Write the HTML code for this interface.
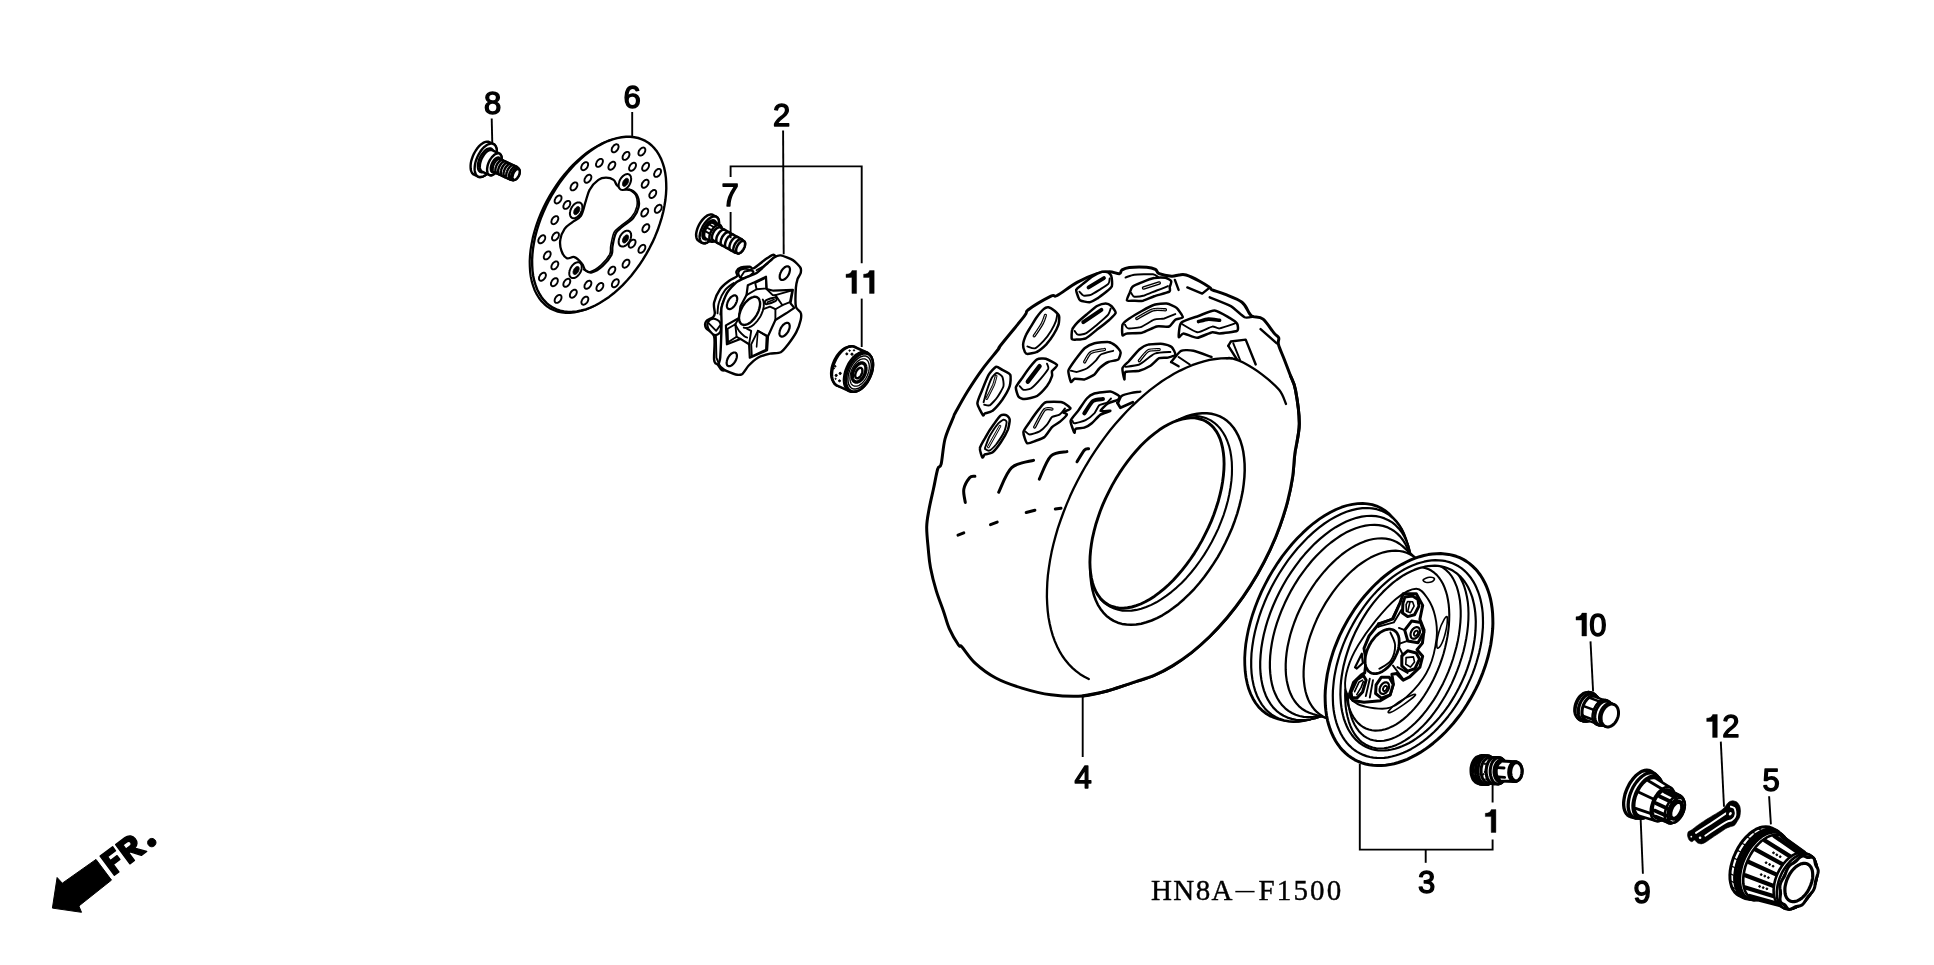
<!DOCTYPE html>
<html>
<head>
<meta charset="utf-8">
<title>HN8A-F1500</title>
<style>
html,body{margin:0;padding:0;background:#fff;}
body{width:1934px;height:965px;overflow:hidden;font-family:"Liberation Sans",sans-serif;}
svg{display:block;position:absolute;left:0;top:0;}
.lbl{font-family:"Liberation Sans",sans-serif;font-size:31px;fill:#000;stroke:#000;stroke-width:1.4px;stroke-linejoin:round;text-anchor:middle;}
.code{font-family:"Liberation Serif",serif;font-size:29px;fill:#000;stroke:#000;stroke-width:0.4px;}
.fr{font-family:"Liberation Sans",sans-serif;font-weight:bold;font-size:30px;fill:#000;stroke:#000;stroke-width:1.6px;stroke-linejoin:round;}
.ld{stroke:#000;stroke-width:1.9;fill:none;stroke-linecap:butt;}
.o{stroke:#000;stroke-width:2.3;fill:none;stroke-linecap:round;stroke-linejoin:round;}
.h{stroke:#000;stroke-width:2.6;fill:none;stroke-linecap:round;stroke-linejoin:round;}
.m{stroke:#000;stroke-width:1.9;fill:none;stroke-linecap:round;stroke-linejoin:round;}
.t{stroke:#000;stroke-width:1.6;fill:none;stroke-linecap:round;stroke-linejoin:round;}
.w{stroke:#000;stroke-width:2.3;fill:#fff;stroke-linecap:round;stroke-linejoin:round;}
.wm{stroke:#000;stroke-width:1.9;fill:#fff;stroke-linecap:round;stroke-linejoin:round;}
.k{fill:#000;stroke:#000;stroke-width:1;stroke-linejoin:round;}
.wf{fill:#fff;stroke:none;}
</style>
</head>
<body>
<svg width="1934" height="965" viewBox="0 0 1934 965">
<rect x="0" y="0" width="1934" height="965" fill="#fff"/>
<g id="tire">
<path class="w" d="M1108 690.7 C1099.2 693.1 1092.3 695.3 1082.8 696 C1073.3 696.7 1061.1 696.1 1050.9 694.8 C1040.8 693.5 1031.1 690.9 1021.9 688.1 C1012.7 685.3 1003.5 682.1 995.8 678 C988 673.9 981 668.6 975.4 663.4 C969.8 658.2 964.8 650.1 962 647 C959.2 643.9 960.6 648.1 958.5 645 C956.4 641.9 951.8 634.2 949.3 628.6 C946.8 623 945.7 617.5 943.5 611.2 C941.3 604.9 938.5 598.1 936.3 590.9 C934.1 583.6 931.8 574.5 930.5 567.7 C929.2 560.9 929 557.1 928.4 550.3 C927.8 543.5 926.6 533.9 926.7 527.1 C926.8 520.3 927.9 515.9 929 509.6 C930.1 503.3 931.9 496.1 933.4 489.3 C934.9 482.5 936.4 473.2 937.7 469 C939 464.8 940 468.8 941.2 463.8 C942.4 458.8 943 446.8 945 439 C947 431.2 951.8 421.4 953.5 417 C955.2 412.6 953.2 416.7 955.5 412.5 C957.8 408.3 962.8 398.9 967.3 391.7 C971.8 384.5 977.1 376.4 982.3 369.3 C987.5 362.2 995.5 353 998.5 349 C1001.5 345 996.2 351 1000.5 345.5 C1004.8 340 1019.9 321.9 1024.5 315.9 C1029.1 309.9 1023.9 313 1028.3 309.7 C1032.7 306.4 1046.2 298.5 1051 296.1 C1055.8 293.7 1052.9 297.8 1057.2 295.5 C1061.5 293.2 1070.5 286 1077.1 282.4 C1083.7 278.8 1091.6 275.5 1097 273.7 C1102.4 271.9 1105.8 271.8 1109.5 271.8 C1113.2 271.8 1117.3 274 1119.4 273.7 C1121.5 273.4 1120.2 271 1121.9 270 C1123.6 269 1125.2 268 1129.3 267.5 C1133.4 267 1142.3 266.9 1146.7 267.2 C1151.1 267.5 1153.3 268.3 1155.4 269.4 C1157.5 270.5 1156.5 272.6 1159.2 273.7 C1161.9 274.8 1168.3 276 1171.6 276.2 C1174.9 276.4 1176.6 275.2 1179 275 C1181.4 274.8 1182.6 274 1186.1 275 C1189.5 276 1195.8 279.1 1199.7 281.2 C1203.6 283.3 1207.6 285.9 1209.7 287.4 C1211.8 288.8 1209.7 288.8 1212.2 289.9 C1214.7 291 1219.6 292.1 1224.6 294.2 C1229.6 296.3 1237.8 299.1 1242 302.3 C1246.2 305.5 1247.6 311.1 1249.5 313.5 C1251.4 315.9 1250.9 315.7 1253.2 316.6 C1255.5 317.5 1259.6 316.3 1263.1 319.1 C1266.6 321.9 1271.7 330.3 1274.3 333.4 C1276.9 336.5 1278 335.9 1278.7 337.8 C1279.4 339.7 1277.6 341 1278.5 344.6 C1279.4 348.2 1282.3 354.3 1284.3 359.5 C1286.3 364.7 1288.6 370.6 1290.5 375.7 C1292.4 380.8 1294 381.9 1295.5 390 C1297 398.1 1299.4 413.3 1299.3 424 C1299.2 434.7 1295.9 445.1 1294.8 454 C1293.7 462.9 1293.8 469.3 1292.6 477.1 C1291.4 485 1289.7 493.2 1287.6 501.3 C1285.5 509.4 1282.9 517.7 1279.9 525.9 C1277 534.1 1273.5 542.4 1269.8 550.4 C1266 558.5 1261.8 566.5 1257.4 574.3 C1252.9 582 1248.1 589.6 1243 596.9 C1237.9 604.2 1232.5 611.2 1227 617.8 C1221.4 624.4 1215.6 630.7 1209.7 636.5 C1203.7 642.3 1197.6 647.7 1191.5 652.6 C1185.3 657.4 1179 661.8 1172.8 665.6 C1166.6 669.4 1160.3 672.7 1154.1 675.4 C1147.9 678 1143.5 679.1 1135.8 681.6 C1128.1 684.2 1116.8 688.3 1108 690.7 Z" style="stroke-width:3"/>
<path class="m" d="M1228.3 345.8 L1230.8 341.5 L1245.7 339.6 L1255.7 364.5" style="stroke-width:2.4"/>
<path class="m" d="M1228.3 345.8 L1237 359.5" style="stroke-width:2.4"/>
<path class="m" d="M1233.3 343.3 L1240.1 360.1" style="stroke-width:1.9"/>
<path class="m" d="M1171.1 362 C1172.1 360.9 1178.8 351.9 1181.1 350.8 C1183.3 349.7 1190.5 350.2 1193.5 350.8 C1196.6 351.4 1209.7 356.4 1211.5 357" style="stroke-width:2.4"/>
<path class="m" d="M1178.6 357 L1189.8 364.5" style="stroke-width:2.1"/>
<path class="m" d="M1171.1 362 L1178.6 366.3" style="stroke-width:2.4"/>
<path class="m" d="M1117.9 403.5 C1118.3 402.7 1120.2 397.1 1121.6 396 C1123 394.9 1129.7 393.3 1131.6 392.9 C1133.4 392.5 1139.4 391.8 1140.3 391.6" style="stroke-width:2.4"/>
<path class="m" d="M1117.3 402.8 L1120.4 407.8 L1132.8 402.2" style="stroke-width:2.8"/>
<path class="m" d="M1187.3 287.4 L1202.2 293.6 L1208.4 288.6" style="stroke-width:2.4"/>
<path class="m" d="M1209.7 297.3 C1211.8 298.2 1227.3 304.1 1230.8 306.1 C1234.3 308 1242.2 316.2 1244.5 317.2 C1246.7 318.3 1252.3 316.7 1253.2 316.6" style="stroke-width:2.4"/>
<path class="m" d="M1260.6 329.1 L1276.8 343.3" style="stroke-width:2.4"/>
<path class="m" d="M1174.9 279.9 L1178.6 289.9" style="stroke-width:2.4"/>
<path class="m" d="M1125.6 277.4 C1126.5 277.2 1131.6 275 1134.3 274.7 C1137.1 274.4 1150.6 274.1 1153 274.3 C1155.3 274.5 1157.4 276.6 1157.9 276.8" style="stroke-width:2.1"/>
<path class="w" d="M1076.3 289.6 C1075.7 290.9 1077.7 295.6 1078.1 296.7 C1078.5 297.8 1079.1 299.9 1080.2 300.4 C1081.4 301 1087.8 302.5 1089.6 302.3 C1091.3 302.1 1096 299.3 1097.6 298.3 C1099.3 297.3 1104.5 293.3 1106 292.1 C1107.4 290.9 1111.4 287.7 1111.9 286.1 C1112.5 284.6 1111.8 277.8 1111.4 276.4 C1111.1 275.1 1109.2 272.9 1108.2 272.5 C1107.3 272 1103.6 271.4 1102 271.8 C1100.4 272.3 1093.9 275.6 1092 276.8 C1090.2 278 1084.9 282.4 1083.3 283.6 C1081.8 284.9 1076.8 288.3 1076.3 289.6 Z" style="stroke-width:2.5"/>
<path class="m" d="M1079.4 291.7 C1079.8 292.1 1082.5 295.3 1083.6 295.6 C1084.7 295.9 1089.2 295.4 1090.8 294.8 C1092.4 294.2 1098 290.7 1099.8 289.6 C1101.5 288.5 1107.5 284.8 1108.5 283.6 C1109.5 282.5 1109.6 278.9 1109.7 278.4" style="stroke-width:1.9"/>
<path d="M1088.6 287.4 L1103.9 278.1" fill="none" stroke="#000" stroke-width="4" stroke-linecap="round" stroke-linejoin="round"/>
<path class="w" d="M1126.9 300.4 C1126.5 299.6 1129 294.3 1129.6 293 C1130.2 291.6 1131.2 287.8 1132.5 286.8 C1133.7 285.7 1139.6 283.3 1141.8 282.4 C1144 281.5 1151.8 278.5 1154.2 278.1 C1156.6 277.6 1163.7 277.5 1165.4 277.8 C1167.1 278.1 1170.8 280.2 1171.2 281.2 C1171.7 282.1 1169.9 286.3 1169.7 287.4 C1169.6 288.4 1170.9 290.8 1169.4 291.7 C1167.8 292.6 1156.8 295.4 1154.2 296.3 C1151.6 297.2 1145.1 300.2 1143 300.7 C1140.9 301.1 1134.7 300.8 1133.1 300.8 C1131.5 300.8 1127.2 301.2 1126.9 300.4 Z" style="stroke-width:2.5"/>
<path class="m" d="M1131.2 293 C1131.5 293.3 1133 296.5 1134.3 296.7 C1135.6 296.9 1142 296.1 1144.3 295.5 C1146.5 294.8 1154.3 291.4 1156.7 290.5 C1159.1 289.6 1166.8 286.6 1167.9 286.1" style="stroke-width:1.9"/>
<path d="M1143.6 288 L1159.2 283" fill="none" stroke="#000" stroke-width="3.6" stroke-linecap="round" stroke-linejoin="round"/>
<path d="M1143.6 288 L1159.2 283" fill="none" stroke="#fff" stroke-width="0.9" stroke-linecap="round" stroke-linejoin="round"/>
<path class="w" d="M1023.1 344.6 C1023.2 342.8 1025.4 336.4 1026.2 334.6 C1026.9 332.9 1029.5 328.9 1030.5 327.2 C1031.6 325.4 1035.4 319 1036.7 317.2 C1038 315.4 1042.4 310.1 1043.6 309.1 C1044.7 308.1 1047.4 307.1 1048.5 307.3 C1049.7 307.5 1053.7 310.1 1054.8 311 C1055.8 311.9 1058.7 314.6 1059.1 316 C1059.5 317.3 1059 322.8 1058.5 324.7 C1057.9 326.5 1054.8 332.6 1053.5 334.6 C1052.3 336.6 1047.7 342.8 1046.1 344.6 C1044.4 346.3 1038.6 351.1 1036.7 352 C1034.9 353 1028.6 353.9 1027.4 353.9 C1026.2 353.9 1025.4 353 1024.9 352 C1024.5 351.1 1022.9 346.3 1023.1 344.6 Z" style="stroke-width:2.5"/>
<path class="m" d="M1027.4 346.4 C1028.2 346.6 1033.2 348.9 1034.9 348.3 C1036.5 347.7 1041.9 342.6 1043.6 340.8 C1045.2 339.1 1049.8 332.9 1051 330.9 C1052.3 328.9 1055.4 322.6 1056 320.9 C1056.6 319.3 1057.1 315.3 1057.2 314.7" style="stroke-width:1.9"/>
<path d="M1034.2 335.9 C1035.3 334.3 1040.9 326 1042.3 323.4 C1043.7 320.9 1045 316.4 1045.4 315.3" fill="none" stroke="#000" stroke-width="3.2" stroke-linecap="round" stroke-linejoin="round"/>
<path d="M1034.2 335.9 C1035.3 334.3 1040.9 326 1042.3 323.4 C1043.7 320.9 1045 316.4 1045.4 315.3" fill="none" stroke="#fff" stroke-width="0.9" stroke-linecap="round" stroke-linejoin="round"/>
<path class="w" d="M1071.8 339 C1071.4 338 1071.6 331.3 1072.2 329.6 C1072.7 328 1075.6 324.4 1077.1 322.8 C1078.6 321.3 1085.1 315.8 1087.1 314.1 C1089.1 312.4 1095.2 307.1 1097 306 C1098.9 305 1104.3 303.5 1105.7 303.5 C1107.2 303.5 1110.3 305.1 1111.3 306 C1112.3 307 1115.9 311.5 1115.7 312.9 C1115.5 314.2 1111.3 318 1109.5 319.7 C1107.6 321.4 1099.4 327.8 1097 329.6 C1094.7 331.5 1087.9 337.4 1085.8 338.3 C1083.7 339.3 1077.3 339.5 1075.9 339.6 C1074.5 339.7 1072.2 340 1071.8 339 Z" style="stroke-width:2.5"/>
<path class="m" d="M1074.6 330.9 C1075 331.3 1076.6 334.4 1077.8 334.6 C1078.9 334.9 1083.9 334.4 1085.8 333.4 C1087.8 332.4 1094.8 326.5 1097 324.7 C1099.3 322.8 1106.8 316.3 1108.2 314.7 C1109.6 313.1 1110.4 309.1 1110.7 308.5" style="stroke-width:1.9"/>
<path d="M1083.3 322.2 L1101.4 309.8" fill="none" stroke="#000" stroke-width="4" stroke-linecap="round" stroke-linejoin="round"/>
<path class="w" d="M1122.5 335.2 C1122.1 334.4 1121.8 326.4 1122.5 324.7 C1123.2 323 1127.4 319.8 1129.3 318.5 C1131.3 317.1 1139.3 312.4 1141.8 311 C1144.3 309.6 1151.7 305.5 1154.2 304.8 C1156.7 304 1164.4 303.2 1166.6 303.5 C1168.9 303.8 1175 306.5 1176.6 307.9 C1178.2 309.3 1182.9 316 1182.8 317.2 C1182.7 318.4 1176.7 318.8 1175.3 319.7 C1174 320.6 1171 325.9 1169.1 326.5 C1167.3 327.2 1159.4 325.9 1156.7 326.5 C1154 327.2 1144.8 332.1 1141.8 332.8 C1138.8 333.4 1128.8 333.1 1126.9 333.4 C1124.9 333.6 1122.9 336.1 1122.5 335.2 Z" style="stroke-width:2.5"/>
<path class="m" d="M1125 324.7 C1125.3 325 1126.5 328.2 1128.1 328.4 C1129.7 328.6 1137.9 328 1140.5 327.2 C1143.1 326.3 1151.8 320.6 1154.2 319.7 C1156.6 318.8 1162 319 1164.2 318.5 C1166.3 317.9 1174.2 314.5 1175.3 314.1" style="stroke-width:1.9"/>
<path d="M1136.8 318.5 C1138.8 317.4 1149.4 310.8 1153 309.8 C1156.5 308.7 1163.8 309.8 1165.4 309.8" fill="none" stroke="#000" stroke-width="3.4" stroke-linecap="round" stroke-linejoin="round"/>
<path d="M1136.8 318.5 C1138.8 317.4 1149.4 310.8 1153 309.8 C1156.5 308.7 1163.8 309.8 1165.4 309.8" fill="none" stroke="#fff" stroke-width="0.8" stroke-linecap="round" stroke-linejoin="round"/>
<path class="w" d="M1178.8 337.1 C1178.6 336.1 1179.1 324.9 1181.1 322.8 C1183 320.7 1195.1 317.2 1198.5 316 C1201.8 314.8 1211.5 310.2 1214.6 310.4 C1217.8 310.6 1227.3 316.6 1229.6 317.9 C1231.8 319.2 1236.3 322.2 1237 323.5 C1237.8 324.8 1238.8 329.9 1237 330.9 C1235.3 331.9 1222.1 333.3 1219.6 333.4 C1217.1 333.5 1214.4 331.7 1212.2 332.2 C1209.9 332.6 1200.1 337.6 1197.2 337.8 C1194.4 337.9 1185.4 333.5 1183.6 333.4 C1181.7 333.3 1179.1 338.2 1178.8 337.1 Z" style="stroke-width:2.5"/>
<path class="m" d="M1181.1 323.5 C1182.7 324.3 1194.1 331.8 1197.2 332.2 C1200.3 332.5 1209.9 326.9 1212.2 326.6 C1214.4 326.2 1217.3 328.8 1219.6 328.4 C1222 328.1 1234.2 323.7 1235.8 323.2" style="stroke-width:1.9"/>
<path d="M1198.5 321.6 C1199.7 321.3 1205.8 319.3 1208.4 319.1 C1211.1 318.9 1218.2 320.2 1219.6 320.3" fill="none" stroke="#000" stroke-width="3.6" stroke-linecap="round" stroke-linejoin="round"/>
<path class="w" d="M983 415.3 C982.3 414.3 977.5 405.9 977.4 403.5 C977.3 401 980.6 393.9 981.8 391 C982.9 388.2 987.2 377.3 988.6 374.9 C990 372.4 994.7 367.3 996.1 366.8 C997.4 366.3 1000.8 369.1 1002.3 369.9 C1003.7 370.7 1009.6 373.2 1010.3 374.9 C1011.1 376.5 1010.5 383.6 1009.7 386.1 C1008.9 388.5 1004 397.2 1002.3 399.7 C1000.5 402.2 994.1 409.5 992.3 410.9 C990.6 412.3 985.8 413 984.9 413.4 C983.9 413.8 983.7 416.3 983 415.3 Z" style="stroke-width:2.5"/>
<path class="m" d="M983.6 402.2 C983.9 401.1 985.9 393.4 986.7 391 C987.5 388.6 990.7 379.8 991.7 378 C992.7 376.2 995.6 373.1 996.7 373 C997.7 372.9 1001.6 375.4 1002.3 376.7 C1003 378 1004 384 1003.5 386.1 C1003 388.1 998.7 395.3 997.3 397.2 C995.9 399.2 991.1 404.6 989.8 405.3 C988.5 406.1 984.8 404.8 984.2 404.7" style="stroke-width:1.9"/>
<path d="M986.7 398.5 C987.6 396.8 992.4 387.6 993.6 384.8 C994.7 382 995.7 377.2 996.1 376.1" fill="none" stroke="#000" stroke-width="2.8" stroke-linecap="round" stroke-linejoin="round"/>
<path d="M986.7 398.5 C987.6 396.8 992.4 387.6 993.6 384.8 C994.7 382 995.7 377.2 996.1 376.1" fill="none" stroke="#fff" stroke-width="0.8" stroke-linecap="round" stroke-linejoin="round"/>
<path class="w" d="M1018.4 396.6 C1017.6 395.4 1015.6 389.2 1015.9 387.3 C1016.3 385.4 1020.8 380 1022.2 378 C1023.5 376 1028.1 369.3 1029.6 367.4 C1031.1 365.5 1035.5 360.2 1037.1 359.3 C1038.7 358.5 1043.8 358.1 1045.8 358.7 C1047.8 359.3 1056.3 363.7 1057 364.9 C1057.6 366.2 1052.5 370 1052 371.1 C1051.5 372.3 1052.5 374.6 1052 376.1 C1051.5 377.6 1048.5 384.1 1047 386.1 C1045.5 388 1039.3 394.7 1037.1 396 C1034.8 397.3 1026.5 399 1024.6 399.1 C1022.8 399.2 1019.3 397.8 1018.4 396.6 Z" style="stroke-width:2.5"/>
<path class="m" d="M1019.7 386.1 C1020 386.4 1022.3 389.5 1023.4 389.8 C1024.5 390 1029.1 389.7 1030.9 388.5 C1032.6 387.4 1039.1 380.6 1040.8 378.6 C1042.5 376.6 1047.6 370.1 1048.3 368.6 C1048.9 367.2 1047.1 364.2 1047 363.7" style="stroke-width:1.9"/>
<path d="M1027.8 381.7 L1039.6 366.2" fill="none" stroke="#000" stroke-width="4.4" stroke-linecap="round" stroke-linejoin="round"/>
<path class="w" d="M1070.9 381.9 C1070.3 381 1068.1 372.8 1068.4 370.7 C1068.8 368.6 1073 363 1074.6 360.7 C1076.3 358.5 1082.6 350 1084.6 348.3 C1086.6 346.6 1092.2 343.9 1094.5 343.3 C1096.9 342.7 1106.1 341.8 1108.2 342.1 C1110.3 342.3 1114.4 344.8 1115.7 345.8 C1116.9 346.8 1120.4 350.7 1120.6 352 C1120.9 353.4 1119.4 358.5 1118.2 359.5 C1116.9 360.5 1110.1 361.1 1108.2 362 C1106.3 362.8 1100.9 366.9 1099.5 368.2 C1098.1 369.4 1096 373.3 1094.5 374.4 C1093 375.5 1086.6 378.9 1084.6 379.4 C1082.6 379.8 1076 378.5 1074.6 378.7 C1073.3 379 1071.5 382.7 1070.9 381.9 Z" style="stroke-width:2.5"/>
<path class="m" d="M1070.9 370.7 C1071.5 370.8 1075.5 372.2 1077.1 371.9 C1078.7 371.7 1085.2 369.3 1087.1 368.2 C1088.9 367.1 1094.4 362.1 1095.8 360.7 C1097.1 359.4 1099 355.5 1100.8 354.5 C1102.5 353.5 1111.9 351.2 1113.2 350.8" style="stroke-width:1.9"/>
<path d="M1084.6 362 C1085.4 360.8 1088.3 354.2 1090.8 352.6 C1093.3 351.1 1102.8 349.9 1104.5 349.5" fill="none" stroke="#000" stroke-width="3.2" stroke-linecap="round" stroke-linejoin="round"/>
<path d="M1084.6 362 C1085.4 360.8 1088.3 354.2 1090.8 352.6 C1093.3 351.1 1102.8 349.9 1104.5 349.5" fill="none" stroke="#fff" stroke-width="0.9" stroke-linecap="round" stroke-linejoin="round"/>
<path class="w" d="M1124.4 379.4 C1124.1 379 1122 370 1122.5 368.2 C1123 366.3 1127.7 362.6 1129.3 360.7 C1131 358.9 1137.4 351.2 1139.3 349.5 C1141.2 347.9 1145.6 345.1 1148 344.6 C1150.4 344 1160.5 343.7 1162.9 343.9 C1165.3 344.2 1170.4 346 1171.6 347 C1172.9 348.1 1175.7 353.5 1175.3 354.5 C1175 355.6 1169.5 357.2 1167.9 357.6 C1166.3 358 1160.9 357.4 1159.2 358.2 C1157.4 359 1152.5 364.5 1150.5 365.7 C1148.5 366.9 1141.8 370 1139.3 370.7 C1136.8 371.3 1127.1 371 1125.6 371.9 C1124.1 372.8 1124.7 379.7 1124.4 379.4 Z" style="stroke-width:2.5"/>
<path class="m" d="M1125.6 366.9 C1127 366.7 1137.1 365.3 1139.3 364.5 C1141.5 363.6 1146.4 359.4 1148 358.2 C1149.6 357.1 1153.2 353.9 1155.5 353.3 C1157.7 352.6 1168.9 352.1 1170.4 352" style="stroke-width:1.9"/>
<path d="M1139.3 360.7 C1140.4 359.5 1145.5 352.2 1148 350.8 C1150.5 349.4 1157.8 349.7 1159.2 349.5" fill="none" stroke="#000" stroke-width="3.2" stroke-linecap="round" stroke-linejoin="round"/>
<path d="M1139.3 360.7 C1140.4 359.5 1145.5 352.2 1148 350.8 C1150.5 349.4 1157.8 349.7 1159.2 349.5" fill="none" stroke="#fff" stroke-width="0.9" stroke-linecap="round" stroke-linejoin="round"/>
<path class="w" d="M982.4 457.5 C981.9 456.9 979.6 450.1 979.9 448.2 C980.1 446.3 983.5 440.6 984.9 438.3 C986.2 435.9 991.9 426.9 993.6 424.6 C995.2 422.3 999.7 416.2 1001 415.3 C1002.3 414.3 1005.7 414.8 1006.6 415.3 C1007.5 415.7 1009.6 418.2 1009.7 419.6 C1009.9 421 1008.7 427.3 1007.9 429.6 C1007 431.8 1002.6 439.7 1001 442 C999.5 444.3 993.9 451.3 992.3 452.6 C990.7 453.8 985.9 453.9 984.9 454.4 C983.9 454.9 982.9 458.2 982.4 457.5 Z" style="stroke-width:2.5"/>
<path class="m" d="M984.9 448.2 C985.3 447.1 988 439.4 989.2 437 C990.5 434.7 995.9 426.3 997.3 424.6 C998.7 422.8 1002.6 419.9 1003.5 419.6 C1004.4 419.4 1006.6 420.9 1006.6 422.1 C1006.7 423.3 1005.2 429.8 1004.1 432 C1003.1 434.3 997.5 442.6 996.1 444.5 C994.6 446.3 990.3 450.3 989.2 450.7 C988.1 451.1 985.3 449 984.9 448.8" style="stroke-width:1.9"/>
<path d="M988.3 447 L1000 426.1" fill="none" stroke="#000" stroke-width="2.6" stroke-linecap="round" stroke-linejoin="round"/>
<path d="M988.3 447 L1000 426.1" fill="none" stroke="#fff" stroke-width="0.9" stroke-linecap="round" stroke-linejoin="round"/>
<path class="w" d="M1027.1 443.2 C1025.9 442.4 1023.2 434.2 1023.4 432 C1023.6 429.9 1028 424.5 1029.6 422.1 C1031.2 419.7 1037.9 410.4 1039.6 408.4 C1041.2 406.4 1043.5 402.8 1045.8 402.2 C1048 401.6 1059.5 401.6 1061.9 402.2 C1064.4 402.8 1070.5 407.4 1070.6 408.4 C1070.8 409.4 1063.6 411.5 1063.2 412.2 C1062.8 412.8 1067.3 413.6 1066.9 414.6 C1066.5 415.6 1060.9 420.9 1059.5 422.1 C1058 423.3 1053.5 425.6 1052 427.1 C1050.5 428.6 1046.2 435.7 1044.5 437 C1042.9 438.4 1037.6 440.1 1035.8 440.8 C1034.1 441.4 1028.4 444.1 1027.1 443.2 Z" style="stroke-width:2.5"/>
<path class="m" d="M1025.3 431.4 C1025.7 431.7 1028.2 434.5 1029.6 434.5 C1031 434.5 1037.8 432.4 1039.6 431.4 C1041.3 430.4 1045.8 426 1047 424.6 C1048.3 423.2 1050.8 418.1 1052 417.1 C1053.2 416.1 1058.1 415.5 1059.5 414.6 C1060.8 413.8 1064.5 409.1 1065 408.4" style="stroke-width:1.9"/>
<path d="M1034.6 427.1 C1035.8 424.9 1042.4 411.9 1044.5 409.7 C1046.7 407.4 1051.1 409.1 1052 409.1" fill="none" stroke="#000" stroke-width="3.2" stroke-linecap="round" stroke-linejoin="round"/>
<path d="M1034.6 427.1 C1035.8 424.9 1042.4 411.9 1044.5 409.7 C1046.7 407.4 1051.1 409.1 1052 409.1" fill="none" stroke="#fff" stroke-width="0.8" stroke-linecap="round" stroke-linejoin="round"/>
<path class="w" d="M1074.4 432.7 C1073.9 431.9 1070.3 423 1070.6 420.9 C1071 418.7 1076.5 413.2 1078.1 410.9 C1079.7 408.7 1085.2 400.2 1086.8 398.5 C1088.4 396.7 1091.9 394.2 1094.3 393.5 C1096.6 392.8 1107.9 391.4 1110.4 391.6 C1112.9 391.9 1118.4 395.2 1119.1 396 C1119.9 396.8 1119 399 1117.9 399.7 C1116.8 400.5 1109.7 402.3 1107.9 403.5 C1106.2 404.6 1100.2 410.2 1100.5 410.9 C1100.7 411.7 1110.4 410.5 1110.4 410.9 C1110.4 411.3 1102.3 413.4 1100.5 414.6 C1098.6 415.9 1093.4 422 1091.8 423.3 C1090.2 424.7 1085.9 427.1 1084.3 427.7 C1082.7 428.3 1076.6 428.4 1075.6 428.9 C1074.6 429.4 1074.9 433.5 1074.4 432.7 Z" style="stroke-width:2.5"/>
<path class="m" d="M1072.5 420.9 C1072.7 421.1 1073.1 423.4 1074.4 423.3 C1075.7 423.3 1083.6 421.2 1085.6 420.2 C1087.5 419.2 1092.9 414.9 1094.3 413.4 C1095.6 411.9 1098 406.4 1099.2 405.3 C1100.5 404.3 1105.5 403.5 1106.7 402.8 C1107.9 402.2 1110.6 398.9 1111 398.5" style="stroke-width:1.9"/>
<path d="M1084.3 413.4 C1085.4 411.8 1090.7 402.8 1093 401 C1095.3 399.2 1101.7 399.3 1103 399.1" fill="none" stroke="#000" stroke-width="4" stroke-linecap="round" stroke-linejoin="round"/>
<path class="wf" d="M1296.3 452.2 L1294.6 430 L1288.5 408 L1279.3 390 L1261.9 374.4 L1243.2 362.6 L1231.9 358.3 L1226.2 358.1 L1220.4 358.4 L1214.4 359.1 L1208.3 360.2 L1202.2 361.8 L1195.9 363.8 L1189.6 366.2 L1183.2 369.1 L1176.8 372.3 L1170.4 376 L1163.9 380 L1157.5 384.4 L1151.2 389.2 L1144.8 394.3 L1138.6 399.8 L1132.4 405.6 L1126.4 411.7 L1120.5 418.1 L1114.6 424.8 L1109 431.8 L1103.5 439 L1098.2 446.4 L1093.1 454 L1088.2 461.8 L1083.5 469.7 L1079.1 477.8 L1074.9 486 L1071 494.3 L1067.3 502.7 L1063.9 511.1 L1060.8 519.5 L1058 528 L1055.5 536.4 L1053.3 544.8 L1051.4 553.1 L1049.9 561.4 L1048.6 569.5 L1047.7 577.5 L1047.1 585.4 L1046.9 593 L1047 600.5 L1047.4 607.8 L1048.2 614.8 L1049.3 621.6 L1050.7 628.2 L1052.4 634.4 L1054.5 640.3 L1056.8 645.9 L1059.5 651.2 L1062.5 656.1 L1065.8 660.7 L1069.3 664.9 L1073.1 668.7 L1077.2 672.1 L1081.5 675.1 L1086.1 677.7 L1090.9 679.8 L1095.9 681.6 L1101.2 682.9 L1106.6 683.8 L1112.1 684.2 L1117.9 684.2 L1123.8 683.8 L1129.8 682.9 L1135.9 681.6 L1142.1 679.9 L1148.4 677.7 L1154.7 675.1 L1161.1 672.1 L1167.5 668.7 L1174 664.9 L1180.4 660.7 L1186.8 656.1 L1193.1 651.2 L1199.4 646 L1205.6 640.3 L1211.8 634.4 L1217.8 628.2 L1223.7 621.7 L1229.4 614.9 L1235 607.8 L1240.4 600.6 L1245.6 593.1 L1250.7 585.4 L1255.5 577.5 L1260 569.5 L1264.4 561.4 L1268.5 553.2 L1272.3 544.8 L1275.9 536.4 L1279.2 528 L1282.1 519.5 L1284.8 511.1 L1287.2 502.7 L1289.3 494.3 L1291 486 L1292.5 477.8 L1293.6 469.7 L1294.3 461.8 L1294.8 454 Z"/>
<path class="t" d="M1286 404 C1284.9 401.7 1283.3 394.9 1279.3 390 C1275.3 385.1 1267.9 379 1261.9 374.4 C1255.9 369.8 1248.2 365.3 1243.2 362.6 C1238.2 359.9 1234.7 359.1 1231.9 358.3 C1229.1 357.6 1227.4 358.2 1226.5 358.1" style="stroke-width:2.3"/>
<path class="t" d="M1231.9 358.3 L1226.5 358.1 L1221 358.3 L1215.4 359 L1209.7 359.9 L1203.9 361.3 L1198.1 363.1 L1192.1 365.2 L1186.1 367.7 L1180.1 370.6 L1174 373.8 L1168 377.4 L1161.9 381.3 L1155.9 385.6 L1149.9 390.2 L1144 395.1 L1138.1 400.3 L1132.3 405.8 L1126.6 411.5 L1121 417.6 L1115.5 423.8 L1110.1 430.3 L1104.9 437.1 L1099.9 444 L1095 451.1 L1090.3 458.4 L1085.8 465.8 L1081.5 473.4 L1077.4 481 L1073.5 488.8 L1069.9 496.6 L1066.5 504.6 L1063.4 512.5 L1060.5 520.5 L1057.8 528.4 L1055.5 536.4 L1053.4 544.3 L1051.6 552.1 L1050.1 559.9 L1048.9 567.6 L1047.9 575.2 L1047.3 582.7 L1047 590 L1046.9 597.1 L1047.2 604.1 L1047.7 610.8 L1048.5 617.4 L1049.7 623.7 L1051.1 629.8 L1052.8 635.6 L1054.8 641.1 L1057.1 646.4 L1059.6 651.3 L1062.4 656 L1065.5 660.3 L1068.8 664.3 L1072.3 667.9 L1076.1 671.2 L1080.1 674.2 L1084.4 676.8 L1088.8 679" style="stroke-width:2.3"/>
<path class="o" d="M1290.5 375.7 C1291.3 378.1 1294 381.9 1295.5 390 C1297 398.1 1299.4 413.3 1299.3 424 C1299.2 434.7 1295.9 445.1 1294.8 454 C1293.7 462.9 1293.8 469.3 1292.6 477.1 C1291.4 485 1289.7 493.2 1287.6 501.3 C1285.5 509.4 1282.9 517.7 1279.9 525.9 C1277 534.1 1273.5 542.4 1269.8 550.4 C1266 558.5 1261.8 566.5 1257.4 574.3 C1252.9 582 1248.1 589.6 1243 596.9 C1237.9 604.2 1232.5 611.2 1227 617.8 C1221.4 624.4 1215.6 630.7 1209.7 636.5 C1203.7 642.3 1197.6 647.7 1191.5 652.6 C1185.3 657.4 1179 661.8 1172.8 665.6 C1166.6 669.4 1160.3 672.7 1154.1 675.4 C1147.9 678 1143.5 679.1 1135.8 681.6 C1128.1 684.2 1116.8 688.3 1108 690.7 C1099.2 693.1 1087 695.1 1082.8 696" style="stroke-width:3"/>
<path class="m" d="M1176.2 420.8 L1181.6 418.3 L1186.9 416.2 L1192.1 414.7 L1197.2 413.7 L1202.1 413.2 L1206.9 413.2 L1211.4 413.8 L1215.8 414.9 L1219.9 416.4 L1223.8 418.5 L1227.3 421.1 L1230.6 424.2 L1233.6 427.8 L1236.2 431.8 L1238.5 436.2 L1240.5 441 L1242.1 446.3 L1243.3 451.8 L1244.1 457.8 L1244.6 464 L1244.7 470.5 L1244.4 477.2 L1243.7 484.1 L1242.7 491.3 L1241.2 498.5 L1239.4 505.9 L1237.3 513.3 L1234.8 520.7 L1232 528.2 L1228.8 535.5 L1225.4 542.8 L1221.7 550 L1217.7 557.1 L1213.4 563.9 L1208.9 570.5 L1204.2 576.9 L1199.4 583 L1194.4 588.8 L1189.2 594.2 L1183.9 599.2 L1178.6 603.9 L1173.2 608.1 L1167.8 611.9 L1162.4 615.3 L1157 618.1 L1151.6 620.5 L1146.3 622.3 L1141.2 623.7 L1136.1 624.5 L1131.2 624.8 L1126.5 624.6 L1122 623.9 L1117.8 622.7 L1113.7 620.9 L1110 618.6 L1106.5 615.9 L1103.3 612.6 L1100.5 608.9 L1097.9 604.8 L1095.8 600.2 L1093.9 595.2 L1092.5 589.9 L1091.4 584.2 L1090.7 578.1 L1090.3 571.8" style="stroke-width:2.5"/>
<path class="m" d="M1189.9 415.8 L1194.5 415.8 L1198.9 416.2 L1203.1 417.2 L1207 418.6 L1210.8 420.4 L1214.3 422.8 L1217.5 425.6 L1220.4 428.8 L1223 432.5 L1225.4 436.6 L1227.3 441 L1229 445.8 L1230.3 451 L1231.2 456.5 L1231.8 462.2 L1232 468.2 L1231.9 474.5 L1231.4 480.9 L1230.5 487.5 L1229.3 494.2 L1227.8 501 L1225.9 507.9 L1223.7 514.8 L1221.1 521.7 L1218.3 528.6 L1215.1 535.3 L1211.7 542 L1208 548.5 L1204.1 554.9 L1199.9 561 L1195.6 566.9 L1191.1 572.5 L1186.4 577.9 L1181.6 582.9 L1176.6 587.6 L1171.6 591.8 L1166.6 595.7 L1161.5 599.2 L1156.4 602.3 L1151.3 604.9 L1146.2 607 L1141.2 608.7 L1136.4 609.9 L1131.6 610.6 L1127 610.8 L1122.5 610.6 L1118.2 609.8 L1114.2 608.6 L1110.3 606.9 L1106.8 604.7 L1103.4 602.1 L1100.4 599" style="stroke-width:2.1"/>
<path class="w" d="M1205.3 421 L1208.4 422.9 L1211.3 425.3 L1213.9 428.1 L1216.3 431.3 L1218.3 434.9 L1220.1 438.9 L1221.5 443.3 L1222.6 447.9 L1223.4 452.9 L1223.9 458.2 L1224.1 463.8 L1223.9 469.6 L1223.4 475.6 L1222.6 481.8 L1221.5 488.2 L1220 494.6 L1218.3 501.2 L1216.2 507.8 L1213.9 514.5 L1211.3 521.1 L1208.4 527.7 L1205.2 534.2 L1201.9 540.6 L1198.3 546.9 L1194.5 553.1 L1190.5 559 L1186.4 564.7 L1182.1 570.1 L1177.7 575.3 L1173.2 580.2 L1168.6 584.7 L1164 588.9 L1159.3 592.7 L1154.6 596.2 L1149.9 599.2 L1145.3 601.8 L1140.7 604 L1136.2 605.7 L1131.8 607 L1127.5 607.8 L1123.4 608.2 L1119.4 608.1 L1115.7 607.5 L1112.1 606.5 L1108.7 605 L1105.6 603.1 L1102.7 600.7 L1100.1 597.9 L1097.7 594.7 L1095.7 591.1 L1093.9 587.1 L1092.5 582.7 L1091.4 578.1 L1090.6 573.1 L1090.1 567.8 L1089.9 562.2 L1090.1 556.4 L1090.6 550.4 L1091.4 544.2 L1092.5 537.8 L1094 531.4 L1095.7 524.8 L1097.8 518.2 L1100.1 511.5 L1102.7 504.9 L1105.6 498.3 L1108.8 491.8 L1112.1 485.4 L1115.7 479.1 L1119.5 472.9 L1123.5 467 L1127.6 461.3 L1131.9 455.9 L1136.3 450.7 L1140.8 445.8 L1145.4 441.3 L1150 437.1 L1154.7 433.3 L1159.4 429.8 L1164.1 426.8 L1168.7 424.2 L1173.3 422 L1177.8 420.3 L1182.2 419 L1186.5 418.2 L1190.6 417.8 L1194.6 417.9 L1198.3 418.5 L1201.9 419.5 Z" style="stroke-width:2.9"/>
<path class="o" d="M965.3 502.4 C965 500.2 963.1 493.4 963.8 489.3 C964.5 485.2 967.8 479.9 969.6 477.7 C971.5 475.5 974 476.5 974.9 476.3" style="stroke-width:3"/>
<path class="o" d="M998.7 492.2 C1000.9 488.1 1005.9 472.9 1011.7 467.6 C1017.5 462.3 1029.9 461.5 1033.5 460.3" style="stroke-width:3"/>
<path class="o" d="M1039.3 479.2 C1041.2 475.3 1046.3 460.6 1050.9 456 C1055.5 451.4 1064.2 452.3 1066.9 451.6" style="stroke-width:3"/>
<path class="o" d="M1077 461.8 C1078.2 459.9 1082.4 452.4 1084.3 450.2 C1086.2 448 1087.9 448.9 1088.6 448.7" style="stroke-width:3"/>
<path class="o" d="M958 535.2 L963.8 532.9" style="stroke-width:3"/>
<path class="o" d="M990.5 524.7 L997.2 522.1" style="stroke-width:3"/>
<path class="o" d="M1026.2 512.5 L1034.9 510.2" style="stroke-width:3"/>
<path class="o" d="M1055.3 509.1 L1061 508.2" style="stroke-width:3"/>
</g>
<g id="rim">
<path class="w" d="M1244.7 658.1 L1245.1 651.1 L1245.8 644 L1247 636.7 L1248.5 629.3 L1250.4 621.8 L1252.7 614.2 L1255.3 606.7 L1258.3 599.1 L1261.5 591.6 L1265.1 584.3 L1269 577 L1273.2 569.9 L1277.6 563.1 L1282.2 556.4 L1287.1 550.1 L1292.1 544 L1297.3 538.3 L1302.7 532.9 L1308.1 527.9 L1313.6 523.3 L1319.2 519.1 L1324.8 515.5 L1330.5 512.2 L1336 509.5 L1341.6 507.2 L1347 505.5 L1352.4 504.3 L1357.6 503.6 L1362.7 503.4 L1367.5 503.8 L1372.2 504.6 L1376.7 506.1 L1380.8 508 L1384.8 510.4 L1388.4 513.3 L1391.7 516.7 L1395.9 521.1 L1398.9 525 L1401.5 529.2 L1403.8 533.9 L1405.7 538.9 L1407.2 544.3 L1408.4 550.1 L1409.2 556.2 L1409.6 562.5 L1409.6 569.2 L1409.2 576 L1408.5 583 L1407.4 590.2 L1405.9 597.5 L1404 604.9 L1401.8 612.4 L1399.2 619.8 L1396.3 627.2 L1393 634.6 L1389.5 641.9 L1385.7 649 L1381.6 656 L1377.2 662.7 L1372.7 669.3 L1367.9 675.5 L1362.9 681.5 L1357.8 687.2 L1352.6 692.5 L1347.2 697.4 L1341.8 701.9 L1336.2 706 L1330.7 709.6 L1325.2 712.8 L1319.7 715.5 L1314.2 717.7 L1308.9 719.4 L1303.6 720.6 L1298.5 721.3 L1293.5 721.5 L1288.7 721.1 L1284.1 720.3 L1278.1 718.9 L1273.7 717.5 L1269.5 715.6 L1265.6 713.2 L1262 710.3 L1258.6 706.9 L1255.6 703 L1253 698.7 L1250.7 694 L1248.7 688.8 L1247.2 683.3 L1246 677.5 L1245.2 671.3 L1244.8 664.8 Z" style="stroke-width:2.8"/>
<path class="w" d="M1251.2 660.4 L1251.5 653.5 L1252.3 646.5 L1253.4 639.3 L1254.9 632 L1256.8 624.6 L1259 617.2 L1261.6 609.7 L1264.5 602.3 L1267.7 594.9 L1271.3 587.6 L1275.1 580.5 L1279.2 573.5 L1283.5 566.8 L1288.1 560.2 L1292.9 554 L1297.8 548 L1303 542.4 L1308.2 537.1 L1313.6 532.1 L1319 527.6 L1324.5 523.5 L1330 519.9 L1335.6 516.7 L1341.1 514 L1346.5 511.8 L1351.9 510.1 L1357.2 508.9 L1362.3 508.2 L1367.3 508 L1372.1 508.4 L1376.7 509.2 L1381.1 510.6 L1385.2 512.5 L1389.1 514.9 L1392.6 517.8 L1395.9 521.1 L1398.9 525 L1401.5 529.2 L1403.8 533.9 L1405.7 538.9 L1408.1 545.4 L1409.5 550.6 L1410.7 556.1 L1411.4 561.9 L1411.8 568 L1411.8 574.4 L1411.5 580.9 L1410.8 587.6 L1409.7 594.5 L1408.3 601.5 L1406.5 608.6 L1404.3 615.7 L1401.9 622.8 L1399.1 629.9 L1396 637 L1392.6 643.9 L1389 650.8 L1385 657.4 L1380.9 663.9 L1376.5 670.1 L1371.9 676.1 L1367.2 681.9 L1362.3 687.3 L1357.2 692.3 L1352.1 697 L1346.9 701.4 L1341.7 705.3 L1336.4 708.8 L1331.1 711.8 L1325.8 714.4 L1320.6 716.5 L1315.4 718.1 L1310.4 719.3 L1303.6 720.6 L1298.5 721.3 L1293.5 721.5 L1288.7 721.1 L1284.1 720.3 L1279.7 718.9 L1275.6 717 L1271.7 714.6 L1268.1 711.7 L1264.9 708.4 L1261.9 704.6 L1259.3 700.3 L1257 695.7 L1255.1 690.6 L1253.6 685.2 L1252.4 679.4 L1251.6 673.3 L1251.2 667 Z" style="stroke-width:2.2"/>
<path class="w" d="M1260.2 661.6 L1260.6 655.1 L1261.3 648.3 L1262.4 641.5 L1263.8 634.5 L1265.6 627.4 L1267.7 620.3 L1270.2 613.1 L1273 606 L1276.1 599 L1279.5 592 L1283.1 585.2 L1287 578.5 L1291.2 572.1 L1295.6 565.8 L1300.1 559.8 L1304.9 554.1 L1309.8 548.7 L1314.8 543.6 L1320 538.9 L1325.2 534.6 L1330.4 530.7 L1335.7 527.2 L1341 524.2 L1346.3 521.6 L1351.5 519.5 L1356.6 517.8 L1361.7 516.7 L1366.6 516 L1371.4 515.9 L1376 516.2 L1380.3 517 L1384.5 518.4 L1388.5 520.2 L1392.2 522.4 L1395.6 525.2 L1398.7 528.4 L1401.6 532 L1404.1 536.1 L1406.2 540.6 L1408.1 545.4 L1409.5 550.6 L1410.7 556.1 L1411.4 561.9 L1412.2 568.2 L1412.6 573.9 L1412.6 579.9 L1412.3 586 L1411.6 592.4 L1410.6 598.9 L1409.2 605.4 L1407.6 612.1 L1405.6 618.8 L1403.2 625.5 L1400.6 632.2 L1397.7 638.8 L1394.5 645.4 L1391.1 651.8 L1387.4 658.1 L1383.5 664.2 L1379.3 670.1 L1375 675.7 L1370.6 681.1 L1366 686.2 L1361.2 691 L1356.4 695.4 L1351.5 699.5 L1346.5 703.1 L1341.5 706.4 L1336.6 709.3 L1331.6 711.7 L1325.8 714.4 L1320.6 716.5 L1315.4 718.1 L1310.4 719.3 L1305.5 720 L1300.7 720.1 L1296.1 719.8 L1291.7 718.9 L1287.5 717.6 L1283.6 715.8 L1279.9 713.5 L1276.5 710.8 L1273.3 707.6 L1270.5 703.9 L1268 699.9 L1265.8 695.4 L1264 690.6 L1262.5 685.4 L1261.4 679.9 L1260.6 674 L1260.2 668 Z" style="stroke-width:2.2"/>
<path class="w" d="M1269.9 662 L1270.2 655.9 L1270.9 649.5 L1271.9 643 L1273.2 636.5 L1274.9 629.8 L1276.9 623.1 L1279.3 616.4 L1281.9 609.7 L1284.8 603.1 L1288 596.5 L1291.4 590.1 L1295.1 583.8 L1299 577.7 L1303.2 571.8 L1307.5 566.2 L1311.9 560.8 L1316.5 555.7 L1321.3 551 L1326.1 546.5 L1331 542.5 L1336 538.8 L1340.9 535.5 L1345.9 532.6 L1350.9 530.2 L1355.8 528.2 L1360.6 526.7 L1365.4 525.6 L1370 525 L1374.5 524.8 L1378.8 525.1 L1383 525.9 L1386.9 527.1 L1390.6 528.9 L1394.1 531 L1397.3 533.6 L1400.3 536.6 L1402.9 540 L1405.3 543.9 L1407.3 548.1 L1412 559.7 L1413.5 563.9 L1414.8 568.4 L1415.8 573.1 L1416.4 578.2 L1416.8 583.4 L1416.8 588.9 L1416.5 594.6 L1415.9 600.4 L1415 606.4 L1413.7 612.4 L1412.2 618.5 L1410.3 624.7 L1408.2 630.8 L1405.8 637 L1403.1 643.1 L1400.2 649.1 L1397 655 L1393.6 660.8 L1390 666.4 L1386.2 671.8 L1382.3 677 L1378.2 681.9 L1373.9 686.6 L1369.6 691 L1365.2 695 L1360.6 698.8 L1356.1 702.1 L1351.5 705.2 L1346.9 707.8 L1342.4 710 L1337.9 711.9 L1333.4 713.3 L1329.1 714.3 L1317.1 716.3 L1312.5 717 L1308 717.1 L1303.7 716.8 L1299.5 716 L1295.6 714.8 L1291.9 713 L1288.4 710.9 L1285.2 708.3 L1282.2 705.3 L1279.6 701.9 L1277.2 698 L1275.2 693.8 L1273.4 689.3 L1272 684.4 L1271 679.2 L1270.3 673.7 L1269.9 668 Z" style="stroke-width:2.2"/>
<path class="w" d="M1285.7 664.4 L1286 658.7 L1286.6 652.9 L1287.5 647 L1288.8 640.9 L1290.3 634.8 L1292.2 628.6 L1294.3 622.5 L1296.7 616.3 L1299.4 610.2 L1302.3 604.2 L1305.5 598.3 L1308.9 592.5 L1312.5 586.9 L1316.2 581.5 L1320.2 576.4 L1324.3 571.4 L1328.5 566.7 L1332.9 562.4 L1337.3 558.3 L1341.8 554.5 L1346.4 551.2 L1351 548.1 L1355.5 545.5 L1360.1 543.3 L1364.6 541.4 L1369 540 L1373.4 539 L1377.7 538.5 L1381.8 538.3 L1385.8 538.6 L1389.6 539.3 L1393.2 540.5 L1396.6 542 L1399.8 544 L1402.8 546.4 L1415.8 558.4 L1418.4 561.1 L1420.7 564.1 L1422.8 567.5 L1424.6 571.1 L1426.1 575.2 L1427.4 579.5 L1428.3 584 L1428.9 588.9 L1429.2 593.9 L1429.3 599.2 L1429 604.6 L1428.4 610.2 L1427.5 615.9 L1426.3 621.7 L1424.8 627.5 L1423 633.4 L1421 639.3 L1418.7 645.2 L1416.1 651.1 L1413.3 656.8 L1410.3 662.5 L1407 668 L1403.6 673.4 L1400 678.6 L1396.2 683.5 L1392.2 688.3 L1388.2 692.8 L1384 697 L1379.8 700.9 L1375.5 704.4 L1371.1 707.7 L1366.7 710.6 L1362.3 713.1 L1358 715.2 L1353.6 717 L1349.4 718.3 L1345.2 719.3 L1341.1 719.8 L1337.2 720 L1333.3 719.7 L1329.7 719 L1312.9 714 L1309.3 712.8 L1305.9 711.3 L1302.7 709.3 L1299.7 706.9 L1297 704.1 L1294.6 701 L1292.4 697.5 L1290.5 693.6 L1288.9 689.4 L1287.7 684.9 L1286.7 680.2 L1286 675.1 L1285.7 669.9 Z" style="stroke-width:2.2"/>
<path class="w" d="M1303.6 671.5 L1303.9 666.1 L1304.5 660.5 L1305.4 654.8 L1306.6 649 L1308 643.1 L1309.8 637.2 L1311.9 631.3 L1314.2 625.4 L1316.7 619.6 L1319.5 613.8 L1322.6 608.2 L1325.8 602.6 L1329.3 597.3 L1332.9 592.1 L1336.7 587.1 L1340.6 582.4 L1344.7 577.9 L1348.8 573.7 L1353.1 569.8 L1357.4 566.2 L1361.8 563 L1366.2 560.1 L1370.5 557.6 L1374.9 555.4 L1379.2 553.7 L1383.5 552.3 L1387.7 551.4 L1391.8 550.8 L1395.7 550.7 L1399.5 551 L1403.2 551.6 L1406.6 552.7 L1409.9 554.2 L1413 556.1 L1415.8 558.4 L1440.7 580.6 L1443.1 583.1 L1445.3 585.9 L1447.2 589 L1448.9 592.4 L1450.3 596.1 L1451.4 600.1 L1452.3 604.3 L1452.8 608.8 L1453.1 613.4 L1453.2 618.3 L1452.9 623.3 L1452.3 628.4 L1451.5 633.7 L1450.4 639 L1449 644.5 L1447.4 649.9 L1445.5 655.4 L1443.4 660.8 L1441 666.2 L1438.4 671.5 L1435.6 676.8 L1432.6 681.9 L1429.4 686.8 L1426.1 691.6 L1422.6 696.2 L1419 700.6 L1415.2 704.7 L1411.3 708.6 L1407.4 712.2 L1403.4 715.5 L1399.4 718.5 L1395.3 721.2 L1391.3 723.5 L1387.3 725.5 L1383.3 727.1 L1379.3 728.4 L1375.5 729.3 L1371.7 729.8 L1368 729.9 L1364.5 729.6 L1361.2 729 L1358 728 L1329.7 719 L1326.2 717.9 L1323 716.4 L1319.9 714.5 L1317.1 712.2 L1314.5 709.6 L1312.1 706.5 L1310 703.2 L1308.2 699.5 L1306.7 695.5 L1305.5 691.2 L1304.6 686.6 L1304 681.8 L1303.6 676.7 Z" style="stroke-width:2.2"/>
<path class="w" d="M1325.1 695.7 L1325.3 690.5 L1325.8 685.1 L1326.5 679.7 L1327.3 674.2 L1328.5 668.7 L1329.8 663.2 L1331.4 657.6 L1333.1 652.1 L1335.1 646.6 L1337.3 641.1 L1339.7 635.6 L1342.2 630.3 L1345 625 L1347.9 619.8 L1351 614.7 L1354.2 609.7 L1357.6 604.9 L1361.2 600.2 L1364.8 595.7 L1368.6 591.4 L1372.5 587.2 L1376.5 583.3 L1380.6 579.5 L1384.8 576 L1389 572.7 L1393.3 569.6 L1397.7 566.8 L1402 564.3 L1406.4 562 L1410.8 560 L1415.2 558.2 L1419.6 556.7 L1423.9 555.5 L1428.2 554.6 L1432.4 554 L1436.6 553.6 L1440.7 553.6 L1444.8 553.9 L1448.7 554.4 L1452.5 555.2 L1456.2 556.3 L1459.8 557.7 L1463.2 559.4 L1466.5 561.4 L1469.6 563.6 L1472.5 566.1 L1475.3 568.8 L1477.9 571.8 L1480.3 575 L1482.5 578.5 L1484.5 582.1 L1486.3 586 L1487.9 590.1 L1489.3 594.4 L1490.5 598.9 L1491.4 603.5 L1492.1 608.3 L1492.6 613.2 L1492.8 618.3 L1492.9 623.5 L1492.7 628.7 L1492.2 634.1 L1491.5 639.5 L1490.7 645 L1489.5 650.5 L1488.2 656 L1486.6 661.6 L1484.9 667.1 L1482.9 672.6 L1480.7 678.1 L1478.3 683.6 L1475.8 688.9 L1473 694.2 L1470.1 699.4 L1467 704.5 L1463.8 709.5 L1460.4 714.3 L1456.8 719 L1453.2 723.5 L1449.4 727.8 L1445.5 732 L1441.5 735.9 L1437.4 739.7 L1433.2 743.2 L1429 746.5 L1424.7 749.6 L1420.3 752.4 L1416 754.9 L1411.6 757.2 L1407.2 759.2 L1402.8 761 L1398.4 762.5 L1394.1 763.7 L1389.8 764.6 L1385.6 765.2 L1381.4 765.5 L1377.3 765.6 L1373.2 765.3 L1369.3 764.8 L1365.5 764 L1361.8 762.9 L1358.2 761.5 L1354.8 759.8 L1351.5 757.8 L1348.4 755.6 L1345.5 753.1 L1342.7 750.4 L1340.1 747.4 L1337.7 744.2 L1335.5 740.7 L1333.5 737 L1331.7 733.1 L1330.1 729.1 L1328.7 724.8 L1327.5 720.3 L1326.6 715.7 L1325.9 710.9 L1325.4 706 L1325.2 700.9 Z" style="stroke-width:0"/>
<path class="w" d="M1463.2 559.4 L1466.5 561.4 L1469.6 563.6 L1472.5 566.1 L1475.3 568.8 L1477.9 571.8 L1480.3 575 L1482.5 578.5 L1484.5 582.2 L1486.3 586 L1487.9 590.1 L1489.3 594.4 L1490.5 598.9 L1491.4 603.5 L1492.1 608.3 L1492.6 613.2 L1492.8 618.3 L1492.9 623.5 L1492.7 628.7 L1492.2 634.1 L1491.5 639.5 L1490.7 645 L1489.5 650.5 L1488.2 656 L1486.6 661.6 L1484.9 667.1 L1482.9 672.6 L1480.7 678.1 L1478.4 683.6 L1475.8 688.9 L1473 694.2 L1470.1 699.4 L1467 704.5 L1463.8 709.5 L1460.4 714.3 L1456.8 719 L1453.2 723.5 L1449.4 727.8 L1445.5 732 L1441.5 735.9 L1437.4 739.7 L1433.2 743.2 L1429 746.5 L1424.7 749.6 L1420.3 752.4 L1416 754.9 L1411.6 757.2 L1407.2 759.3 L1402.8 761 L1398.4 762.5 L1394.1 763.7 L1389.8 764.6 L1385.6 765.2 L1381.4 765.5 L1377.3 765.6 L1373.2 765.3 L1369.3 764.8 L1365.5 764 L1361.8 762.9 L1358.3 761.5 L1354.8 759.8 L1351.5 757.8 L1348.4 755.6 L1345.5 753.1 L1342.7 750.4 L1340.1 747.4 L1337.7 744.2 L1335.5 740.7 L1333.5 737 L1331.7 733.2 L1330.1 729.1 L1328.7 724.8 L1327.5 720.3 L1326.6 715.7 L1325.9 710.9 L1325.4 706 L1325.2 700.9 L1325.1 695.7 L1325.3 690.5 L1325.8 685.1 L1326.5 679.7 L1327.3 674.2 L1328.5 668.7 L1329.8 663.2 L1331.4 657.6 L1333.1 652.1 L1335.1 646.6 L1337.3 641.1 L1339.6 635.6 L1342.2 630.3 L1345 625 L1347.9 619.8 L1351 614.7 L1354.2 609.7 L1357.6 604.9 L1361.2 600.2 L1364.8 595.7 L1368.6 591.4 L1372.5 587.2 L1376.5 583.3 L1380.6 579.5 L1384.8 576 L1389 572.7 L1393.3 569.6 L1397.7 566.8 L1402 564.3 L1406.4 562 L1410.8 559.9 L1415.2 558.2 L1419.6 556.7 L1423.9 555.5 L1428.2 554.6 L1432.4 554 L1436.6 553.7 L1440.7 553.6 L1444.8 553.9 L1448.7 554.4 L1452.5 555.2 L1456.2 556.3 L1459.7 557.7 Z" style="stroke-width:3"/>
<path class="w" d="M1455.6 564.7 L1458.6 566.3 L1461.4 568.2 L1464.1 570.4 L1466.6 572.8 L1469 575.5 L1471.2 578.3 L1473.2 581.4 L1475.1 584.7 L1476.7 588.3 L1478.2 592 L1479.5 595.9 L1480.6 599.9 L1481.5 604.2 L1482.2 608.5 L1482.7 613 L1482.9 617.7 L1483 622.4 L1482.9 627.3 L1482.5 632.2 L1482 637.3 L1481.3 642.3 L1480.3 647.5 L1479.2 652.6 L1477.8 657.8 L1476.3 663 L1474.6 668.1 L1472.7 673.3 L1470.6 678.4 L1468.3 683.4 L1465.9 688.4 L1463.3 693.3 L1460.6 698.1 L1457.7 702.8 L1454.7 707.4 L1451.6 711.9 L1448.3 716.2 L1445 720.3 L1441.5 724.3 L1437.9 728.1 L1434.3 731.7 L1430.6 735.1 L1426.8 738.3 L1423 741.3 L1419.1 744.1 L1415.2 746.6 L1411.3 748.9 L1407.3 750.9 L1403.4 752.7 L1399.5 754.3 L1395.6 755.5 L1391.7 756.5 L1387.9 757.3 L1384.2 757.8 L1380.5 758 L1376.8 757.9 L1373.3 757.6 L1369.9 757 L1366.5 756.1 L1363.3 754.9 L1360.2 753.5 L1357.2 751.9 L1354.4 750 L1351.7 747.8 L1349.2 745.4 L1346.8 742.7 L1344.6 739.9 L1342.6 736.8 L1340.7 733.5 L1339.1 729.9 L1337.6 726.2 L1336.3 722.3 L1335.2 718.3 L1334.3 714 L1333.6 709.7 L1333.1 705.2 L1332.9 700.5 L1332.8 695.8 L1332.9 690.9 L1333.3 686 L1333.8 680.9 L1334.5 675.9 L1335.5 670.7 L1336.6 665.6 L1338 660.4 L1339.5 655.2 L1341.2 650.1 L1343.1 644.9 L1345.2 639.8 L1347.5 634.8 L1349.9 629.8 L1352.5 624.9 L1355.2 620.1 L1358.1 615.4 L1361.1 610.8 L1364.2 606.3 L1367.5 602 L1370.8 597.9 L1374.3 593.9 L1377.9 590.1 L1381.5 586.5 L1385.2 583.1 L1389 579.9 L1392.8 576.9 L1396.7 574.1 L1400.6 571.6 L1404.5 569.3 L1408.5 567.3 L1412.4 565.5 L1416.3 563.9 L1420.2 562.7 L1424.1 561.7 L1427.9 560.9 L1431.6 560.4 L1435.3 560.2 L1439 560.3 L1442.5 560.6 L1445.9 561.2 L1449.3 562.1 L1452.5 563.3 Z" style="stroke-width:2.2"/>
<path class="w" d="M1450 569.2 L1452.7 570.6 L1455.3 572.3 L1457.8 574.2 L1460.1 576.3 L1462.3 578.7 L1464.3 581.2 L1466.2 584 L1468 587 L1469.5 590.2 L1470.9 593.6 L1472.2 597.1 L1473.2 600.9 L1474.1 604.7 L1474.8 608.8 L1475.3 612.9 L1475.6 617.2 L1475.8 621.6 L1475.7 626.1 L1475.5 630.7 L1475.1 635.3 L1474.5 640 L1473.7 644.8 L1472.8 649.6 L1471.6 654.4 L1470.3 659.3 L1468.8 664.1 L1467.2 668.9 L1465.4 673.7 L1463.4 678.4 L1461.3 683.1 L1459 687.8 L1456.6 692.3 L1454.1 696.7 L1451.4 701.1 L1448.7 705.3 L1445.8 709.4 L1442.8 713.3 L1439.7 717.1 L1436.5 720.8 L1433.2 724.3 L1429.9 727.5 L1426.5 730.6 L1423.1 733.5 L1419.6 736.2 L1416.1 738.7 L1412.6 741 L1409.1 743 L1405.5 744.8 L1402 746.3 L1398.5 747.6 L1395 748.7 L1391.5 749.5 L1388.1 750.1 L1384.7 750.4 L1381.4 750.5 L1378.2 750.3 L1375.1 749.9 L1372 749.2 L1369.1 748.2 L1366.2 747 L1363.5 745.6 L1360.9 743.9 L1358.4 742 L1356.1 739.9 L1353.9 737.5 L1351.9 735 L1350 732.2 L1348.2 729.2 L1346.7 726 L1345.3 722.6 L1344 719.1 L1343 715.3 L1342.1 711.5 L1341.4 707.4 L1340.9 703.3 L1340.6 699 L1340.4 694.6 L1340.5 690.1 L1340.7 685.5 L1341.1 680.9 L1341.7 676.2 L1342.5 671.4 L1343.4 666.6 L1344.6 661.8 L1345.9 656.9 L1347.4 652.1 L1349 647.3 L1350.8 642.5 L1352.8 637.8 L1354.9 633.1 L1357.2 628.4 L1359.6 623.9 L1362.1 619.5 L1364.8 615.1 L1367.5 610.9 L1370.4 606.8 L1373.4 602.9 L1376.5 599.1 L1379.7 595.4 L1383 591.9 L1386.3 588.7 L1389.7 585.6 L1393.1 582.7 L1396.6 580 L1400.1 577.5 L1403.6 575.2 L1407.1 573.2 L1410.7 571.4 L1414.2 569.9 L1417.7 568.6 L1421.2 567.5 L1424.7 566.7 L1428.1 566.1 L1431.5 565.8 L1434.8 565.7 L1438 565.9 L1441.1 566.3 L1444.2 567 L1447.1 568 Z" style="stroke-width:2.2"/>
<clipPath id="rimclip"><path d="M1450 569.2 L1452.7 570.6 L1455.3 572.3 L1457.8 574.2 L1460.1 576.3 L1462.3 578.7 L1464.3 581.2 L1466.2 584 L1468 587 L1469.5 590.2 L1470.9 593.6 L1472.2 597.1 L1473.2 600.9 L1474.1 604.7 L1474.8 608.8 L1475.3 612.9 L1475.6 617.2 L1475.8 621.6 L1475.7 626.1 L1475.5 630.7 L1475.1 635.3 L1474.5 640 L1473.7 644.8 L1472.8 649.6 L1471.6 654.4 L1470.3 659.3 L1468.8 664.1 L1467.2 668.9 L1465.4 673.7 L1463.4 678.4 L1461.3 683.1 L1459 687.8 L1456.6 692.3 L1454.1 696.7 L1451.4 701.1 L1448.7 705.3 L1445.8 709.4 L1442.8 713.3 L1439.7 717.1 L1436.5 720.8 L1433.2 724.3 L1429.9 727.5 L1426.5 730.6 L1423.1 733.5 L1419.6 736.2 L1416.1 738.7 L1412.6 741 L1409.1 743 L1405.5 744.8 L1402 746.3 L1398.5 747.6 L1395 748.7 L1391.5 749.5 L1388.1 750.1 L1384.7 750.4 L1381.4 750.5 L1378.2 750.3 L1375.1 749.9 L1372 749.2 L1369.1 748.2 L1366.2 747 L1363.5 745.6 L1360.9 743.9 L1358.4 742 L1356.1 739.9 L1353.9 737.5 L1351.9 735 L1350 732.2 L1348.2 729.2 L1346.7 726 L1345.3 722.6 L1344 719.1 L1343 715.3 L1342.1 711.5 L1341.4 707.4 L1340.9 703.3 L1340.6 699 L1340.4 694.6 L1340.5 690.1 L1340.7 685.5 L1341.1 680.9 L1341.7 676.2 L1342.5 671.4 L1343.4 666.6 L1344.6 661.8 L1345.9 656.9 L1347.4 652.1 L1349 647.3 L1350.8 642.5 L1352.8 637.8 L1354.9 633.1 L1357.2 628.4 L1359.6 623.9 L1362.1 619.5 L1364.8 615.1 L1367.5 610.9 L1370.4 606.8 L1373.4 602.9 L1376.5 599.1 L1379.7 595.4 L1383 591.9 L1386.3 588.7 L1389.7 585.6 L1393.1 582.7 L1396.6 580 L1400.1 577.5 L1403.6 575.2 L1407.1 573.2 L1410.7 571.4 L1414.2 569.9 L1417.7 568.6 L1421.2 567.5 L1424.7 566.7 L1428.1 566.1 L1431.5 565.8 L1434.8 565.7 L1438 565.9 L1441.1 566.3 L1444.2 567 L1447.1 568 Z"/></clipPath>
<g clip-path="url(#rimclip)">
<path class="m" d="M1420.6 563.4 L1424.7 562.2 L1428.8 561.4 L1432.8 561.1 L1436.7 561.3 L1440.4 561.9 L1443.9 563 L1447.3 564.6 L1450.4 566.5 L1453.4 569 L1456.1 571.8 L1458.6 575 L1460.8 578.7 L1462.8 582.7 L1464.4 587 L1465.8 591.7 L1466.9 596.7 L1467.8 602 L1468.3 607.6 L1468.5 613.3 L1468.4 619.3 L1468 625.5 L1467.3 631.8 L1466.3 638.2 L1465 644.7 L1463.5 651.2 L1461.6 657.8 L1459.5 664.3 L1457.1 670.8 L1454.5 677.3 L1451.7 683.6 L1448.6 689.8 L1445.3 695.8 L1441.8 701.5 L1438.2 707.1 L1434.4 712.4 L1430.5 717.5 L1426.4 722.2 L1422.3 726.6 L1418.1 730.6 L1413.8 734.3 L1409.5 737.5 L1405.1 740.4 L1400.8 742.9 L1396.5 744.9 L1392.3 746.5 L1388.2 747.6 L1384.1 748.3 L1380.1 748.5 L1376.3 748.2 L1372.6 747.5 L1369.1 746.3 L1365.8 744.7 L1362.6 742.7 L1359.7 740.2 L1357.1 737.3 L1354.6 734 L1352.4 730.3 L1350.5 726.2 L1348.9 721.8 L1347.6 717 L1346.5 712 L1345.7 706.6 L1345.3 701.1 L1345.1 695.2 L1345.3 689.2" style="stroke-width:2.1"/>
<path class="m" d="M1419.3 565 L1423.1 564.1 L1426.8 563.7 L1430.4 563.6 L1433.9 564 L1437.2 564.8 L1440.3 566.1 L1443.3 567.8 L1446 569.9 L1448.6 572.4 L1451 575.3 L1453.1 578.6 L1454.9 582.3 L1456.6 586.3 L1457.9 590.6 L1459 595.3 L1459.9 600.2 L1460.4 605.4 L1460.7 610.8 L1460.7 616.4 L1460.4 622.2 L1459.8 628.1 L1459 634.2 L1457.9 640.4 L1456.5 646.6 L1454.8 652.8 L1453 659 L1450.8 665.3 L1448.5 671.4 L1445.9 677.4 L1443.1 683.4 L1440.1 689.1 L1437 694.7 L1433.7 700.1 L1430.2 705.2 L1426.6 710.1 L1422.9 714.7 L1419.1 719 L1415.2 722.9 L1411.3 726.5 L1407.4 729.8 L1403.4 732.6 L1399.4 735.1 L1395.5 737.1 L1391.6 738.7 L1387.7 739.9 L1384 740.7 L1380.3 741 L1376.8 740.9 L1373.4 740.3 L1370.1 739.4 L1367 737.9 L1364.1 736.1 L1361.4 733.8 L1358.9 731.2 L1356.7 728.1 L1354.6 724.7 L1352.8 720.9 L1351.3 716.8 L1350 712.3 L1349 707.6 L1348.3 702.6 L1347.9 697.3 L1347.7 691.8" style="stroke-width:2.1"/>
<path class="m" d="M1412.7 567.7 L1416.1 567.3 L1419.4 567.2 L1422.7 567.5 L1425.8 568.2 L1428.7 569.3 L1431.6 570.8 L1434.2 572.7 L1436.7 574.9 L1439 577.6 L1441 580.5 L1442.9 583.8 L1444.5 587.4 L1445.9 591.3 L1447.1 595.5 L1448 600 L1448.7 604.6 L1449.1 609.5 L1449.3 614.6 L1449.2 619.9 L1448.9 625.3 L1448.3 630.8 L1447.5 636.4 L1446.4 642.1 L1445.1 647.8 L1443.6 653.5 L1441.8 659.2 L1439.8 664.8 L1437.6 670.4 L1435.2 675.8 L1432.7 681.1 L1429.9 686.3 L1427 691.3 L1424 696 L1420.8 700.6 L1417.5 704.9 L1414.1 708.9 L1410.6 712.6 L1407.1 716 L1403.5 719.1 L1399.9 721.9 L1396.2 724.3 L1392.6 726.3 L1389 727.9 L1385.4 729.2 L1381.9 730.1 L1378.5 730.5 L1375.2 730.6 L1371.9 730.3 L1368.8 729.6 L1365.9 728.5 L1363 727 L1360.4 725.1 L1357.9 722.9 L1355.6 720.2 L1353.6 717.3 L1351.7 714 L1350.1 710.4 L1348.7 706.5 L1347.5 702.3 L1346.6 697.8 L1345.9 693.2" style="stroke-width:2.1"/>
<path class="t" d="M1436.9 646.9 C1436.6 644.7 1437.6 636.7 1438.9 632 C1440.1 627.4 1442.9 621.5 1444.3 619.1 C1445.8 616.7 1447.1 615.4 1447.3 617.6 C1447.5 619.7 1446.7 627.3 1445.6 632 C1444.5 636.7 1442.1 643.2 1440.6 645.7 C1439.2 648.2 1437.2 649.2 1436.9 646.9 Z"/>
<path class="t" d="M1423.2 579.8 C1423.8 579 1427.6 577.5 1429.4 577.3 C1431.3 577.1 1434 577.8 1434.4 578.5 C1434.8 579.3 1433.4 581.2 1431.9 581.8 C1430.5 582.4 1427.1 582.6 1425.7 582.3 C1424.2 581.9 1422.6 580.6 1423.2 579.8 Z"/>
<path class="wm" d="M1416.3 588.7 C1421.6 588.7 1424.7 594.3 1427.9 598.9 C1431 603.5 1433.7 609.7 1435.1 616.3 C1436.6 622.8 1437.5 629.6 1436.6 638 C1435.6 646.5 1433.2 658.4 1429.3 667.1 C1425.5 675.8 1419.9 683.5 1413.4 690.3 C1406.8 697.1 1398.4 705 1390.1 707.7 C1381.9 710.4 1370.6 707.7 1364 706.3 C1357.5 704.8 1354.1 702.1 1351 699 C1347.8 695.9 1345.6 692.7 1345.2 687.4 C1344.7 682.1 1345.9 674.1 1348.1 667.1 C1350.2 660.1 1353.6 653 1358.2 645.3 C1362.8 637.6 1369.3 628.4 1375.6 620.6 C1381.9 612.9 1389.2 604.2 1395.9 598.9 C1402.7 593.5 1410.9 588.7 1416.3 588.7 Z" style="stroke-width:1.9"/>
<path class="w" d="M1378.5 624.3 L1393 618.9 L1399.6 603.9 L1403.2 593.8 L1416.3 593.8 L1422.7 605.4 L1419.9 619.2 L1424.1 630.1 L1422.4 643.1 L1417 649.7 L1422.7 656.2 L1419.9 667.1 L1409.7 676.9 L1403.2 680.1 L1396.7 673.6 L1391.9 674.3 L1393.3 683.8 L1390.1 694.9 L1380.3 700.7 L1364 702.2 L1352.7 700.4 L1349.5 693.9 L1353.6 682.3 L1361.1 675.1 L1364.7 672.9 L1366.2 661.3 L1364 648.2 L1369.1 635.9 Z" style="stroke-width:3"/>
<path class="w" d="M1404.9 597.1 L1412.6 596 L1418 599.6 L1418.9 606.1 L1414.5 614.8 L1407.6 616.6 L1402.5 613.1 L1402.9 603.2 Z" style="stroke-width:3"/>
<path class="t" d="M1407.6 601.5 L1412.6 601.8 L1414.1 606.1 L1410.5 612.7 L1406.4 611.2 L1406.1 604.7 Z"/>
<path class="t" d="M1410 601.8 L1407.8 611.2"/>
<path class="m" d="M1378.2 623.5 L1391.9 618.9 L1398.9 604.4"/>
<path class="m" d="M1378.5 626.7 L1393.8 622.4 L1401.5 609.7"/>
<path class="m" d="M1378.2 623.5 L1378.5 626.7"/>
<path class="w" d="M1404.7 630.1 L1411.6 621.1 L1420.6 622.4 L1423.8 632.2 L1418 642.7 L1407.8 640.9 Z" style="stroke-width:3"/>
<path class="w" d="M1418.3 627.5 L1418.5 627.7 L1418.7 627.9 L1419 628.1 L1419.2 628.3 L1419.3 628.6 L1419.5 628.8 L1419.6 629.1 L1419.7 629.4 L1419.8 629.8 L1419.9 630.1 L1420 630.5 L1420 630.9 L1420 631.2 L1420 631.6 L1419.9 632 L1419.9 632.4 L1419.8 632.8 L1419.7 633.2 L1419.5 633.6 L1419.4 634 L1419.2 634.4 L1419 634.8 L1418.8 635.2 L1418.6 635.6 L1418.3 635.9 L1418.1 636.3 L1417.8 636.6 L1417.5 636.9 L1417.2 637.2 L1416.9 637.4 L1416.6 637.7 L1416.3 637.9 L1416 638.1 L1415.6 638.3 L1415.3 638.4 L1415 638.6 L1414.6 638.6 L1414.3 638.7 L1414 638.7 L1413.7 638.8 L1413.4 638.7 L1413.1 638.7 L1412.8 638.6 L1412.5 638.5 L1412.2 638.4 L1412 638.2 L1411.8 638.1 L1411.5 637.8 L1411.3 637.6 L1411.2 637.4 L1411 637.1 L1410.9 636.8 L1410.8 636.5 L1410.7 636.2 L1410.6 635.8 L1410.5 635.5 L1410.5 635.1 L1410.5 634.7 L1410.5 634.3 L1410.6 633.9 L1410.6 633.5 L1410.7 633.1 L1410.8 632.7 L1411 632.3 L1411.1 631.9 L1411.3 631.5 L1411.5 631.1 L1411.7 630.7 L1411.9 630.4 L1412.2 630 L1412.4 629.7 L1412.7 629.4 L1413 629 L1413.3 628.8 L1413.6 628.5 L1413.9 628.2 L1414.2 628 L1414.5 627.8 L1414.9 627.7 L1415.2 627.5 L1415.5 627.4 L1415.9 627.3 L1416.2 627.2 L1416.5 627.2 L1416.8 627.2 L1417.1 627.2 L1417.4 627.2 L1417.7 627.3 L1418 627.4 Z" style="stroke-width:2.2"/>
<path class="m" d="M1417.3 630.8 L1417.4 630.9 L1417.5 631 L1417.6 631.1 L1417.7 631.2 L1417.8 631.3 L1417.8 631.4 L1417.9 631.5 L1417.9 631.7 L1418 631.8 L1418 632 L1418 632.1 L1418 632.3 L1418 632.4 L1418 632.6 L1418 632.8 L1418 633 L1417.9 633.2 L1417.9 633.3 L1417.8 633.5 L1417.7 633.7 L1417.7 633.9 L1417.6 634.1 L1417.5 634.2 L1417.4 634.4 L1417.3 634.6 L1417.1 634.7 L1417 634.9 L1416.9 635 L1416.8 635.1 L1416.6 635.2 L1416.5 635.4 L1416.4 635.5 L1416.2 635.6 L1416.1 635.6 L1415.9 635.7 L1415.8 635.8 L1415.6 635.8 L1415.5 635.8 L1415.3 635.9 L1415.2 635.9 L1415.1 635.9 L1414.9 635.8 L1414.8 635.8 L1414.7 635.8 L1414.6 635.7 L1414.5 635.6 L1414.4 635.6 L1414.3 635.5 L1414.2 635.4 L1414.1 635.3 L1414.1 635.1 L1414 635 L1414 634.9 L1413.9 634.7 L1413.9 634.6 L1413.9 634.4 L1413.9 634.3 L1413.9 634.1 L1413.9 633.9 L1413.9 633.7 L1413.9 633.6 L1414 633.4 L1414 633.2 L1414.1 633 L1414.2 632.8 L1414.2 632.7 L1414.3 632.5 L1414.4 632.3 L1414.5 632.1 L1414.6 632 L1414.8 631.8 L1414.9 631.7 L1415 631.5 L1415.1 631.4 L1415.3 631.3 L1415.4 631.2 L1415.5 631.1 L1415.7 631 L1415.8 630.9 L1416 630.8 L1416.1 630.8 L1416.3 630.7 L1416.4 630.7 L1416.5 630.7 L1416.7 630.7 L1416.8 630.7 L1417 630.7 L1417.1 630.7 L1417.2 630.8 Z"/>
<path class="w" d="M1401.8 655.8 L1407.6 650.8 L1416.3 653 L1419.5 659.1 L1414.8 668.8 L1407.6 671.1 L1401.8 665.9 Z" style="stroke-width:3"/>
<path class="t" d="M1406.1 657.6 L1413.4 656.9 L1414.5 662 L1410.5 667.1 L1405.8 664.2 Z"/>
<path class="w" d="M1376.1 684.8 L1381.4 677.2 L1389.3 677.2 L1393.3 684.5 L1390.1 694.9 L1381.4 698.1 L1375.6 693.5 Z" style="stroke-width:3"/>
<path class="w" d="M1387.3 682.7 L1387.6 682.8 L1387.8 683 L1388 683.2 L1388.2 683.5 L1388.4 683.7 L1388.6 684 L1388.7 684.3 L1388.8 684.6 L1388.9 684.9 L1389 685.3 L1389.1 685.6 L1389.1 686 L1389.1 686.4 L1389.1 686.8 L1389 687.2 L1389 687.6 L1388.9 688 L1388.8 688.4 L1388.6 688.8 L1388.5 689.2 L1388.3 689.6 L1388.1 690 L1387.9 690.3 L1387.7 690.7 L1387.4 691.1 L1387.2 691.4 L1386.9 691.7 L1386.6 692 L1386.3 692.3 L1386 692.6 L1385.7 692.8 L1385.4 693.1 L1385.1 693.3 L1384.7 693.4 L1384.4 693.6 L1384.1 693.7 L1383.7 693.8 L1383.4 693.9 L1383.1 693.9 L1382.8 693.9 L1382.5 693.9 L1382.2 693.8 L1381.9 693.8 L1381.6 693.7 L1381.3 693.5 L1381.1 693.4 L1380.9 693.2 L1380.6 693 L1380.4 692.8 L1380.3 692.5 L1380.1 692.2 L1380 691.9 L1379.8 691.6 L1379.7 691.3 L1379.7 691 L1379.6 690.6 L1379.6 690.2 L1379.6 689.8 L1379.6 689.5 L1379.7 689.1 L1379.7 688.7 L1379.8 688.3 L1379.9 687.9 L1380 687.4 L1380.2 687 L1380.4 686.7 L1380.6 686.3 L1380.8 685.9 L1381 685.5 L1381.2 685.2 L1381.5 684.8 L1381.8 684.5 L1382.1 684.2 L1382.4 683.9 L1382.7 683.6 L1383 683.4 L1383.3 683.2 L1383.6 683 L1384 682.8 L1384.3 682.6 L1384.6 682.5 L1384.9 682.4 L1385.3 682.4 L1385.6 682.3 L1385.9 682.3 L1386.2 682.3 L1386.5 682.4 L1386.8 682.5 L1387.1 682.6 Z" style="stroke-width:2.2"/>
<path class="m" d="M1386.4 686 L1386.5 686 L1386.6 686.1 L1386.7 686.2 L1386.8 686.3 L1386.9 686.4 L1386.9 686.5 L1387 686.7 L1387 686.8 L1387.1 686.9 L1387.1 687.1 L1387.1 687.3 L1387.1 687.4 L1387.1 687.6 L1387.1 687.8 L1387.1 687.9 L1387 688.1 L1387 688.3 L1387 688.5 L1386.9 688.7 L1386.8 688.8 L1386.7 689 L1386.7 689.2 L1386.6 689.4 L1386.5 689.5 L1386.4 689.7 L1386.2 689.9 L1386.1 690 L1386 690.1 L1385.9 690.3 L1385.7 690.4 L1385.6 690.5 L1385.4 690.6 L1385.3 690.7 L1385.2 690.8 L1385 690.8 L1384.9 690.9 L1384.7 691 L1384.6 691 L1384.4 691 L1384.3 691 L1384.2 691 L1384 691 L1383.9 691 L1383.8 690.9 L1383.7 690.9 L1383.6 690.8 L1383.5 690.7 L1383.4 690.6 L1383.3 690.5 L1383.2 690.4 L1383.2 690.3 L1383.1 690.2 L1383.1 690 L1383 689.9 L1383 689.7 L1383 689.6 L1383 689.4 L1383 689.2 L1383 689.1 L1383 688.9 L1383 688.7 L1383.1 688.5 L1383.1 688.3 L1383.2 688.2 L1383.3 688 L1383.3 687.8 L1383.4 687.6 L1383.5 687.5 L1383.6 687.3 L1383.7 687.1 L1383.8 687 L1384 686.8 L1384.1 686.7 L1384.2 686.6 L1384.4 686.4 L1384.5 686.3 L1384.6 686.2 L1384.8 686.1 L1384.9 686 L1385.1 686 L1385.2 685.9 L1385.4 685.9 L1385.5 685.8 L1385.6 685.8 L1385.8 685.8 L1385.9 685.8 L1386 685.8 L1386.2 685.9 L1386.3 685.9 Z"/>
<path class="w" d="M1351 692 L1356.8 679.8 L1363.4 675.5 L1366.1 680.1 L1362.6 692 L1356.8 698.1 L1351.8 697.5 Z" style="stroke-width:3"/>
<path class="t" d="M1354.6 691.7 L1358.9 682.3 L1362.6 680.1"/>
<path class="t" d="M1356.8 694.6 L1361.1 687.4 L1363.3 681.6"/>
<path class="m" d="M1355 667.4 L1361.8 653.7 L1362.9 663 L1356.8 668.5 Z" style="stroke-width:2.2"/>
<path class="m" d="M1393 665.6 L1403.2 679"/>
<path class="m" d="M1397.4 667.1 L1407.6 672.9"/>
<path class="m" d="M1369.8 678.7 L1365.8 696.1"/>
<path class="m" d="M1373 680.1 L1369.8 697.5"/>
<path class="m" d="M1398.9 627.9 L1404.7 630.1"/>
<path class="m" d="M1398.9 643.9 L1407.6 640.9"/>
<path class="m" d="M1399.6 648.2 L1403.2 655.5"/>
<path class="w" d="M1393.9 630.2 L1394.7 630.8 L1395.5 631.4 L1396.2 632.1 L1396.9 632.9 L1397.4 633.9 L1397.9 634.9 L1398.4 635.9 L1398.7 637.1 L1399 638.3 L1399.1 639.6 L1399.2 641 L1399.2 642.4 L1399.2 643.8 L1399 645.3 L1398.8 646.8 L1398.5 648.3 L1398.1 649.9 L1397.6 651.4 L1397.1 653 L1396.4 654.5 L1395.7 656 L1395 657.5 L1394.2 659 L1393.3 660.5 L1392.4 661.9 L1391.4 663.2 L1390.3 664.5 L1389.3 665.7 L1388.2 666.9 L1387.1 667.9 L1385.9 668.9 L1384.7 669.9 L1383.5 670.7 L1382.4 671.4 L1381.2 672 L1380 672.6 L1378.8 673 L1377.6 673.3 L1376.5 673.5 L1375.4 673.6 L1374.3 673.6 L1373.3 673.5 L1372.3 673.3 L1371.3 673 L1370.4 672.6 L1369.6 672 L1368.8 671.4 L1368.1 670.7 L1367.5 669.8 L1366.9 668.9 L1366.4 667.9 L1366 666.9 L1365.6 665.7 L1365.4 664.5 L1365.2 663.2 L1365.1 661.8 L1365.1 660.4 L1365.2 659 L1365.3 657.5 L1365.5 656 L1365.9 654.5 L1366.3 652.9 L1366.7 651.4 L1367.3 649.8 L1367.9 648.3 L1368.6 646.8 L1369.3 645.3 L1370.2 643.8 L1371 642.3 L1372 640.9 L1373 639.6 L1374 638.3 L1375 637.1 L1376.1 635.9 L1377.3 634.9 L1378.4 633.9 L1379.6 632.9 L1380.8 632.1 L1382 631.4 L1383.2 630.8 L1384.4 630.2 L1385.5 629.8 L1386.7 629.5 L1387.8 629.3 L1388.9 629.2 L1390 629.2 L1391.1 629.3 L1392.1 629.5 L1393 629.8 Z" style="stroke-width:2.8"/>
<path class="m" d="M1390.4 632.5 C1391.2 634.7 1395 640.6 1395.1 645.3 C1395.2 650 1393.5 656.6 1390.9 660.5 C1388.2 664.5 1381.2 667.4 1379.3 668.8"/>
<path class="t" d="M1388.7 710.9 C1390 709.2 1394.7 704.6 1398.9 701.9 C1403 699.2 1410.8 695.6 1413.4 694.6 C1416 693.7 1416.2 694.4 1414.5 696.1 C1412.8 697.8 1407.1 702.1 1403.2 704.8 C1399.3 707.5 1393.3 711.3 1390.9 712.3 C1388.5 713.4 1387.4 712.6 1388.7 710.9 Z"/>
</g>
</g>
<g id="disc">
<path class="w" d="M643 141.9 L646.3 144 L649.3 146.5 L652.1 149.4 L654.6 152.6 L656.8 156.2 L658.8 160.1 L660.4 164.4 L661.8 168.9 L662.8 173.7 L663.5 178.8 L663.8 184.1 L663.9 189.6 L663.6 195.2 L663 201 L662 207 L660.8 213 L659.2 219.1 L657.3 225.2 L655.2 231.3 L652.7 237.4 L650 243.4 L647 249.3 L643.8 255.1 L640.3 260.8 L636.7 266.3 L632.8 271.6 L628.8 276.7 L624.6 281.5 L620.3 286.1 L615.8 290.3 L611.3 294.3 L606.7 297.9 L602 301.1 L597.3 304 L592.7 306.5 L588 308.6 L583.4 310.3 L578.8 311.5 L574.4 312.4 L570 312.8 L565.8 312.9 L561.7 312.4 L557.8 311.6 L554.1 310.3 L550.6 308.7 L547.3 306.6 L544.3 304.1 L541.5 301.2 L539 298 L536.8 294.4 L534.8 290.5 L533.2 286.2 L531.8 281.7 L530.8 276.9 L530.1 271.8 L529.8 266.5 L529.7 261 L530 255.4 L530.6 249.6 L531.6 243.6 L532.8 237.6 L534.4 231.5 L536.3 225.4 L538.4 219.3 L540.9 213.2 L543.6 207.2 L546.6 201.3 L549.8 195.5 L553.3 189.8 L556.9 184.3 L560.8 179 L564.8 173.9 L569 169.1 L573.3 164.5 L577.8 160.3 L582.3 156.3 L586.9 152.7 L591.6 149.5 L596.3 146.6 L600.9 144.1 L605.6 142 L610.2 140.3 L614.8 139.1 L619.2 138.2 L623.6 137.8 L627.8 137.7 L631.9 138.2 L635.8 139 L639.5 140.3 Z" style="stroke-width:2.2"/>
<path class="w" d="M645.4 140.9 L648.7 143 L651.7 145.5 L654.5 148.4 L657 151.6 L659.2 155.2 L661.2 159.1 L662.8 163.4 L664.2 167.9 L665.2 172.7 L665.9 177.8 L666.2 183.1 L666.3 188.6 L666 194.2 L665.4 200 L664.4 206 L663.2 212 L661.6 218.1 L659.7 224.2 L657.6 230.3 L655.1 236.4 L652.4 242.4 L649.4 248.3 L646.2 254.1 L642.7 259.8 L639.1 265.3 L635.2 270.6 L631.2 275.7 L627 280.5 L622.7 285.1 L618.2 289.3 L613.7 293.3 L609.1 296.9 L604.4 300.1 L599.7 303 L595.1 305.5 L590.4 307.6 L585.8 309.3 L581.2 310.5 L576.8 311.4 L572.4 311.8 L568.2 311.9 L564.1 311.4 L560.2 310.6 L556.5 309.3 L553 307.7 L549.7 305.6 L546.7 303.1 L543.9 300.2 L541.4 297 L539.2 293.4 L537.2 289.5 L535.6 285.2 L534.2 280.7 L533.2 275.9 L532.5 270.8 L532.2 265.5 L532.1 260 L532.4 254.4 L533 248.6 L534 242.6 L535.2 236.6 L536.8 230.5 L538.7 224.4 L540.8 218.3 L543.3 212.2 L546 206.2 L549 200.3 L552.2 194.5 L555.7 188.8 L559.3 183.3 L563.2 178 L567.2 172.9 L571.4 168.1 L575.7 163.5 L580.2 159.3 L584.7 155.3 L589.3 151.7 L594 148.5 L598.7 145.6 L603.3 143.1 L608 141 L612.6 139.3 L617.2 138.1 L621.6 137.2 L626 136.8 L630.2 136.7 L634.3 137.2 L638.2 138 L641.9 139.3 Z" style="stroke-width:2.4"/>
<path class="m" d="M617.7 144.6 L617.9 144.7 L618 144.9 L618.1 145 L618.2 145.2 L618.3 145.4 L618.4 145.6 L618.5 145.8 L618.5 146 L618.6 146.3 L618.6 146.5 L618.6 146.8 L618.6 147 L618.5 147.3 L618.5 147.6 L618.4 147.8 L618.3 148.1 L618.2 148.4 L618.1 148.7 L618 149 L617.8 149.2 L617.7 149.5 L617.5 149.8 L617.3 150 L617.1 150.3 L616.9 150.5 L616.7 150.7 L616.5 151 L616.3 151.2 L616.1 151.4 L615.8 151.5 L615.6 151.7 L615.3 151.8 L615.1 152 L614.9 152.1 L614.6 152.2 L614.4 152.2 L614.2 152.3 L613.9 152.3 L613.7 152.3 L613.5 152.3 L613.3 152.3 L613.1 152.2 L612.9 152.2 L612.7 152.1 L612.5 152 L612.4 151.9 L612.2 151.7 L612.1 151.6 L612 151.4 L611.9 151.2 L611.8 151 L611.8 150.8 L611.7 150.6 L611.7 150.3 L611.7 150.1 L611.7 149.8 L611.7 149.6 L611.7 149.3 L611.8 149 L611.8 148.8 L611.9 148.5 L612 148.2 L612.1 147.9 L612.3 147.6 L612.4 147.4 L612.6 147.1 L612.7 146.8 L612.9 146.6 L613.1 146.3 L613.3 146.1 L613.5 145.8 L613.7 145.6 L614 145.4 L614.2 145.2 L614.4 145.1 L614.7 144.9 L614.9 144.8 L615.1 144.6 L615.4 144.5 L615.6 144.4 L615.9 144.4 L616.1 144.3 L616.3 144.3 L616.5 144.3 L616.8 144.3 L617 144.3 L617.2 144.4 L617.4 144.4 L617.5 144.5 Z" style="stroke-width:1.9"/>
<path class="m" d="M644.5 147.9 L644.6 148 L644.8 148.1 L644.9 148.3 L645 148.5 L645.1 148.6 L645.2 148.8 L645.3 149.1 L645.3 149.3 L645.3 149.5 L645.3 149.8 L645.3 150 L645.3 150.3 L645.3 150.6 L645.2 150.8 L645.2 151.1 L645.1 151.4 L645 151.7 L644.9 152 L644.7 152.2 L644.6 152.5 L644.4 152.8 L644.3 153 L644.1 153.3 L643.9 153.5 L643.7 153.8 L643.5 154 L643.3 154.2 L643.1 154.4 L642.8 154.6 L642.6 154.8 L642.4 155 L642.1 155.1 L641.9 155.2 L641.6 155.3 L641.4 155.4 L641.2 155.5 L640.9 155.5 L640.7 155.6 L640.5 155.6 L640.3 155.6 L640 155.5 L639.9 155.5 L639.7 155.4 L639.5 155.4 L639.3 155.2 L639.2 155.1 L639 155 L638.9 154.8 L638.8 154.7 L638.7 154.5 L638.6 154.3 L638.5 154.1 L638.5 153.8 L638.5 153.6 L638.4 153.4 L638.4 153.1 L638.5 152.8 L638.5 152.6 L638.6 152.3 L638.6 152 L638.7 151.7 L638.8 151.5 L638.9 151.2 L639 150.9 L639.2 150.6 L639.3 150.4 L639.5 150.1 L639.7 149.8 L639.9 149.6 L640.1 149.3 L640.3 149.1 L640.5 148.9 L640.7 148.7 L641 148.5 L641.2 148.3 L641.4 148.2 L641.7 148 L641.9 147.9 L642.2 147.8 L642.4 147.7 L642.6 147.6 L642.9 147.6 L643.1 147.6 L643.3 147.5 L643.5 147.5 L643.7 147.6 L643.9 147.6 L644.1 147.7 L644.3 147.8 Z" style="stroke-width:1.9"/>
<path class="m" d="M628.6 152.2 L628.7 152.4 L628.9 152.5 L629 152.6 L629.1 152.8 L629.2 153 L629.3 153.2 L629.4 153.4 L629.4 153.6 L629.4 153.9 L629.5 154.1 L629.5 154.4 L629.4 154.6 L629.4 154.9 L629.4 155.2 L629.3 155.5 L629.2 155.7 L629.1 156 L629 156.3 L628.9 156.6 L628.7 156.9 L628.6 157.1 L628.4 157.4 L628.2 157.7 L628 157.9 L627.8 158.1 L627.6 158.4 L627.4 158.6 L627.2 158.8 L626.9 159 L626.7 159.2 L626.5 159.3 L626.2 159.5 L626 159.6 L625.7 159.7 L625.5 159.8 L625.3 159.8 L625 159.9 L624.8 159.9 L624.6 159.9 L624.4 159.9 L624.2 159.9 L624 159.9 L623.8 159.8 L623.6 159.7 L623.4 159.6 L623.3 159.5 L623.1 159.3 L623 159.2 L622.9 159 L622.8 158.8 L622.7 158.6 L622.7 158.4 L622.6 158.2 L622.6 158 L622.6 157.7 L622.6 157.5 L622.6 157.2 L622.6 156.9 L622.7 156.6 L622.7 156.4 L622.8 156.1 L622.9 155.8 L623 155.5 L623.2 155.2 L623.3 155 L623.5 154.7 L623.6 154.4 L623.8 154.2 L624 153.9 L624.2 153.7 L624.4 153.5 L624.6 153.2 L624.8 153 L625.1 152.9 L625.3 152.7 L625.5 152.5 L625.8 152.4 L626 152.3 L626.3 152.1 L626.5 152.1 L626.7 152 L627 151.9 L627.2 151.9 L627.4 151.9 L627.6 151.9 L627.9 151.9 L628.1 152 L628.2 152 L628.4 152.1 Z" style="stroke-width:1.9"/>
<path class="m" d="M602 159.2 L602.2 159.3 L602.3 159.5 L602.5 159.6 L602.6 159.8 L602.7 160 L602.7 160.2 L602.8 160.4 L602.9 160.6 L602.9 160.8 L602.9 161.1 L602.9 161.3 L602.9 161.6 L602.8 161.9 L602.8 162.2 L602.7 162.4 L602.6 162.7 L602.5 163 L602.4 163.3 L602.3 163.5 L602.2 163.8 L602 164.1 L601.8 164.4 L601.7 164.6 L601.5 164.9 L601.3 165.1 L601.1 165.3 L600.8 165.5 L600.6 165.8 L600.4 165.9 L600.1 166.1 L599.9 166.3 L599.7 166.4 L599.4 166.5 L599.2 166.6 L598.9 166.7 L598.7 166.8 L598.5 166.9 L598.2 166.9 L598 166.9 L597.8 166.9 L597.6 166.9 L597.4 166.8 L597.2 166.8 L597 166.7 L596.9 166.6 L596.7 166.4 L596.6 166.3 L596.4 166.2 L596.3 166 L596.2 165.8 L596.2 165.6 L596.1 165.4 L596 165.2 L596 164.9 L596 164.7 L596 164.4 L596 164.2 L596.1 163.9 L596.1 163.6 L596.2 163.3 L596.3 163.1 L596.4 162.8 L596.5 162.5 L596.6 162.2 L596.7 161.9 L596.9 161.7 L597.1 161.4 L597.2 161.1 L597.4 160.9 L597.6 160.7 L597.9 160.4 L598.1 160.2 L598.3 160 L598.5 159.8 L598.8 159.6 L599 159.5 L599.2 159.3 L599.5 159.2 L599.7 159.1 L600 159 L600.2 159 L600.4 158.9 L600.7 158.9 L600.9 158.9 L601.1 158.9 L601.3 158.9 L601.5 158.9 L601.7 159 L601.9 159.1 Z" style="stroke-width:1.9"/>
<path class="m" d="M614.4 162 L614.6 162.1 L614.7 162.3 L614.9 162.4 L615 162.6 L615.1 162.8 L615.1 163 L615.2 163.2 L615.3 163.4 L615.3 163.7 L615.3 163.9 L615.3 164.2 L615.3 164.4 L615.3 164.7 L615.2 165 L615.1 165.3 L615.1 165.5 L615 165.8 L614.8 166.1 L614.7 166.4 L614.6 166.7 L614.4 166.9 L614.2 167.2 L614.1 167.4 L613.9 167.7 L613.7 167.9 L613.5 168.2 L613.2 168.4 L613 168.6 L612.8 168.8 L612.6 168.9 L612.3 169.1 L612.1 169.2 L611.8 169.4 L611.6 169.5 L611.4 169.6 L611.1 169.6 L610.9 169.7 L610.7 169.7 L610.4 169.7 L610.2 169.7 L610 169.7 L609.8 169.7 L609.6 169.6 L609.4 169.5 L609.3 169.4 L609.1 169.3 L609 169.1 L608.9 169 L608.7 168.8 L608.6 168.6 L608.6 168.4 L608.5 168.2 L608.5 168 L608.4 167.7 L608.4 167.5 L608.4 167.2 L608.4 167 L608.5 166.7 L608.5 166.4 L608.6 166.2 L608.7 165.9 L608.8 165.6 L608.9 165.3 L609 165 L609.2 164.8 L609.3 164.5 L609.5 164.2 L609.7 164 L609.8 163.7 L610 163.5 L610.3 163.3 L610.5 163 L610.7 162.8 L610.9 162.7 L611.2 162.5 L611.4 162.3 L611.6 162.2 L611.9 162.1 L612.1 161.9 L612.4 161.9 L612.6 161.8 L612.8 161.7 L613.1 161.7 L613.3 161.7 L613.5 161.7 L613.7 161.7 L613.9 161.8 L614.1 161.8 L614.3 161.9 Z" style="stroke-width:1.9"/>
<path class="m" d="M635.1 163.1 L635.3 163.2 L635.4 163.4 L635.5 163.5 L635.7 163.7 L635.7 163.9 L635.8 164.1 L635.9 164.3 L635.9 164.5 L636 164.8 L636 165 L636 165.3 L636 165.5 L635.9 165.8 L635.9 166.1 L635.8 166.3 L635.7 166.6 L635.6 166.9 L635.5 167.2 L635.4 167.5 L635.2 167.7 L635.1 168 L634.9 168.3 L634.7 168.5 L634.5 168.8 L634.3 169 L634.1 169.3 L633.9 169.5 L633.7 169.7 L633.5 169.9 L633.2 170 L633 170.2 L632.8 170.3 L632.5 170.5 L632.3 170.6 L632 170.7 L631.8 170.7 L631.6 170.8 L631.3 170.8 L631.1 170.8 L630.9 170.8 L630.7 170.8 L630.5 170.7 L630.3 170.7 L630.1 170.6 L630 170.5 L629.8 170.4 L629.7 170.2 L629.5 170.1 L629.4 169.9 L629.3 169.7 L629.2 169.5 L629.2 169.3 L629.1 169.1 L629.1 168.8 L629.1 168.6 L629.1 168.3 L629.1 168.1 L629.1 167.8 L629.2 167.5 L629.3 167.3 L629.3 167 L629.4 166.7 L629.6 166.4 L629.7 166.1 L629.8 165.9 L630 165.6 L630.2 165.3 L630.3 165.1 L630.5 164.8 L630.7 164.6 L630.9 164.4 L631.2 164.1 L631.4 163.9 L631.6 163.7 L631.8 163.6 L632.1 163.4 L632.3 163.3 L632.6 163.1 L632.8 163 L633 162.9 L633.3 162.9 L633.5 162.8 L633.7 162.8 L634 162.8 L634.2 162.8 L634.4 162.8 L634.6 162.9 L634.8 162.9 L635 163 Z" style="stroke-width:1.9"/>
<path class="m" d="M648.2 163.1 L648.3 163.2 L648.5 163.4 L648.6 163.5 L648.7 163.7 L648.8 163.9 L648.9 164.1 L649 164.3 L649 164.5 L649 164.8 L649.1 165 L649 165.3 L649 165.5 L649 165.8 L648.9 166.1 L648.9 166.3 L648.8 166.6 L648.7 166.9 L648.6 167.2 L648.4 167.5 L648.3 167.7 L648.1 168 L648 168.3 L647.8 168.5 L647.6 168.8 L647.4 169 L647.2 169.3 L647 169.5 L646.8 169.7 L646.5 169.9 L646.3 170 L646.1 170.2 L645.8 170.3 L645.6 170.5 L645.3 170.6 L645.1 170.7 L644.9 170.7 L644.6 170.8 L644.4 170.8 L644.2 170.8 L644 170.8 L643.7 170.8 L643.6 170.7 L643.4 170.7 L643.2 170.6 L643 170.5 L642.9 170.4 L642.7 170.2 L642.6 170.1 L642.5 169.9 L642.4 169.7 L642.3 169.5 L642.2 169.3 L642.2 169.1 L642.2 168.8 L642.1 168.6 L642.1 168.3 L642.2 168.1 L642.2 167.8 L642.3 167.5 L642.3 167.3 L642.4 167 L642.5 166.7 L642.6 166.4 L642.7 166.1 L642.9 165.9 L643 165.6 L643.2 165.3 L643.4 165.1 L643.6 164.8 L643.8 164.6 L644 164.4 L644.2 164.1 L644.4 163.9 L644.7 163.7 L644.9 163.6 L645.1 163.4 L645.4 163.3 L645.6 163.1 L645.9 163 L646.1 162.9 L646.3 162.9 L646.6 162.8 L646.8 162.8 L647 162.8 L647.2 162.8 L647.4 162.8 L647.6 162.9 L647.8 162.9 L648 163 Z" style="stroke-width:1.9"/>
<path class="m" d="M660.2 169.2 L660.3 169.3 L660.4 169.5 L660.6 169.6 L660.7 169.8 L660.8 170 L660.9 170.2 L660.9 170.4 L661 170.6 L661 170.9 L661 171.1 L661 171.4 L661 171.6 L661 171.9 L660.9 172.2 L660.8 172.4 L660.8 172.7 L660.7 173 L660.5 173.3 L660.4 173.6 L660.3 173.8 L660.1 174.1 L660 174.4 L659.8 174.6 L659.6 174.9 L659.4 175.1 L659.2 175.3 L659 175.6 L658.7 175.8 L658.5 176 L658.3 176.1 L658 176.3 L657.8 176.4 L657.5 176.6 L657.3 176.7 L657.1 176.8 L656.8 176.8 L656.6 176.9 L656.4 176.9 L656.1 176.9 L655.9 176.9 L655.7 176.9 L655.5 176.8 L655.3 176.8 L655.2 176.7 L655 176.6 L654.8 176.5 L654.7 176.3 L654.6 176.2 L654.5 176 L654.4 175.8 L654.3 175.6 L654.2 175.4 L654.2 175.2 L654.1 174.9 L654.1 174.7 L654.1 174.4 L654.1 174.2 L654.2 173.9 L654.2 173.6 L654.3 173.3 L654.4 173.1 L654.5 172.8 L654.6 172.5 L654.7 172.2 L654.9 172 L655 171.7 L655.2 171.4 L655.4 171.2 L655.6 170.9 L655.8 170.7 L656 170.4 L656.2 170.2 L656.4 170 L656.6 169.8 L656.9 169.7 L657.1 169.5 L657.4 169.4 L657.6 169.2 L657.8 169.1 L658.1 169 L658.3 169 L658.5 168.9 L658.8 168.9 L659 168.9 L659.2 168.9 L659.4 168.9 L659.6 169 L659.8 169 L660 169.1 Z" style="stroke-width:1.9"/>
<path class="m" d="M587.2 162.5 L587.4 162.6 L587.5 162.7 L587.7 162.9 L587.8 163 L587.9 163.2 L587.9 163.4 L588 163.6 L588.1 163.9 L588.1 164.1 L588.1 164.4 L588.1 164.6 L588.1 164.9 L588 165.1 L588 165.4 L587.9 165.7 L587.8 166 L587.7 166.3 L587.6 166.5 L587.5 166.8 L587.4 167.1 L587.2 167.4 L587 167.6 L586.9 167.9 L586.7 168.1 L586.5 168.4 L586.3 168.6 L586 168.8 L585.8 169 L585.6 169.2 L585.3 169.4 L585.1 169.5 L584.9 169.7 L584.6 169.8 L584.4 169.9 L584.1 170 L583.9 170.1 L583.7 170.1 L583.4 170.2 L583.2 170.2 L583 170.2 L582.8 170.1 L582.6 170.1 L582.4 170 L582.2 169.9 L582.1 169.8 L581.9 169.7 L581.8 169.6 L581.6 169.4 L581.5 169.2 L581.4 169.1 L581.4 168.9 L581.3 168.6 L581.2 168.4 L581.2 168.2 L581.2 167.9 L581.2 167.7 L581.2 167.4 L581.3 167.2 L581.3 166.9 L581.4 166.6 L581.5 166.3 L581.6 166 L581.7 165.8 L581.8 165.5 L581.9 165.2 L582.1 164.9 L582.3 164.7 L582.4 164.4 L582.6 164.2 L582.8 163.9 L583 163.7 L583.3 163.5 L583.5 163.3 L583.7 163.1 L584 162.9 L584.2 162.8 L584.4 162.6 L584.7 162.5 L584.9 162.4 L585.2 162.3 L585.4 162.2 L585.6 162.2 L585.9 162.1 L586.1 162.1 L586.3 162.1 L586.5 162.2 L586.7 162.2 L586.9 162.3 L587.1 162.4 Z" style="stroke-width:1.9"/>
<path class="m" d="M590.5 175.1 L590.6 175.2 L590.8 175.3 L590.9 175.5 L591 175.7 L591.1 175.9 L591.2 176.1 L591.3 176.3 L591.3 176.5 L591.4 176.7 L591.4 177 L591.4 177.2 L591.3 177.5 L591.3 177.8 L591.3 178 L591.2 178.3 L591.1 178.6 L591 178.9 L590.9 179.2 L590.8 179.4 L590.6 179.7 L590.5 180 L590.3 180.2 L590.1 180.5 L589.9 180.8 L589.7 181 L589.5 181.2 L589.3 181.4 L589.1 181.6 L588.8 181.8 L588.6 182 L588.4 182.2 L588.1 182.3 L587.9 182.4 L587.7 182.5 L587.4 182.6 L587.2 182.7 L586.9 182.7 L586.7 182.8 L586.5 182.8 L586.3 182.8 L586.1 182.8 L585.9 182.7 L585.7 182.6 L585.5 182.6 L585.3 182.5 L585.2 182.3 L585 182.2 L584.9 182 L584.8 181.9 L584.7 181.7 L584.6 181.5 L584.6 181.3 L584.5 181 L584.5 180.8 L584.5 180.6 L584.5 180.3 L584.5 180 L584.5 179.8 L584.6 179.5 L584.6 179.2 L584.7 178.9 L584.8 178.7 L584.9 178.4 L585.1 178.1 L585.2 177.8 L585.4 177.6 L585.5 177.3 L585.7 177 L585.9 176.8 L586.1 176.6 L586.3 176.3 L586.5 176.1 L586.8 175.9 L587 175.7 L587.2 175.5 L587.5 175.4 L587.7 175.2 L587.9 175.1 L588.2 175 L588.4 174.9 L588.7 174.8 L588.9 174.8 L589.1 174.8 L589.3 174.8 L589.6 174.8 L589.8 174.8 L590 174.8 L590.2 174.9 L590.3 175 Z" style="stroke-width:1.9"/>
<path class="m" d="M576.6 182.7 L576.7 182.8 L576.9 183 L577 183.1 L577.1 183.3 L577.2 183.5 L577.3 183.7 L577.3 183.9 L577.4 184.1 L577.4 184.4 L577.4 184.6 L577.4 184.9 L577.4 185.1 L577.4 185.4 L577.3 185.7 L577.3 185.9 L577.2 186.2 L577.1 186.5 L577 186.8 L576.8 187.1 L576.7 187.3 L576.5 187.6 L576.4 187.9 L576.2 188.1 L576 188.4 L575.8 188.6 L575.6 188.8 L575.4 189.1 L575.1 189.3 L574.9 189.5 L574.7 189.6 L574.4 189.8 L574.2 189.9 L574 190.1 L573.7 190.2 L573.5 190.2 L573.2 190.3 L573 190.4 L572.8 190.4 L572.6 190.4 L572.3 190.4 L572.1 190.4 L571.9 190.3 L571.7 190.3 L571.6 190.2 L571.4 190.1 L571.2 190 L571.1 189.8 L571 189.7 L570.9 189.5 L570.8 189.3 L570.7 189.1 L570.6 188.9 L570.6 188.7 L570.5 188.4 L570.5 188.2 L570.5 187.9 L570.6 187.7 L570.6 187.4 L570.6 187.1 L570.7 186.8 L570.8 186.6 L570.9 186.3 L571 186 L571.1 185.7 L571.3 185.4 L571.4 185.2 L571.6 184.9 L571.8 184.7 L572 184.4 L572.2 184.2 L572.4 183.9 L572.6 183.7 L572.8 183.5 L573.1 183.3 L573.3 183.2 L573.5 183 L573.8 182.9 L574 182.7 L574.2 182.6 L574.5 182.5 L574.7 182.5 L575 182.4 L575.2 182.4 L575.4 182.4 L575.6 182.4 L575.8 182.4 L576 182.5 L576.2 182.5 L576.4 182.6 Z" style="stroke-width:1.9"/>
<path class="m" d="M647.7 180.1 L647.9 180.2 L648 180.4 L648.2 180.5 L648.3 180.7 L648.4 180.9 L648.5 181.1 L648.5 181.3 L648.6 181.5 L648.6 181.7 L648.6 182 L648.6 182.2 L648.6 182.5 L648.6 182.8 L648.5 183 L648.4 183.3 L648.4 183.6 L648.3 183.9 L648.1 184.2 L648 184.4 L647.9 184.7 L647.7 185 L647.5 185.3 L647.4 185.5 L647.2 185.8 L647 186 L646.8 186.2 L646.5 186.4 L646.3 186.6 L646.1 186.8 L645.9 187 L645.6 187.2 L645.4 187.3 L645.1 187.4 L644.9 187.5 L644.7 187.6 L644.4 187.7 L644.2 187.8 L644 187.8 L643.7 187.8 L643.5 187.8 L643.3 187.8 L643.1 187.7 L642.9 187.7 L642.7 187.6 L642.6 187.5 L642.4 187.3 L642.3 187.2 L642.2 187.1 L642 186.9 L642 186.7 L641.9 186.5 L641.8 186.3 L641.8 186.1 L641.7 185.8 L641.7 185.6 L641.7 185.3 L641.7 185.1 L641.8 184.8 L641.8 184.5 L641.9 184.2 L642 184 L642.1 183.7 L642.2 183.4 L642.3 183.1 L642.5 182.8 L642.6 182.6 L642.8 182.3 L643 182 L643.2 181.8 L643.4 181.6 L643.6 181.3 L643.8 181.1 L644 180.9 L644.2 180.7 L644.5 180.5 L644.7 180.4 L644.9 180.2 L645.2 180.1 L645.4 180 L645.7 179.9 L645.9 179.9 L646.1 179.8 L646.4 179.8 L646.6 179.8 L646.8 179.8 L647 179.8 L647.2 179.8 L647.4 179.9 L647.6 180 Z" style="stroke-width:1.9"/>
<path class="m" d="M655.4 190.3 L655.5 190.4 L655.7 190.6 L655.8 190.7 L655.9 190.9 L656 191.1 L656.1 191.3 L656.1 191.5 L656.2 191.7 L656.2 192 L656.2 192.2 L656.2 192.5 L656.2 192.7 L656.2 193 L656.1 193.3 L656.1 193.6 L656 193.8 L655.9 194.1 L655.8 194.4 L655.6 194.7 L655.5 195 L655.3 195.2 L655.2 195.5 L655 195.7 L654.8 196 L654.6 196.2 L654.4 196.5 L654.2 196.7 L653.9 196.9 L653.7 197.1 L653.5 197.2 L653.2 197.4 L653 197.5 L652.8 197.7 L652.5 197.8 L652.3 197.9 L652 197.9 L651.8 198 L651.6 198 L651.4 198 L651.1 198 L650.9 198 L650.7 197.9 L650.5 197.9 L650.4 197.8 L650.2 197.7 L650 197.6 L649.9 197.4 L649.8 197.3 L649.7 197.1 L649.6 196.9 L649.5 196.7 L649.4 196.5 L649.4 196.3 L649.3 196 L649.3 195.8 L649.3 195.5 L649.4 195.3 L649.4 195 L649.4 194.7 L649.5 194.5 L649.6 194.2 L649.7 193.9 L649.8 193.6 L649.9 193.3 L650.1 193.1 L650.2 192.8 L650.4 192.5 L650.6 192.3 L650.8 192 L651 191.8 L651.2 191.6 L651.4 191.3 L651.6 191.1 L651.9 191 L652.1 190.8 L652.3 190.6 L652.6 190.5 L652.8 190.3 L653 190.2 L653.3 190.2 L653.5 190.1 L653.8 190 L654 190 L654.2 190 L654.4 190 L654.6 190 L654.8 190.1 L655 190.1 L655.2 190.2 Z" style="stroke-width:1.9"/>
<path class="m" d="M560.7 195.8 L560.8 195.9 L561 196 L561.1 196.2 L561.2 196.4 L561.3 196.5 L561.4 196.7 L561.4 197 L561.5 197.2 L561.5 197.4 L561.5 197.7 L561.5 197.9 L561.5 198.2 L561.5 198.4 L561.4 198.7 L561.4 199 L561.3 199.3 L561.2 199.6 L561.1 199.8 L560.9 200.1 L560.8 200.4 L560.6 200.7 L560.5 200.9 L560.3 201.2 L560.1 201.4 L559.9 201.7 L559.7 201.9 L559.5 202.1 L559.3 202.3 L559 202.5 L558.8 202.7 L558.6 202.8 L558.3 203 L558.1 203.1 L557.8 203.2 L557.6 203.3 L557.4 203.4 L557.1 203.4 L556.9 203.5 L556.7 203.5 L556.5 203.5 L556.2 203.4 L556 203.4 L555.9 203.3 L555.7 203.2 L555.5 203.1 L555.4 203 L555.2 202.9 L555.1 202.7 L555 202.6 L554.9 202.4 L554.8 202.2 L554.7 202 L554.7 201.7 L554.7 201.5 L554.6 201.2 L554.6 201 L554.7 200.7 L554.7 200.5 L554.7 200.2 L554.8 199.9 L554.9 199.6 L555 199.3 L555.1 199.1 L555.2 198.8 L555.4 198.5 L555.5 198.2 L555.7 198 L555.9 197.7 L556.1 197.5 L556.3 197.2 L556.5 197 L556.7 196.8 L556.9 196.6 L557.2 196.4 L557.4 196.2 L557.6 196.1 L557.9 195.9 L558.1 195.8 L558.4 195.7 L558.6 195.6 L558.8 195.5 L559.1 195.5 L559.3 195.4 L559.5 195.4 L559.7 195.4 L559.9 195.5 L560.1 195.5 L560.3 195.6 L560.5 195.7 Z" style="stroke-width:1.9"/>
<path class="m" d="M569.4 201.2 L569.5 201.3 L569.7 201.5 L569.8 201.6 L569.9 201.8 L570 202 L570.1 202.2 L570.2 202.4 L570.2 202.6 L570.2 202.9 L570.3 203.1 L570.3 203.4 L570.2 203.6 L570.2 203.9 L570.1 204.2 L570.1 204.4 L570 204.7 L569.9 205 L569.8 205.3 L569.7 205.6 L569.5 205.8 L569.4 206.1 L569.2 206.4 L569 206.6 L568.8 206.9 L568.6 207.1 L568.4 207.3 L568.2 207.6 L568 207.8 L567.7 208 L567.5 208.1 L567.3 208.3 L567 208.4 L566.8 208.6 L566.5 208.7 L566.3 208.7 L566.1 208.8 L565.8 208.9 L565.6 208.9 L565.4 208.9 L565.2 208.9 L565 208.9 L564.8 208.8 L564.6 208.8 L564.4 208.7 L564.2 208.6 L564.1 208.5 L563.9 208.3 L563.8 208.2 L563.7 208 L563.6 207.8 L563.5 207.6 L563.4 207.4 L563.4 207.2 L563.4 206.9 L563.3 206.7 L563.4 206.4 L563.4 206.2 L563.4 205.9 L563.5 205.6 L563.5 205.3 L563.6 205.1 L563.7 204.8 L563.8 204.5 L564 204.2 L564.1 204 L564.2 203.7 L564.4 203.4 L564.6 203.2 L564.8 202.9 L565 202.7 L565.2 202.4 L565.4 202.2 L565.6 202 L565.9 201.8 L566.1 201.7 L566.3 201.5 L566.6 201.4 L566.8 201.2 L567.1 201.1 L567.3 201 L567.5 201 L567.8 200.9 L568 200.9 L568.2 200.9 L568.4 200.9 L568.6 200.9 L568.8 201 L569 201 L569.2 201.1 Z" style="stroke-width:1.9"/>
<path class="m" d="M660.8 205.1 L661 205.2 L661.1 205.4 L661.2 205.5 L661.3 205.7 L661.4 205.9 L661.5 206.1 L661.6 206.3 L661.6 206.5 L661.7 206.8 L661.7 207 L661.7 207.3 L661.7 207.5 L661.6 207.8 L661.6 208.1 L661.5 208.4 L661.4 208.6 L661.3 208.9 L661.2 209.2 L661.1 209.5 L660.9 209.8 L660.8 210 L660.6 210.3 L660.4 210.5 L660.2 210.8 L660 211 L659.8 211.3 L659.6 211.5 L659.4 211.7 L659.2 211.9 L658.9 212 L658.7 212.2 L658.4 212.3 L658.2 212.5 L658 212.6 L657.7 212.7 L657.5 212.7 L657.3 212.8 L657 212.8 L656.8 212.8 L656.6 212.8 L656.4 212.8 L656.2 212.8 L656 212.7 L655.8 212.6 L655.6 212.5 L655.5 212.4 L655.3 212.2 L655.2 212.1 L655.1 211.9 L655 211.7 L654.9 211.5 L654.9 211.3 L654.8 211.1 L654.8 210.8 L654.8 210.6 L654.8 210.3 L654.8 210.1 L654.8 209.8 L654.9 209.5 L654.9 209.3 L655 209 L655.1 208.7 L655.2 208.4 L655.4 208.1 L655.5 207.9 L655.7 207.6 L655.8 207.3 L656 207.1 L656.2 206.8 L656.4 206.6 L656.6 206.4 L656.8 206.1 L657.1 205.9 L657.3 205.8 L657.5 205.6 L657.8 205.4 L658 205.3 L658.2 205.2 L658.5 205 L658.7 205 L659 204.9 L659.2 204.8 L659.4 204.8 L659.6 204.8 L659.9 204.8 L660.1 204.8 L660.3 204.9 L660.5 204.9 L660.6 205 Z" style="stroke-width:1.9"/>
<path class="m" d="M647.3 208.8 L647.5 208.9 L647.6 209.1 L647.7 209.2 L647.8 209.4 L647.9 209.6 L648 209.8 L648.1 210 L648.1 210.2 L648.2 210.5 L648.2 210.7 L648.2 211 L648.2 211.2 L648.1 211.5 L648.1 211.8 L648 212.1 L647.9 212.3 L647.8 212.6 L647.7 212.9 L647.6 213.2 L647.4 213.5 L647.3 213.7 L647.1 214 L646.9 214.2 L646.7 214.5 L646.5 214.7 L646.3 215 L646.1 215.2 L645.9 215.4 L645.7 215.6 L645.4 215.7 L645.2 215.9 L644.9 216 L644.7 216.2 L644.5 216.3 L644.2 216.4 L644 216.4 L643.8 216.5 L643.5 216.5 L643.3 216.5 L643.1 216.5 L642.9 216.5 L642.7 216.5 L642.5 216.4 L642.3 216.3 L642.1 216.2 L642 216.1 L641.9 215.9 L641.7 215.8 L641.6 215.6 L641.5 215.4 L641.4 215.2 L641.4 215 L641.3 214.8 L641.3 214.6 L641.3 214.3 L641.3 214 L641.3 213.8 L641.3 213.5 L641.4 213.2 L641.5 213 L641.5 212.7 L641.6 212.4 L641.7 212.1 L641.9 211.8 L642 211.6 L642.2 211.3 L642.3 211 L642.5 210.8 L642.7 210.5 L642.9 210.3 L643.1 210.1 L643.3 209.8 L643.6 209.6 L643.8 209.5 L644 209.3 L644.3 209.1 L644.5 209 L644.8 208.9 L645 208.7 L645.2 208.7 L645.5 208.6 L645.7 208.5 L645.9 208.5 L646.2 208.5 L646.4 208.5 L646.6 208.5 L646.8 208.6 L647 208.6 L647.1 208.7 Z" style="stroke-width:1.9"/>
<path class="m" d="M557.4 216.4 L557.6 216.6 L557.7 216.7 L557.8 216.9 L557.9 217 L558 217.2 L558.1 217.4 L558.2 217.6 L558.2 217.9 L558.3 218.1 L558.3 218.3 L558.3 218.6 L558.3 218.9 L558.2 219.1 L558.2 219.4 L558.1 219.7 L558 220 L557.9 220.2 L557.8 220.5 L557.7 220.8 L557.5 221.1 L557.4 221.3 L557.2 221.6 L557 221.9 L556.8 222.1 L556.6 222.4 L556.4 222.6 L556.2 222.8 L556 223 L555.8 223.2 L555.5 223.4 L555.3 223.5 L555 223.7 L554.8 223.8 L554.6 223.9 L554.3 224 L554.1 224.1 L553.9 224.1 L553.6 224.1 L553.4 224.2 L553.2 224.1 L553 224.1 L552.8 224.1 L552.6 224 L552.4 223.9 L552.2 223.8 L552.1 223.7 L552 223.6 L551.8 223.4 L551.7 223.2 L551.6 223 L551.5 222.8 L551.5 222.6 L551.4 222.4 L551.4 222.2 L551.4 221.9 L551.4 221.7 L551.4 221.4 L551.4 221.1 L551.5 220.9 L551.6 220.6 L551.6 220.3 L551.7 220 L551.8 219.7 L552 219.5 L552.1 219.2 L552.3 218.9 L552.4 218.7 L552.6 218.4 L552.8 218.1 L553 217.9 L553.2 217.7 L553.4 217.5 L553.7 217.3 L553.9 217.1 L554.1 216.9 L554.4 216.7 L554.6 216.6 L554.9 216.5 L555.1 216.4 L555.3 216.3 L555.6 216.2 L555.8 216.2 L556 216.1 L556.3 216.1 L556.5 216.1 L556.7 216.1 L556.9 216.2 L557.1 216.3 L557.2 216.3 Z" style="stroke-width:1.9"/>
<path class="m" d="M648.4 224.5 L648.6 224.6 L648.7 224.8 L648.8 224.9 L648.9 225.1 L649 225.3 L649.1 225.5 L649.2 225.7 L649.2 225.9 L649.3 226.1 L649.3 226.4 L649.3 226.6 L649.2 226.9 L649.2 227.2 L649.2 227.5 L649.1 227.7 L649 228 L648.9 228.3 L648.8 228.6 L648.7 228.9 L648.5 229.1 L648.4 229.4 L648.2 229.7 L648 229.9 L647.8 230.2 L647.6 230.4 L647.4 230.6 L647.2 230.9 L647 231.1 L646.7 231.2 L646.5 231.4 L646.3 231.6 L646 231.7 L645.8 231.8 L645.6 232 L645.3 232 L645.1 232.1 L644.8 232.2 L644.6 232.2 L644.4 232.2 L644.2 232.2 L644 232.2 L643.8 232.1 L643.6 232.1 L643.4 232 L643.2 231.9 L643.1 231.7 L642.9 231.6 L642.8 231.5 L642.7 231.3 L642.6 231.1 L642.5 230.9 L642.5 230.7 L642.4 230.5 L642.4 230.2 L642.4 230 L642.4 229.7 L642.4 229.5 L642.4 229.2 L642.5 228.9 L642.5 228.6 L642.6 228.4 L642.7 228.1 L642.8 227.8 L643 227.5 L643.1 227.2 L643.3 227 L643.4 226.7 L643.6 226.5 L643.8 226.2 L644 226 L644.2 225.7 L644.4 225.5 L644.7 225.3 L644.9 225.1 L645.1 225 L645.4 224.8 L645.6 224.6 L645.8 224.5 L646.1 224.4 L646.3 224.3 L646.6 224.3 L646.8 224.2 L647 224.2 L647.2 224.2 L647.5 224.2 L647.7 224.2 L647.9 224.2 L648.1 224.3 L648.2 224.4 Z" style="stroke-width:1.9"/>
<path class="m" d="M544.3 235.6 L544.5 235.7 L544.6 235.9 L544.8 236 L544.9 236.2 L545 236.4 L545.1 236.6 L545.1 236.8 L545.2 237 L545.2 237.2 L545.2 237.5 L545.2 237.8 L545.2 238 L545.2 238.3 L545.1 238.6 L545 238.8 L545 239.1 L544.9 239.4 L544.7 239.7 L544.6 240 L544.5 240.2 L544.3 240.5 L544.1 240.8 L544 241 L543.8 241.3 L543.6 241.5 L543.4 241.7 L543.2 242 L542.9 242.2 L542.7 242.3 L542.5 242.5 L542.2 242.7 L542 242.8 L541.7 242.9 L541.5 243.1 L541.3 243.1 L541 243.2 L540.8 243.3 L540.6 243.3 L540.3 243.3 L540.1 243.3 L539.9 243.3 L539.7 243.2 L539.5 243.2 L539.4 243.1 L539.2 243 L539 242.9 L538.9 242.7 L538.8 242.6 L538.7 242.4 L538.6 242.2 L538.5 242 L538.4 241.8 L538.4 241.6 L538.3 241.3 L538.3 241.1 L538.3 240.8 L538.3 240.6 L538.4 240.3 L538.4 240 L538.5 239.7 L538.6 239.5 L538.7 239.2 L538.8 238.9 L538.9 238.6 L539.1 238.3 L539.2 238.1 L539.4 237.8 L539.6 237.6 L539.8 237.3 L540 237.1 L540.2 236.8 L540.4 236.6 L540.6 236.4 L540.8 236.2 L541.1 236.1 L541.3 235.9 L541.5 235.8 L541.8 235.6 L542 235.5 L542.3 235.4 L542.5 235.4 L542.7 235.3 L543 235.3 L543.2 235.3 L543.4 235.3 L543.6 235.3 L543.8 235.3 L544 235.4 L544.2 235.5 Z" style="stroke-width:1.9"/>
<path class="m" d="M558.1 232.8 L558.2 232.9 L558.4 233 L558.5 233.2 L558.6 233.4 L558.7 233.5 L558.8 233.7 L558.8 234 L558.9 234.2 L558.9 234.4 L558.9 234.7 L558.9 234.9 L558.9 235.2 L558.9 235.5 L558.8 235.7 L558.8 236 L558.7 236.3 L558.6 236.6 L558.5 236.8 L558.3 237.1 L558.2 237.4 L558 237.7 L557.9 237.9 L557.7 238.2 L557.5 238.4 L557.3 238.7 L557.1 238.9 L556.9 239.1 L556.6 239.3 L556.4 239.5 L556.2 239.7 L555.9 239.8 L555.7 240 L555.5 240.1 L555.2 240.2 L555 240.3 L554.7 240.4 L554.5 240.4 L554.3 240.5 L554.1 240.5 L553.8 240.5 L553.6 240.4 L553.4 240.4 L553.2 240.3 L553.1 240.2 L552.9 240.1 L552.7 240 L552.6 239.9 L552.5 239.7 L552.4 239.6 L552.3 239.4 L552.2 239.2 L552.1 239 L552.1 238.7 L552 238.5 L552 238.2 L552 238 L552 237.7 L552.1 237.5 L552.1 237.2 L552.2 236.9 L552.3 236.6 L552.4 236.3 L552.5 236.1 L552.6 235.8 L552.8 235.5 L552.9 235.2 L553.1 235 L553.3 234.7 L553.5 234.5 L553.7 234.2 L553.9 234 L554.1 233.8 L554.3 233.6 L554.6 233.4 L554.8 233.2 L555 233.1 L555.3 232.9 L555.5 232.8 L555.7 232.7 L556 232.6 L556.2 232.5 L556.5 232.5 L556.7 232.4 L556.9 232.4 L557.1 232.4 L557.3 232.5 L557.5 232.5 L557.7 232.6 L557.9 232.7 Z" style="stroke-width:1.9"/>
<path class="m" d="M634.7 240 L634.8 240.1 L635 240.2 L635.1 240.4 L635.2 240.5 L635.3 240.7 L635.4 240.9 L635.5 241.1 L635.5 241.4 L635.5 241.6 L635.6 241.8 L635.6 242.1 L635.5 242.4 L635.5 242.6 L635.4 242.9 L635.4 243.2 L635.3 243.5 L635.2 243.7 L635.1 244 L635 244.3 L634.8 244.6 L634.7 244.9 L634.5 245.1 L634.3 245.4 L634.1 245.6 L633.9 245.9 L633.7 246.1 L633.5 246.3 L633.3 246.5 L633 246.7 L632.8 246.9 L632.6 247 L632.3 247.2 L632.1 247.3 L631.8 247.4 L631.6 247.5 L631.4 247.6 L631.1 247.6 L630.9 247.6 L630.7 247.7 L630.5 247.7 L630.3 247.6 L630.1 247.6 L629.9 247.5 L629.7 247.4 L629.5 247.3 L629.4 247.2 L629.2 247.1 L629.1 246.9 L629 246.7 L628.9 246.6 L628.8 246.4 L628.7 246.1 L628.7 245.9 L628.7 245.7 L628.7 245.4 L628.7 245.2 L628.7 244.9 L628.7 244.6 L628.8 244.4 L628.8 244.1 L628.9 243.8 L629 243.5 L629.1 243.3 L629.3 243 L629.4 242.7 L629.6 242.4 L629.7 242.2 L629.9 241.9 L630.1 241.7 L630.3 241.4 L630.5 241.2 L630.7 241 L630.9 240.8 L631.2 240.6 L631.4 240.4 L631.6 240.2 L631.9 240.1 L632.1 240 L632.4 239.9 L632.6 239.8 L632.8 239.7 L633.1 239.7 L633.3 239.6 L633.5 239.6 L633.7 239.6 L634 239.7 L634.2 239.7 L634.3 239.8 L634.5 239.9 Z" style="stroke-width:1.9"/>
<path class="m" d="M644.5 245.2 L644.6 245.3 L644.8 245.4 L644.9 245.6 L645 245.8 L645.1 245.9 L645.2 246.1 L645.3 246.4 L645.3 246.6 L645.3 246.8 L645.3 247.1 L645.3 247.3 L645.3 247.6 L645.3 247.9 L645.2 248.1 L645.2 248.4 L645.1 248.7 L645 249 L644.9 249.3 L644.7 249.5 L644.6 249.8 L644.4 250.1 L644.3 250.3 L644.1 250.6 L643.9 250.8 L643.7 251.1 L643.5 251.3 L643.3 251.5 L643.1 251.7 L642.8 251.9 L642.6 252.1 L642.4 252.3 L642.1 252.4 L641.9 252.5 L641.6 252.6 L641.4 252.7 L641.2 252.8 L640.9 252.8 L640.7 252.9 L640.5 252.9 L640.3 252.9 L640 252.8 L639.9 252.8 L639.7 252.7 L639.5 252.7 L639.3 252.5 L639.2 252.4 L639 252.3 L638.9 252.1 L638.8 252 L638.7 251.8 L638.6 251.6 L638.5 251.4 L638.5 251.1 L638.5 250.9 L638.4 250.7 L638.4 250.4 L638.5 250.1 L638.5 249.9 L638.6 249.6 L638.6 249.3 L638.7 249 L638.8 248.8 L638.9 248.5 L639 248.2 L639.2 247.9 L639.3 247.7 L639.5 247.4 L639.7 247.1 L639.9 246.9 L640.1 246.6 L640.3 246.4 L640.5 246.2 L640.7 246 L641 245.8 L641.2 245.6 L641.4 245.5 L641.7 245.3 L641.9 245.2 L642.2 245.1 L642.4 245 L642.6 244.9 L642.9 244.9 L643.1 244.9 L643.3 244.8 L643.5 244.9 L643.7 244.9 L643.9 244.9 L644.1 245 L644.3 245.1 Z" style="stroke-width:1.9"/>
<path class="m" d="M549.8 251.7 L549.9 251.8 L550.1 252 L550.2 252.1 L550.3 252.3 L550.4 252.5 L550.5 252.7 L550.6 252.9 L550.6 253.1 L550.6 253.4 L550.7 253.6 L550.7 253.9 L550.6 254.1 L550.6 254.4 L550.6 254.7 L550.5 254.9 L550.4 255.2 L550.3 255.5 L550.2 255.8 L550.1 256.1 L549.9 256.3 L549.8 256.6 L549.6 256.9 L549.4 257.1 L549.2 257.4 L549 257.6 L548.8 257.8 L548.6 258.1 L548.4 258.3 L548.1 258.5 L547.9 258.6 L547.7 258.8 L547.4 258.9 L547.2 259.1 L546.9 259.2 L546.7 259.3 L546.5 259.3 L546.2 259.4 L546 259.4 L545.8 259.4 L545.6 259.4 L545.4 259.4 L545.2 259.3 L545 259.3 L544.8 259.2 L544.6 259.1 L544.5 259 L544.3 258.8 L544.2 258.7 L544.1 258.5 L544 258.3 L543.9 258.1 L543.9 257.9 L543.8 257.7 L543.8 257.4 L543.8 257.2 L543.8 256.9 L543.8 256.7 L543.8 256.4 L543.9 256.1 L543.9 255.8 L544 255.6 L544.1 255.3 L544.2 255 L544.4 254.7 L544.5 254.5 L544.7 254.2 L544.8 253.9 L545 253.7 L545.2 253.4 L545.4 253.2 L545.6 252.9 L545.8 252.7 L546 252.5 L546.3 252.3 L546.5 252.2 L546.8 252 L547 251.9 L547.2 251.7 L547.5 251.6 L547.7 251.5 L547.9 251.5 L548.2 251.4 L548.4 251.4 L548.6 251.4 L548.9 251.4 L549.1 251.4 L549.3 251.5 L549.4 251.5 L549.6 251.6 Z" style="stroke-width:1.9"/>
<path class="m" d="M557.4 261.7 L557.6 261.8 L557.7 262 L557.8 262.1 L557.9 262.3 L558 262.5 L558.1 262.7 L558.2 262.9 L558.2 263.1 L558.3 263.4 L558.3 263.6 L558.3 263.9 L558.3 264.1 L558.2 264.4 L558.2 264.7 L558.1 265 L558 265.2 L557.9 265.5 L557.8 265.8 L557.7 266.1 L557.5 266.3 L557.4 266.6 L557.2 266.9 L557 267.1 L556.8 267.4 L556.6 267.6 L556.4 267.9 L556.2 268.1 L556 268.3 L555.8 268.5 L555.5 268.6 L555.3 268.8 L555 268.9 L554.8 269.1 L554.6 269.2 L554.3 269.3 L554.1 269.3 L553.9 269.4 L553.6 269.4 L553.4 269.4 L553.2 269.4 L553 269.4 L552.8 269.3 L552.6 269.3 L552.4 269.2 L552.2 269.1 L552.1 269 L552 268.8 L551.8 268.7 L551.7 268.5 L551.6 268.3 L551.5 268.1 L551.5 267.9 L551.4 267.7 L551.4 267.4 L551.4 267.2 L551.4 266.9 L551.4 266.7 L551.4 266.4 L551.5 266.1 L551.6 265.9 L551.6 265.6 L551.7 265.3 L551.8 265 L552 264.7 L552.1 264.5 L552.3 264.2 L552.4 263.9 L552.6 263.7 L552.8 263.4 L553 263.2 L553.2 263 L553.4 262.7 L553.7 262.5 L553.9 262.3 L554.1 262.2 L554.4 262 L554.6 261.9 L554.9 261.7 L555.1 261.6 L555.3 261.6 L555.6 261.5 L555.8 261.4 L556 261.4 L556.3 261.4 L556.5 261.4 L556.7 261.4 L556.9 261.5 L557.1 261.5 L557.2 261.6 Z" style="stroke-width:1.9"/>
<path class="m" d="M628.6 260 L628.7 260.1 L628.9 260.2 L629 260.4 L629.1 260.6 L629.2 260.8 L629.3 261 L629.4 261.2 L629.4 261.4 L629.4 261.6 L629.5 261.9 L629.5 262.1 L629.4 262.4 L629.4 262.7 L629.4 262.9 L629.3 263.2 L629.2 263.5 L629.1 263.8 L629 264.1 L628.9 264.3 L628.7 264.6 L628.6 264.9 L628.4 265.1 L628.2 265.4 L628 265.6 L627.8 265.9 L627.6 266.1 L627.4 266.3 L627.2 266.5 L626.9 266.7 L626.7 266.9 L626.5 267.1 L626.2 267.2 L626 267.3 L625.7 267.4 L625.5 267.5 L625.3 267.6 L625 267.6 L624.8 267.7 L624.6 267.7 L624.4 267.7 L624.2 267.7 L624 267.6 L623.8 267.5 L623.6 267.5 L623.4 267.4 L623.3 267.2 L623.1 267.1 L623 266.9 L622.9 266.8 L622.8 266.6 L622.7 266.4 L622.7 266.2 L622.6 265.9 L622.6 265.7 L622.6 265.5 L622.6 265.2 L622.6 264.9 L622.6 264.7 L622.7 264.4 L622.7 264.1 L622.8 263.8 L622.9 263.6 L623 263.3 L623.2 263 L623.3 262.7 L623.5 262.5 L623.6 262.2 L623.8 261.9 L624 261.7 L624.2 261.4 L624.4 261.2 L624.6 261 L624.8 260.8 L625.1 260.6 L625.3 260.4 L625.5 260.3 L625.8 260.1 L626 260 L626.3 259.9 L626.5 259.8 L626.7 259.7 L627 259.7 L627.2 259.7 L627.4 259.6 L627.6 259.7 L627.9 259.7 L628.1 259.7 L628.2 259.8 L628.4 259.9 Z" style="stroke-width:1.9"/>
<path class="m" d="M614.4 266.9 L614.6 267.1 L614.7 267.2 L614.9 267.4 L615 267.5 L615.1 267.7 L615.1 267.9 L615.2 268.1 L615.3 268.4 L615.3 268.6 L615.3 268.8 L615.3 269.1 L615.3 269.4 L615.3 269.6 L615.2 269.9 L615.1 270.2 L615.1 270.5 L615 270.7 L614.8 271 L614.7 271.3 L614.6 271.6 L614.4 271.8 L614.2 272.1 L614.1 272.4 L613.9 272.6 L613.7 272.9 L613.5 273.1 L613.2 273.3 L613 273.5 L612.8 273.7 L612.6 273.9 L612.3 274 L612.1 274.2 L611.8 274.3 L611.6 274.4 L611.4 274.5 L611.1 274.6 L610.9 274.6 L610.7 274.6 L610.4 274.7 L610.2 274.6 L610 274.6 L609.8 274.6 L609.6 274.5 L609.4 274.4 L609.3 274.3 L609.1 274.2 L609 274.1 L608.9 273.9 L608.7 273.7 L608.6 273.5 L608.6 273.3 L608.5 273.1 L608.5 272.9 L608.4 272.7 L608.4 272.4 L608.4 272.2 L608.4 271.9 L608.5 271.6 L608.5 271.4 L608.6 271.1 L608.7 270.8 L608.8 270.5 L608.9 270.2 L609 270 L609.2 269.7 L609.3 269.4 L609.5 269.2 L609.7 268.9 L609.8 268.6 L610 268.4 L610.3 268.2 L610.5 268 L610.7 267.8 L610.9 267.6 L611.2 267.4 L611.4 267.2 L611.6 267.1 L611.9 267 L612.1 266.9 L612.4 266.8 L612.6 266.7 L612.8 266.7 L613.1 266.6 L613.3 266.6 L613.5 266.6 L613.7 266.6 L613.9 266.7 L614.1 266.8 L614.3 266.8 Z" style="stroke-width:1.9"/>
<path class="m" d="M545 273 L545.2 273.2 L545.3 273.3 L545.4 273.5 L545.5 273.6 L545.6 273.8 L545.7 274 L545.8 274.2 L545.8 274.5 L545.9 274.7 L545.9 274.9 L545.9 275.2 L545.9 275.5 L545.8 275.7 L545.8 276 L545.7 276.3 L545.6 276.6 L545.5 276.8 L545.4 277.1 L545.3 277.4 L545.1 277.7 L545 277.9 L544.8 278.2 L544.6 278.5 L544.4 278.7 L544.2 278.9 L544 279.2 L543.8 279.4 L543.6 279.6 L543.4 279.8 L543.1 280 L542.9 280.1 L542.6 280.3 L542.4 280.4 L542.2 280.5 L541.9 280.6 L541.7 280.7 L541.4 280.7 L541.2 280.7 L541 280.7 L540.8 280.7 L540.6 280.7 L540.4 280.7 L540.2 280.6 L540 280.5 L539.8 280.4 L539.7 280.3 L539.5 280.2 L539.4 280 L539.3 279.8 L539.2 279.6 L539.1 279.4 L539.1 279.2 L539 279 L539 278.8 L539 278.5 L539 278.3 L539 278 L539 277.7 L539.1 277.5 L539.1 277.2 L539.2 276.9 L539.3 276.6 L539.4 276.3 L539.6 276.1 L539.7 275.8 L539.9 275.5 L540 275.2 L540.2 275 L540.4 274.7 L540.6 274.5 L540.8 274.3 L541 274.1 L541.3 273.9 L541.5 273.7 L541.7 273.5 L542 273.3 L542.2 273.2 L542.4 273.1 L542.7 273 L542.9 272.9 L543.2 272.8 L543.4 272.7 L543.6 272.7 L543.8 272.7 L544.1 272.7 L544.3 272.7 L544.5 272.8 L544.7 272.9 L544.8 272.9 Z" style="stroke-width:1.9"/>
<path class="m" d="M557 278.5 L557.1 278.6 L557.3 278.7 L557.4 278.9 L557.5 279.1 L557.6 279.3 L557.7 279.5 L557.7 279.7 L557.8 279.9 L557.8 280.1 L557.8 280.4 L557.8 280.6 L557.8 280.9 L557.8 281.2 L557.7 281.4 L557.7 281.7 L557.6 282 L557.5 282.3 L557.4 282.6 L557.2 282.8 L557.1 283.1 L556.9 283.4 L556.8 283.6 L556.6 283.9 L556.4 284.2 L556.2 284.4 L556 284.6 L555.8 284.8 L555.6 285 L555.3 285.2 L555.1 285.4 L554.9 285.6 L554.6 285.7 L554.4 285.8 L554.1 285.9 L553.9 286 L553.7 286.1 L553.4 286.1 L553.2 286.2 L553 286.2 L552.8 286.2 L552.5 286.2 L552.3 286.1 L552.2 286 L552 286 L551.8 285.9 L551.7 285.7 L551.5 285.6 L551.4 285.4 L551.3 285.3 L551.2 285.1 L551.1 284.9 L551 284.7 L551 284.4 L551 284.2 L550.9 284 L550.9 283.7 L551 283.4 L551 283.2 L551 282.9 L551.1 282.6 L551.2 282.3 L551.3 282.1 L551.4 281.8 L551.5 281.5 L551.7 281.2 L551.8 281 L552 280.7 L552.2 280.4 L552.4 280.2 L552.6 279.9 L552.8 279.7 L553 279.5 L553.2 279.3 L553.5 279.1 L553.7 278.9 L553.9 278.8 L554.2 278.6 L554.4 278.5 L554.7 278.4 L554.9 278.3 L555.1 278.2 L555.4 278.2 L555.6 278.2 L555.8 278.1 L556 278.2 L556.2 278.2 L556.4 278.2 L556.6 278.3 L556.8 278.4 Z" style="stroke-width:1.9"/>
<path class="m" d="M569.4 279.1 L569.5 279.3 L569.7 279.4 L569.8 279.5 L569.9 279.7 L570 279.9 L570.1 280.1 L570.2 280.3 L570.2 280.5 L570.2 280.8 L570.3 281 L570.3 281.3 L570.2 281.5 L570.2 281.8 L570.1 282.1 L570.1 282.4 L570 282.6 L569.9 282.9 L569.8 283.2 L569.7 283.5 L569.5 283.8 L569.4 284 L569.2 284.3 L569 284.6 L568.8 284.8 L568.6 285 L568.4 285.3 L568.2 285.5 L568 285.7 L567.7 285.9 L567.5 286.1 L567.3 286.2 L567 286.4 L566.8 286.5 L566.5 286.6 L566.3 286.7 L566.1 286.7 L565.8 286.8 L565.6 286.8 L565.4 286.8 L565.2 286.8 L565 286.8 L564.8 286.8 L564.6 286.7 L564.4 286.6 L564.2 286.5 L564.1 286.4 L563.9 286.2 L563.8 286.1 L563.7 285.9 L563.6 285.7 L563.5 285.5 L563.4 285.3 L563.4 285.1 L563.4 284.9 L563.3 284.6 L563.4 284.4 L563.4 284.1 L563.4 283.8 L563.5 283.6 L563.5 283.3 L563.6 283 L563.7 282.7 L563.8 282.4 L564 282.2 L564.1 281.9 L564.2 281.6 L564.4 281.3 L564.6 281.1 L564.8 280.8 L565 280.6 L565.2 280.4 L565.4 280.2 L565.6 280 L565.9 279.8 L566.1 279.6 L566.3 279.4 L566.6 279.3 L566.8 279.2 L567.1 279.1 L567.3 279 L567.5 278.9 L567.8 278.8 L568 278.8 L568.2 278.8 L568.4 278.8 L568.6 278.8 L568.8 278.9 L569 278.9 L569.2 279 Z" style="stroke-width:1.9"/>
<path class="m" d="M590.5 281.1 L590.6 281.2 L590.8 281.4 L590.9 281.5 L591 281.7 L591.1 281.9 L591.2 282.1 L591.3 282.3 L591.3 282.5 L591.4 282.7 L591.4 283 L591.4 283.2 L591.3 283.5 L591.3 283.8 L591.3 284.1 L591.2 284.3 L591.1 284.6 L591 284.9 L590.9 285.2 L590.8 285.4 L590.6 285.7 L590.5 286 L590.3 286.3 L590.1 286.5 L589.9 286.8 L589.7 287 L589.5 287.2 L589.3 287.4 L589.1 287.7 L588.8 287.8 L588.6 288 L588.4 288.2 L588.1 288.3 L587.9 288.4 L587.7 288.5 L587.4 288.6 L587.2 288.7 L586.9 288.8 L586.7 288.8 L586.5 288.8 L586.3 288.8 L586.1 288.8 L585.9 288.7 L585.7 288.7 L585.5 288.6 L585.3 288.5 L585.2 288.3 L585 288.2 L584.9 288.1 L584.8 287.9 L584.7 287.7 L584.6 287.5 L584.6 287.3 L584.5 287.1 L584.5 286.8 L584.5 286.6 L584.5 286.3 L584.5 286.1 L584.5 285.8 L584.6 285.5 L584.6 285.2 L584.7 285 L584.8 284.7 L584.9 284.4 L585.1 284.1 L585.2 283.8 L585.4 283.6 L585.5 283.3 L585.7 283 L585.9 282.8 L586.1 282.6 L586.3 282.3 L586.5 282.1 L586.8 281.9 L587 281.7 L587.2 281.5 L587.5 281.4 L587.7 281.2 L587.9 281.1 L588.2 281 L588.4 280.9 L588.7 280.9 L588.9 280.8 L589.1 280.8 L589.3 280.8 L589.6 280.8 L589.8 280.8 L590 280.8 L590.2 280.9 L590.3 281 Z" style="stroke-width:1.9"/>
<path class="m" d="M602.5 283.3 L602.6 283.4 L602.8 283.5 L602.9 283.7 L603 283.9 L603.1 284 L603.2 284.2 L603.2 284.5 L603.3 284.7 L603.3 284.9 L603.3 285.2 L603.3 285.4 L603.3 285.7 L603.3 286 L603.2 286.2 L603.2 286.5 L603.1 286.8 L603 287.1 L602.9 287.3 L602.7 287.6 L602.6 287.9 L602.4 288.2 L602.3 288.4 L602.1 288.7 L601.9 288.9 L601.7 289.2 L601.5 289.4 L601.3 289.6 L601 289.8 L600.8 290 L600.6 290.2 L600.3 290.3 L600.1 290.5 L599.9 290.6 L599.6 290.7 L599.4 290.8 L599.1 290.9 L598.9 290.9 L598.7 291 L598.5 291 L598.2 291 L598 290.9 L597.8 290.9 L597.7 290.8 L597.5 290.7 L597.3 290.6 L597.2 290.5 L597 290.4 L596.9 290.2 L596.8 290.1 L596.7 289.9 L596.6 289.7 L596.5 289.5 L596.5 289.2 L596.5 289 L596.4 288.7 L596.4 288.5 L596.5 288.2 L596.5 288 L596.5 287.7 L596.6 287.4 L596.7 287.1 L596.8 286.8 L596.9 286.6 L597 286.3 L597.2 286 L597.3 285.7 L597.5 285.5 L597.7 285.2 L597.9 285 L598.1 284.7 L598.3 284.5 L598.5 284.3 L598.7 284.1 L599 283.9 L599.2 283.7 L599.4 283.6 L599.7 283.4 L599.9 283.3 L600.2 283.2 L600.4 283.1 L600.6 283 L600.9 283 L601.1 282.9 L601.3 282.9 L601.5 282.9 L601.7 283 L601.9 283 L602.1 283.1 L602.3 283.2 Z" style="stroke-width:1.9"/>
<path class="m" d="M617.9 279.6 L618.1 279.7 L618.2 279.8 L618.3 280 L618.5 280.2 L618.6 280.3 L618.6 280.5 L618.7 280.8 L618.7 281 L618.8 281.2 L618.8 281.5 L618.8 281.7 L618.8 282 L618.7 282.3 L618.7 282.5 L618.6 282.8 L618.5 283.1 L618.4 283.4 L618.3 283.6 L618.2 283.9 L618 284.2 L617.9 284.5 L617.7 284.7 L617.5 285 L617.4 285.2 L617.2 285.5 L616.9 285.7 L616.7 285.9 L616.5 286.1 L616.3 286.3 L616 286.5 L615.8 286.6 L615.6 286.8 L615.3 286.9 L615.1 287 L614.8 287.1 L614.6 287.2 L614.4 287.2 L614.1 287.3 L613.9 287.3 L613.7 287.3 L613.5 287.2 L613.3 287.2 L613.1 287.1 L612.9 287 L612.8 286.9 L612.6 286.8 L612.5 286.7 L612.3 286.5 L612.2 286.4 L612.1 286.2 L612.1 286 L612 285.8 L611.9 285.5 L611.9 285.3 L611.9 285 L611.9 284.8 L611.9 284.5 L611.9 284.3 L612 284 L612.1 283.7 L612.1 283.4 L612.2 283.1 L612.4 282.9 L612.5 282.6 L612.6 282.3 L612.8 282 L613 281.8 L613.1 281.5 L613.3 281.3 L613.5 281 L613.7 280.8 L614 280.6 L614.2 280.4 L614.4 280.2 L614.6 280 L614.9 279.9 L615.1 279.7 L615.4 279.6 L615.6 279.5 L615.8 279.4 L616.1 279.3 L616.3 279.3 L616.5 279.2 L616.8 279.2 L617 279.2 L617.2 279.3 L617.4 279.3 L617.6 279.4 L617.8 279.5 Z" style="stroke-width:1.9"/>
<path class="m" d="M575.9 290 L576.1 290.1 L576.2 290.3 L576.3 290.4 L576.4 290.6 L576.5 290.8 L576.6 291 L576.7 291.2 L576.7 291.4 L576.8 291.7 L576.8 291.9 L576.8 292.2 L576.8 292.4 L576.7 292.7 L576.7 293 L576.6 293.3 L576.5 293.5 L576.4 293.8 L576.3 294.1 L576.2 294.4 L576 294.6 L575.9 294.9 L575.7 295.2 L575.5 295.4 L575.3 295.7 L575.1 295.9 L574.9 296.2 L574.7 296.4 L574.5 296.6 L574.3 296.8 L574 296.9 L573.8 297.1 L573.5 297.2 L573.3 297.4 L573.1 297.5 L572.8 297.6 L572.6 297.6 L572.4 297.7 L572.1 297.7 L571.9 297.7 L571.7 297.7 L571.5 297.7 L571.3 297.6 L571.1 297.6 L570.9 297.5 L570.7 297.4 L570.6 297.3 L570.5 297.1 L570.3 297 L570.2 296.8 L570.1 296.6 L570 296.4 L570 296.2 L569.9 296 L569.9 295.7 L569.9 295.5 L569.9 295.2 L569.9 295 L569.9 294.7 L570 294.4 L570.1 294.2 L570.1 293.9 L570.2 293.6 L570.4 293.3 L570.5 293 L570.6 292.8 L570.8 292.5 L570.9 292.2 L571.1 292 L571.3 291.7 L571.5 291.5 L571.7 291.3 L571.9 291 L572.2 290.8 L572.4 290.6 L572.6 290.5 L572.9 290.3 L573.1 290.2 L573.4 290 L573.6 289.9 L573.8 289.8 L574.1 289.8 L574.3 289.7 L574.5 289.7 L574.8 289.7 L575 289.7 L575.2 289.7 L575.4 289.8 L575.6 289.8 L575.7 289.9 Z" style="stroke-width:1.9"/>
<path class="m" d="M560.7 295.2 L560.8 295.4 L561 295.5 L561.1 295.7 L561.2 295.8 L561.3 296 L561.4 296.2 L561.4 296.4 L561.5 296.7 L561.5 296.9 L561.5 297.1 L561.5 297.4 L561.5 297.7 L561.5 297.9 L561.4 298.2 L561.4 298.5 L561.3 298.8 L561.2 299 L561.1 299.3 L560.9 299.6 L560.8 299.9 L560.6 300.1 L560.5 300.4 L560.3 300.7 L560.1 300.9 L559.9 301.2 L559.7 301.4 L559.5 301.6 L559.3 301.8 L559 302 L558.8 302.2 L558.6 302.3 L558.3 302.5 L558.1 302.6 L557.8 302.7 L557.6 302.8 L557.4 302.9 L557.1 302.9 L556.9 302.9 L556.7 302.9 L556.5 302.9 L556.2 302.9 L556 302.9 L555.9 302.8 L555.7 302.7 L555.5 302.6 L555.4 302.5 L555.2 302.4 L555.1 302.2 L555 302 L554.9 301.8 L554.8 301.6 L554.7 301.4 L554.7 301.2 L554.7 301 L554.6 300.7 L554.6 300.5 L554.7 300.2 L554.7 299.9 L554.7 299.7 L554.8 299.4 L554.9 299.1 L555 298.8 L555.1 298.5 L555.2 298.3 L555.4 298 L555.5 297.7 L555.7 297.5 L555.9 297.2 L556.1 296.9 L556.3 296.7 L556.5 296.5 L556.7 296.3 L556.9 296.1 L557.2 295.9 L557.4 295.7 L557.6 295.5 L557.9 295.4 L558.1 295.3 L558.4 295.2 L558.6 295.1 L558.8 295 L559.1 295 L559.3 294.9 L559.5 294.9 L559.7 294.9 L559.9 294.9 L560.1 295 L560.3 295.1 L560.5 295.1 Z" style="stroke-width:1.9"/>
<path class="m" d="M587.4 297 L587.6 297.1 L587.7 297.2 L587.9 297.4 L588 297.6 L588.1 297.8 L588.2 298 L588.2 298.2 L588.3 298.4 L588.3 298.6 L588.3 298.9 L588.3 299.1 L588.3 299.4 L588.3 299.7 L588.2 299.9 L588.1 300.2 L588.1 300.5 L588 300.8 L587.8 301.1 L587.7 301.3 L587.6 301.6 L587.4 301.9 L587.2 302.1 L587.1 302.4 L586.9 302.7 L586.7 302.9 L586.5 303.1 L586.3 303.3 L586 303.5 L585.8 303.7 L585.6 303.9 L585.3 304.1 L585.1 304.2 L584.8 304.3 L584.6 304.4 L584.4 304.5 L584.1 304.6 L583.9 304.6 L583.7 304.7 L583.4 304.7 L583.2 304.7 L583 304.7 L582.8 304.6 L582.6 304.5 L582.5 304.5 L582.3 304.4 L582.1 304.2 L582 304.1 L581.9 303.9 L581.8 303.8 L581.7 303.6 L581.6 303.4 L581.5 303.2 L581.5 302.9 L581.4 302.7 L581.4 302.5 L581.4 302.2 L581.4 301.9 L581.5 301.7 L581.5 301.4 L581.6 301.1 L581.7 300.8 L581.8 300.6 L581.9 300.3 L582 300 L582.2 299.7 L582.3 299.5 L582.5 299.2 L582.7 298.9 L582.9 298.7 L583.1 298.4 L583.3 298.2 L583.5 298 L583.7 297.8 L583.9 297.6 L584.2 297.4 L584.4 297.3 L584.6 297.1 L584.9 297 L585.1 296.9 L585.4 296.8 L585.6 296.7 L585.8 296.7 L586.1 296.7 L586.3 296.6 L586.5 296.7 L586.7 296.7 L586.9 296.7 L587.1 296.8 L587.3 296.9 Z" style="stroke-width:1.9"/>
<path class="w" d="M606 177.7 C608.5 177.7 611.8 178.6 613.6 179.9 C615.4 181.1 615.4 183.7 616.9 185.3 C618.3 186.9 619.9 188.4 622.3 189.2 C624.7 190 628.5 188.9 631 190.1 C633.6 191.3 636.3 193.4 637.5 196.2 C638.8 199 639.4 203.4 638.6 207.1 C637.9 210.7 635.9 214.7 633.2 218 C630.5 221.2 625.2 224.1 622.3 226.7 C619.4 229.2 617.4 229.9 615.8 233.2 C614.1 236.5 613.2 242.6 612.5 246.3 C611.8 249.9 613.1 251.7 611.4 255 C609.8 258.2 606 262.9 602.7 265.8 C599.5 268.7 594.7 271.6 591.8 272.4 C588.9 273.1 586.9 271.6 585.3 270.2 C583.7 268.7 583.9 265.8 582 263.7 C580.2 261.5 577 258 574.4 257.1 C571.9 256.2 569 259.3 566.8 258.2 C564.6 257.1 562.4 253.7 561.4 250.6 C560.3 247.5 559.7 243.3 560.3 239.7 C560.8 236.1 562.6 231.7 564.6 228.8 C566.6 225.9 569.5 224.5 572.2 222.3 C575 220.1 578.8 219 580.9 215.8 C583.1 212.5 583.9 207.1 585.3 202.7 C586.8 198.4 587.5 193.5 589.7 189.7 C591.8 185.8 595.6 181.9 598.4 179.9 C601.1 177.9 603.4 177.7 606 177.7 Z" style="stroke-width:2.3"/>
<path class="t" d="M629.3 189.4 C630.4 190.5 634.5 192.7 635.8 195.5 C637.1 198.4 637.6 202.8 636.9 206.4 C636.2 210 634.2 214 631.4 217.3 C628.7 220.6 623.5 223.5 620.6 226 C617.7 228.5 615.7 229.3 614 232.5 C612.4 235.8 611.5 242 610.8 245.6 C610 249.2 611.3 251 609.7 254.3 C608 257.6 604.2 262.3 601 265.2 C597.7 268.1 593 271 590.1 271.7 C587.2 272.4 584.6 269.9 583.6 269.5"/>
<path class="w" d="M629.1 174.5 L629.4 174.7 L629.7 174.9 L630 175.2 L630.2 175.5 L630.4 175.8 L630.6 176.2 L630.8 176.6 L630.9 177 L631 177.5 L631.1 177.9 L631.1 178.4 L631.2 178.9 L631.1 179.4 L631.1 180 L631 180.5 L630.9 181 L630.8 181.6 L630.6 182.2 L630.4 182.7 L630.2 183.3 L630 183.8 L629.7 184.3 L629.4 184.9 L629.1 185.4 L628.8 185.9 L628.4 186.4 L628 186.8 L627.7 187.2 L627.3 187.6 L626.8 188 L626.4 188.4 L626 188.7 L625.6 189 L625.1 189.2 L624.7 189.5 L624.3 189.6 L623.8 189.8 L623.4 189.9 L623 190 L622.6 190 L622.2 190 L621.8 189.9 L621.4 189.8 L621.1 189.7 L620.8 189.6 L620.4 189.4 L620.1 189.1 L619.9 188.9 L619.6 188.6 L619.4 188.2 L619.2 187.9 L619.1 187.5 L618.9 187.1 L618.8 186.6 L618.7 186.1 L618.7 185.7 L618.7 185.2 L618.7 184.6 L618.7 184.1 L618.8 183.6 L618.9 183 L619.1 182.5 L619.2 181.9 L619.4 181.4 L619.6 180.8 L619.9 180.3 L620.1 179.7 L620.4 179.2 L620.7 178.7 L621.1 178.2 L621.4 177.7 L621.8 177.3 L622.2 176.8 L622.6 176.4 L623 176.1 L623.4 175.7 L623.8 175.4 L624.3 175.1 L624.7 174.8 L625.1 174.6 L625.6 174.4 L626 174.3 L626.4 174.2 L626.8 174.1 L627.3 174.1 L627.6 174.1 L628 174.1 L628.4 174.2 L628.8 174.4 Z" style="stroke-width:2"/>
<path class="k" d="M627.7 178.5 L627.8 178.6 L627.9 178.7 L628.1 178.8 L628.2 179 L628.3 179.1 L628.4 179.3 L628.4 179.5 L628.5 179.7 L628.5 179.9 L628.6 180.2 L628.6 180.4 L628.6 180.7 L628.6 180.9 L628.5 181.2 L628.5 181.5 L628.4 181.7 L628.3 182 L628.3 182.3 L628.2 182.6 L628 182.9 L627.9 183.1 L627.8 183.4 L627.6 183.7 L627.5 183.9 L627.3 184.2 L627.1 184.4 L626.9 184.7 L626.7 184.9 L626.5 185.1 L626.3 185.3 L626.1 185.5 L625.9 185.7 L625.7 185.8 L625.5 185.9 L625.3 186.1 L625.1 186.2 L624.9 186.2 L624.7 186.3 L624.5 186.3 L624.3 186.4 L624.1 186.4 L623.9 186.4 L623.7 186.3 L623.5 186.3 L623.4 186.2 L623.2 186.1 L623.1 186 L623 185.8 L622.9 185.7 L622.8 185.5 L622.7 185.4 L622.6 185.2 L622.6 185 L622.5 184.7 L622.5 184.5 L622.5 184.3 L622.5 184 L622.5 183.8 L622.5 183.5 L622.6 183.2 L622.6 182.9 L622.7 182.7 L622.8 182.4 L622.9 182.1 L623 181.8 L623.1 181.5 L623.3 181.3 L623.4 181 L623.6 180.7 L623.7 180.5 L623.9 180.2 L624.1 180 L624.3 179.8 L624.5 179.6 L624.7 179.4 L624.9 179.2 L625.1 179 L625.3 178.9 L625.5 178.7 L625.7 178.6 L626 178.5 L626.2 178.4 L626.4 178.4 L626.6 178.3 L626.8 178.3 L627 178.3 L627.2 178.3 L627.3 178.4 L627.5 178.4 Z"/>
<path class="w" d="M580.3 202.8 L580.6 203 L580.9 203.2 L581.2 203.5 L581.4 203.8 L581.7 204.1 L581.9 204.5 L582 204.9 L582.2 205.3 L582.3 205.8 L582.3 206.2 L582.4 206.7 L582.4 207.2 L582.4 207.7 L582.3 208.3 L582.3 208.8 L582.2 209.3 L582 209.9 L581.9 210.5 L581.7 211 L581.4 211.6 L581.2 212.1 L580.9 212.6 L580.6 213.2 L580.3 213.7 L580 214.2 L579.6 214.6 L579.3 215.1 L578.9 215.5 L578.5 215.9 L578.1 216.3 L577.7 216.7 L577.2 217 L576.8 217.3 L576.4 217.5 L575.9 217.7 L575.5 217.9 L575.1 218.1 L574.7 218.2 L574.2 218.3 L573.8 218.3 L573.4 218.3 L573 218.2 L572.7 218.1 L572.3 218 L572 217.9 L571.7 217.7 L571.4 217.4 L571.1 217.2 L570.9 216.9 L570.7 216.5 L570.5 216.2 L570.3 215.8 L570.2 215.4 L570.1 214.9 L570 214.4 L569.9 214 L569.9 213.5 L569.9 212.9 L570 212.4 L570.1 211.9 L570.2 211.3 L570.3 210.8 L570.5 210.2 L570.7 209.7 L570.9 209.1 L571.1 208.6 L571.4 208 L571.7 207.5 L572 207 L572.3 206.5 L572.7 206 L573 205.6 L573.4 205.1 L573.8 204.7 L574.2 204.3 L574.6 204 L575.1 203.7 L575.5 203.4 L575.9 203.1 L576.4 202.9 L576.8 202.7 L577.2 202.6 L577.7 202.5 L578.1 202.4 L578.5 202.4 L578.9 202.4 L579.3 202.4 L579.6 202.5 L580 202.7 Z" style="stroke-width:2"/>
<path class="k" d="M578.9 206.8 L579 206.9 L579.2 207 L579.3 207.1 L579.4 207.3 L579.5 207.4 L579.6 207.6 L579.7 207.8 L579.7 208 L579.8 208.2 L579.8 208.5 L579.8 208.7 L579.8 209 L579.8 209.2 L579.8 209.5 L579.7 209.8 L579.7 210 L579.6 210.3 L579.5 210.6 L579.4 210.9 L579.3 211.2 L579.2 211.4 L579 211.7 L578.9 212 L578.7 212.2 L578.5 212.5 L578.4 212.7 L578.2 213 L578 213.2 L577.8 213.4 L577.6 213.6 L577.4 213.8 L577.2 214 L577 214.1 L576.7 214.2 L576.5 214.4 L576.3 214.5 L576.1 214.5 L575.9 214.6 L575.7 214.6 L575.5 214.7 L575.3 214.7 L575.1 214.7 L575 214.6 L574.8 214.6 L574.6 214.5 L574.5 214.4 L574.3 214.3 L574.2 214.1 L574.1 214 L574 213.8 L573.9 213.7 L573.9 213.5 L573.8 213.3 L573.7 213 L573.7 212.8 L573.7 212.6 L573.7 212.3 L573.7 212 L573.8 211.8 L573.8 211.5 L573.9 211.2 L573.9 211 L574 210.7 L574.1 210.4 L574.2 210.1 L574.4 209.8 L574.5 209.6 L574.6 209.3 L574.8 209 L575 208.8 L575.2 208.5 L575.3 208.3 L575.5 208.1 L575.7 207.9 L575.9 207.7 L576.1 207.5 L576.4 207.3 L576.6 207.2 L576.8 207 L577 206.9 L577.2 206.8 L577.4 206.7 L577.6 206.7 L577.8 206.6 L578 206.6 L578.2 206.6 L578.4 206.6 L578.6 206.7 L578.7 206.7 Z"/>
<path class="w" d="M629.1 231.1 L629.4 231.3 L629.7 231.5 L630 231.8 L630.2 232.1 L630.4 232.4 L630.6 232.8 L630.8 233.2 L630.9 233.6 L631 234.1 L631.1 234.5 L631.1 235 L631.2 235.5 L631.1 236 L631.1 236.6 L631 237.1 L630.9 237.6 L630.8 238.2 L630.6 238.8 L630.4 239.3 L630.2 239.9 L630 240.4 L629.7 240.9 L629.4 241.5 L629.1 242 L628.8 242.5 L628.4 242.9 L628 243.4 L627.7 243.8 L627.3 244.2 L626.8 244.6 L626.4 245 L626 245.3 L625.6 245.6 L625.1 245.8 L624.7 246 L624.3 246.2 L623.8 246.4 L623.4 246.5 L623 246.5 L622.6 246.6 L622.2 246.6 L621.8 246.5 L621.4 246.4 L621.1 246.3 L620.8 246.2 L620.4 246 L620.1 245.7 L619.9 245.5 L619.6 245.2 L619.4 244.8 L619.2 244.5 L619.1 244.1 L618.9 243.7 L618.8 243.2 L618.7 242.7 L618.7 242.3 L618.7 241.8 L618.7 241.2 L618.7 240.7 L618.8 240.2 L618.9 239.6 L619.1 239.1 L619.2 238.5 L619.4 238 L619.6 237.4 L619.9 236.9 L620.1 236.3 L620.4 235.8 L620.7 235.3 L621.1 234.8 L621.4 234.3 L621.8 233.9 L622.2 233.4 L622.6 233 L623 232.6 L623.4 232.3 L623.8 232 L624.3 231.7 L624.7 231.4 L625.1 231.2 L625.6 231 L626 230.9 L626.4 230.8 L626.8 230.7 L627.3 230.7 L627.6 230.7 L628 230.7 L628.4 230.8 L628.8 231 Z" style="stroke-width:2"/>
<path class="k" d="M627.7 235.1 L627.8 235.2 L627.9 235.3 L628.1 235.4 L628.2 235.6 L628.3 235.7 L628.4 235.9 L628.4 236.1 L628.5 236.3 L628.5 236.5 L628.6 236.8 L628.6 237 L628.6 237.3 L628.6 237.5 L628.5 237.8 L628.5 238.1 L628.4 238.3 L628.3 238.6 L628.3 238.9 L628.2 239.2 L628 239.5 L627.9 239.7 L627.8 240 L627.6 240.3 L627.5 240.5 L627.3 240.8 L627.1 241 L626.9 241.3 L626.7 241.5 L626.5 241.7 L626.3 241.9 L626.1 242.1 L625.9 242.3 L625.7 242.4 L625.5 242.5 L625.3 242.7 L625.1 242.8 L624.9 242.8 L624.7 242.9 L624.5 242.9 L624.3 243 L624.1 243 L623.9 242.9 L623.7 242.9 L623.5 242.9 L623.4 242.8 L623.2 242.7 L623.1 242.6 L623 242.4 L622.9 242.3 L622.8 242.1 L622.7 242 L622.6 241.8 L622.6 241.6 L622.5 241.3 L622.5 241.1 L622.5 240.9 L622.5 240.6 L622.5 240.3 L622.5 240.1 L622.6 239.8 L622.6 239.5 L622.7 239.3 L622.8 239 L622.9 238.7 L623 238.4 L623.1 238.1 L623.3 237.9 L623.4 237.6 L623.6 237.3 L623.7 237.1 L623.9 236.8 L624.1 236.6 L624.3 236.4 L624.5 236.2 L624.7 236 L624.9 235.8 L625.1 235.6 L625.3 235.5 L625.5 235.3 L625.7 235.2 L626 235.1 L626.2 235 L626.4 235 L626.6 234.9 L626.8 234.9 L627 234.9 L627.2 234.9 L627.3 235 L627.5 235 Z"/>
<path class="w" d="M579.7 262.7 L580 262.9 L580.3 263.1 L580.5 263.4 L580.8 263.7 L581 264 L581.2 264.4 L581.4 264.8 L581.5 265.2 L581.6 265.6 L581.7 266.1 L581.7 266.6 L581.7 267.1 L581.7 267.6 L581.7 268.1 L581.6 268.7 L581.5 269.2 L581.4 269.8 L581.2 270.3 L581 270.9 L580.8 271.4 L580.6 272 L580.3 272.5 L580 273 L579.7 273.5 L579.3 274 L579 274.5 L578.6 275 L578.2 275.4 L577.8 275.8 L577.4 276.2 L577 276.5 L576.6 276.9 L576.2 277.1 L575.7 277.4 L575.3 277.6 L574.9 277.8 L574.4 277.9 L574 278 L573.6 278.1 L573.2 278.1 L572.8 278.1 L572.4 278.1 L572 278 L571.7 277.9 L571.3 277.7 L571 277.5 L570.7 277.3 L570.5 277 L570.2 276.7 L570 276.4 L569.8 276 L569.6 275.6 L569.5 275.2 L569.4 274.8 L569.3 274.3 L569.3 273.8 L569.3 273.3 L569.3 272.8 L569.3 272.3 L569.4 271.7 L569.5 271.2 L569.6 270.6 L569.8 270.1 L570 269.5 L570.2 269 L570.5 268.4 L570.7 267.9 L571 267.4 L571.3 266.9 L571.7 266.4 L572 265.9 L572.4 265.4 L572.8 265 L573.2 264.6 L573.6 264.2 L574 263.9 L574.4 263.5 L574.9 263.3 L575.3 263 L575.7 262.8 L576.2 262.6 L576.6 262.5 L577 262.3 L577.4 262.3 L577.8 262.2 L578.2 262.3 L578.6 262.3 L579 262.4 L579.3 262.5 Z" style="stroke-width:2"/>
<path class="k" d="M578.2 266.6 L578.4 266.7 L578.5 266.9 L578.6 267 L578.8 267.1 L578.9 267.3 L578.9 267.5 L579 267.7 L579.1 267.9 L579.1 268.1 L579.1 268.3 L579.2 268.6 L579.2 268.8 L579.1 269.1 L579.1 269.3 L579.1 269.6 L579 269.9 L578.9 270.2 L578.8 270.5 L578.7 270.7 L578.6 271 L578.5 271.3 L578.4 271.6 L578.2 271.8 L578.1 272.1 L577.9 272.4 L577.7 272.6 L577.5 272.8 L577.3 273.1 L577.1 273.3 L576.9 273.5 L576.7 273.7 L576.5 273.8 L576.3 274 L576.1 274.1 L575.9 274.2 L575.7 274.3 L575.5 274.4 L575.3 274.5 L575 274.5 L574.9 274.5 L574.7 274.5 L574.5 274.5 L574.3 274.5 L574.1 274.4 L574 274.3 L573.8 274.3 L573.7 274.1 L573.6 274 L573.5 273.9 L573.4 273.7 L573.3 273.5 L573.2 273.3 L573.1 273.1 L573.1 272.9 L573.1 272.7 L573.1 272.4 L573.1 272.2 L573.1 271.9 L573.1 271.6 L573.1 271.4 L573.2 271.1 L573.3 270.8 L573.4 270.5 L573.5 270.3 L573.6 270 L573.7 269.7 L573.8 269.4 L574 269.2 L574.2 268.9 L574.3 268.6 L574.5 268.4 L574.7 268.2 L574.9 267.9 L575.1 267.7 L575.3 267.5 L575.5 267.3 L575.7 267.2 L575.9 267 L576.1 266.9 L576.3 266.8 L576.5 266.7 L576.8 266.6 L577 266.5 L577.2 266.5 L577.4 266.5 L577.6 266.5 L577.7 266.5 L577.9 266.5 L578.1 266.6 Z"/>
</g>
<g id="bolt8">
<path class="w" style="stroke-width:2.4" d="M470.6 167.2 L470.6 165.3 L470.8 163.3 L471.2 161.1 L471.9 158.9 L472.6 156.8 L473.5 154.6 L474.6 152.5 L475.8 150.5 L477.1 148.6 L478.4 146.9 L479.9 145.4 L481.3 144.2 L482.8 143.1 L484.2 142.4 L485.6 141.9 L486.9 141.7 L488.2 141.7 L489.3 142.1 L493.4 144 L494.4 144.6 L495.2 145.5 L495.9 146.7 L496.4 148.1 L496.8 149.7 L496.9 151.5 L496.9 153.4 L496.6 155.4 L496.2 157.6 L495.6 159.8 L494.9 161.9 L493.9 164.1 L492.9 166.2 L491.7 168.2 L490.4 170.1 L489 171.8 L487.6 173.2 L486.2 174.5 L484.7 175.6 L483.3 176.3 L481.9 176.8 L480.5 177 L479.3 177 L478.2 176.6 L474.1 174.7 L473.1 174.1 L472.2 173.2 L471.6 172 L471 170.6 L470.7 169 Z"/>
<path class="w" style="stroke-width:2.4" d="M474.6 169.2 L474.7 167.2 L474.9 165.2 L475.3 163 L475.9 160.8 L476.7 158.7 L477.6 156.5 L478.7 154.4 L479.9 152.4 L481.1 150.5 L482.5 148.8 L483.9 147.3 L485.4 146.1 L486.9 145 L488.3 144.3 L489.7 143.8 L491 143.6 L492.3 143.6 L493.4 144 L494.4 144.6 L495.2 145.5 L495.9 146.7 L496.4 148.1 L496.8 149.7 L496.9 151.5 L496.9 153.4 L496.6 155.4 L496.2 157.6 L495.6 159.8 L494.9 161.9 L493.9 164.1 L492.9 166.2 L491.7 168.2 L490.4 170.1 L489 171.8 L487.6 173.2 L486.2 174.5 L484.7 175.6 L483.3 176.3 L481.9 176.8 L480.5 177 L479.3 177 L478.2 176.6 L477.2 176 L476.3 175.1 L475.6 173.9 L475.1 172.5 L474.8 170.9 Z"/>
<path class="w" style="stroke-width:2.4" d="M477.9 166.6 L477.9 165.2 L478.1 163.8 L478.4 162.2 L478.8 160.7 L479.3 159.1 L480 157.6 L480.7 156.1 L481.6 154.7 L482.5 153.4 L483.5 152.2 L484.5 151.1 L485.5 150.2 L486.5 149.4 L487.6 148.9 L488.6 148.6 L489.5 148.4 L490.4 148.4 L491.2 148.7 L491.9 149.2 L492.5 149.8 L493 150.6 L493.8 152 L494.1 152.9 L494.4 154 L494.4 155.1 L494.4 156.4 L494.3 157.8 L494 159.2 L493.6 160.6 L493.1 162 L492.5 163.4 L491.8 164.8 L491 166.1 L490.2 167.3 L489.3 168.4 L488.3 169.4 L487.4 170.3 L486.4 170.9 L485.5 171.4 L484.6 171.8 L483 172.1 L482.1 172.2 L481.2 172.2 L480.4 171.9 L479.7 171.4 L479.1 170.8 L478.6 170 L478.2 169 L478 167.9 Z"/>
<path class="w" style="stroke-width:2.4" d="M479.8 166.7 L479.9 165.5 L480 164.1 L480.3 162.7 L480.7 161.3 L481.2 159.9 L481.8 158.4 L482.5 157.1 L483.3 155.8 L484.1 154.5 L485 153.4 L485.9 152.4 L486.9 151.6 L487.8 150.9 L488.8 150.4 L489.7 150.1 L490.6 150 L491.4 150 L492.1 150.2 L499.4 153.6 L500 154 L500.6 154.6 L501 155.4 L501.4 156.3 L501.6 157.3 L501.7 158.5 L501.7 159.8 L501.5 161.1 L501.2 162.5 L500.8 164 L500.3 165.4 L499.7 166.8 L499 168.2 L498.3 169.5 L497.4 170.7 L496.5 171.8 L495.6 172.8 L494.6 173.6 L493.7 174.3 L492.7 174.8 L491.8 175.2 L491 175.3 L490.1 175.2 L489.4 175 L482.1 171.6 L481.5 171.2 L480.9 170.6 L480.5 169.9 L480.1 168.9 L479.9 167.9 Z"/>
<path class="w" style="stroke-width:2.4" d="M487.1 170.1 L487.1 168.8 L487.3 167.5 L487.5 166.1 L487.9 164.7 L488.4 163.2 L489 161.8 L489.7 160.4 L490.5 159.1 L491.4 157.9 L492.2 156.8 L493.2 155.8 L494.1 155 L495.1 154.3 L496 153.8 L496.9 153.5 L497.8 153.3 L498.6 153.4 L499.4 153.6 L500 154 L500.6 154.6 L501 155.4 L501.4 156.3 L501.6 157.3 L501.7 158.5 L501.7 159.8 L501.5 161.1 L501.2 162.5 L500.8 164 L500.3 165.4 L499.7 166.8 L499 168.2 L498.3 169.5 L497.4 170.7 L496.5 171.8 L495.6 172.8 L494.6 173.6 L493.7 174.3 L492.7 174.8 L491.8 175.2 L491 175.3 L490.1 175.2 L489.4 175 L488.8 174.6 L488.2 174 L487.7 173.2 L487.4 172.3 L487.2 171.3 Z"/>
<path class="w" style="stroke-width:2.4" d="M490.8 168.9 L490.8 168 L490.9 167.1 L491.1 166.2 L491.4 165.2 L491.7 164.2 L492.1 163.3 L492.6 162.3 L493.1 161.4 L493.7 160.6 L494.3 159.9 L494.9 159.2 L495.6 158.6 L496.2 158.2 L496.9 157.8 L497.5 157.6 L498.1 157.5 L498.6 157.5 L499.1 157.7 L499.6 158 L499.9 158.4 L500.9 159.7 L501.2 160.1 L501.4 160.7 L501.5 161.3 L501.6 162.1 L501.6 162.8 L501.4 163.6 L501.3 164.5 L501.1 165.4 L500.7 166.2 L500.4 167.1 L499.9 167.9 L499.5 168.7 L499 169.5 L498.4 170.2 L497.8 170.8 L497.3 171.3 L496.7 171.7 L496.1 172 L495.5 172.2 L495 172.3 L493.4 172.4 L492.9 172.4 L492.4 172.2 L491.9 171.9 L491.5 171.5 L491.2 171 L491 170.4 L490.9 169.7 Z"/>
<path class="w" style="stroke-width:2.4" d="M492.6 169.1 L492.7 168.3 L492.8 167.5 L492.9 166.7 L493.2 165.8 L493.5 164.9 L493.8 164.1 L494.3 163.2 L494.7 162.4 L495.3 161.7 L495.8 161 L496.4 160.4 L496.9 159.9 L497.5 159.5 L498.1 159.2 L498.7 159 L499.2 158.9 L499.7 158.9 L500.1 159.1 L502.9 160.3 L503.3 160.6 L503.6 160.9 L503.9 161.4 L504.1 162 L504.2 162.6 L504.3 163.3 L504.3 164.1 L504.2 164.9 L504 165.8 L503.8 166.6 L503.5 167.5 L503.1 168.4 L502.7 169.2 L502.2 170 L501.7 170.8 L501.1 171.4 L500.6 172 L500 172.5 L499.4 173 L498.8 173.3 L498.3 173.5 L497.7 173.6 L497.2 173.5 L496.8 173.4 L494.1 172.1 L493.7 171.9 L493.3 171.5 L493.1 171 L492.8 170.5 L492.7 169.8 Z"/>
<path class="w" style="stroke-width:2.4" d="M495.4 170.4 L495.4 169.6 L495.5 168.8 L495.6 167.9 L495.9 167.1 L496.2 166.2 L496.6 165.3 L497 164.5 L497.5 163.7 L498 162.9 L498.5 162.3 L499.1 161.7 L499.7 161.2 L500.2 160.8 L500.8 160.4 L501.4 160.2 L501.9 160.2 L502.4 160.2 L502.9 160.3 L505.6 161.6 L506 161.8 L506.3 162.2 L506.6 162.7 L506.8 163.2 L506.9 163.9 L507 164.6 L507 165.3 L506.9 166.2 L506.7 167 L506.5 167.9 L506.2 168.8 L505.8 169.6 L505.4 170.5 L504.9 171.3 L504.4 172 L503.9 172.7 L503.3 173.3 L502.7 173.8 L502.1 174.2 L501.5 174.5 L501 174.7 L500.4 174.8 L499.9 174.8 L499.5 174.7 L496.8 173.4 L496.4 173.1 L496 172.8 L495.8 172.3 L495.6 171.7 L495.4 171.1 Z"/>
<path class="w" style="stroke-width:2.4" d="M498.1 171.7 L498.1 170.9 L498.2 170.1 L498.4 169.2 L498.6 168.3 L498.9 167.5 L499.3 166.6 L499.7 165.8 L500.2 165 L500.7 164.2 L501.2 163.5 L501.8 162.9 L502.4 162.4 L503 162 L503.6 161.7 L504.1 161.5 L504.6 161.4 L505.1 161.4 L505.6 161.6 L508.3 162.9 L508.7 163.1 L509.1 163.5 L509.3 163.9 L509.5 164.5 L509.7 165.1 L509.7 165.8 L509.7 166.6 L509.6 167.4 L509.4 168.3 L509.2 169.2 L508.9 170 L508.5 170.9 L508.1 171.8 L507.6 172.6 L507.1 173.3 L506.6 174 L506 174.6 L505.4 175.1 L504.8 175.5 L504.3 175.8 L503.7 176 L503.2 176.1 L502.7 176.1 L502.2 175.9 L499.5 174.7 L499.1 174.4 L498.8 174 L498.5 173.6 L498.3 173 L498.1 172.4 Z"/>
<path class="w" style="stroke-width:2.4" d="M500.8 172.9 L500.8 172.2 L500.9 171.3 L501.1 170.5 L501.3 169.6 L501.6 168.7 L502 167.9 L502.4 167 L502.9 166.2 L503.4 165.5 L504 164.8 L504.5 164.2 L505.1 163.7 L505.7 163.3 L506.3 163 L506.8 162.8 L507.4 162.7 L507.9 162.7 L508.3 162.9 L511 164.1 L511.4 164.4 L511.8 164.8 L512 165.2 L512.2 165.8 L512.4 166.4 L512.4 167.1 L512.4 167.9 L512.3 168.7 L512.2 169.6 L511.9 170.4 L511.6 171.3 L511.2 172.2 L510.8 173 L510.4 173.8 L509.8 174.6 L509.3 175.2 L508.7 175.8 L508.1 176.3 L507.6 176.8 L507 177.1 L506.4 177.3 L505.9 177.3 L505.4 177.3 L504.9 177.2 L502.2 175.9 L501.8 175.7 L501.5 175.3 L501.2 174.8 L501 174.3 L500.9 173.6 Z"/>
<path class="w" style="stroke-width:2.4" d="M503.5 174.2 L503.5 173.4 L503.6 172.6 L503.8 171.8 L504 170.9 L504.4 170 L504.7 169.1 L505.1 168.3 L505.6 167.5 L506.1 166.8 L506.7 166.1 L507.2 165.5 L507.8 165 L508.4 164.6 L509 164.2 L509.6 164.1 L510.1 164 L510.6 164 L511 164.1 L513.7 165.4 L514.1 165.7 L514.5 166 L514.8 166.5 L515 167 L515.1 167.7 L515.2 168.4 L515.1 169.2 L515 170 L514.9 170.8 L514.6 171.7 L514.3 172.6 L514 173.4 L513.5 174.3 L513.1 175.1 L512.5 175.8 L512 176.5 L511.4 177.1 L510.9 177.6 L510.3 178 L509.7 178.3 L509.1 178.5 L508.6 178.6 L508.1 178.6 L507.7 178.4 L504.9 177.2 L504.5 176.9 L504.2 176.6 L503.9 176.1 L503.7 175.6 L503.6 174.9 Z"/>
<path class="w" style="stroke-width:2.4" d="M506.2 175.5 L506.3 174.7 L506.4 173.9 L506.5 173 L506.8 172.1 L507.1 171.3 L507.4 170.4 L507.9 169.6 L508.3 168.8 L508.9 168 L509.4 167.3 L510 166.7 L510.6 166.2 L511.1 165.8 L511.7 165.5 L512.3 165.3 L512.8 165.2 L513.3 165.3 L513.7 165.4 L516.5 166.7 L516.9 166.9 L517.2 167.3 L517.5 167.8 L517.7 168.3 L517.8 168.9 L517.9 169.7 L517.9 170.4 L517.8 171.2 L517.6 172.1 L517.4 173 L517 173.8 L516.7 174.7 L516.3 175.6 L515.8 176.3 L515.3 177.1 L514.7 177.8 L514.2 178.4 L513.6 178.9 L513 179.3 L512.4 179.6 L511.9 179.8 L511.3 179.9 L510.8 179.9 L510.4 179.7 L507.7 178.4 L507.3 178.2 L506.9 177.8 L506.6 177.4 L506.4 176.8 L506.3 176.2 Z"/>
<path class="w" style="stroke-width:2.4" d="M509 176.7 L509 176 L509.1 175.1 L509.2 174.3 L509.5 173.4 L509.8 172.5 L510.2 171.7 L510.6 170.8 L511.1 170 L511.6 169.3 L512.1 168.6 L512.7 168 L513.3 167.5 L513.9 167.1 L514.4 166.8 L515 166.6 L515.5 166.5 L516 166.5 L516.5 166.7 L516.9 166.9 L518.4 168.3 L518.7 168.6 L519 169 L519.1 169.6 L519.3 170.1 L519.3 170.8 L519.3 171.5 L519.2 172.2 L519.1 173 L518.8 173.8 L518.6 174.6 L518.2 175.4 L517.8 176.2 L517.4 176.9 L516.9 177.6 L516.4 178.2 L515.9 178.8 L515.4 179.2 L514.8 179.6 L514.3 179.9 L513.8 180.1 L513.3 180.2 L512.9 180.2 L510.8 179.9 L510.4 179.7 L510 179.5 L509.6 179.1 L509.4 178.6 L509.1 178.1 L509 177.4 Z"/>
<path class="w" style="stroke-width:2.4" d="M511.1 177.3 L511.2 176.6 L511.2 175.8 L511.4 175 L511.6 174.2 L511.9 173.4 L512.2 172.6 L512.6 171.9 L513.1 171.1 L513.5 170.5 L514 169.8 L514.6 169.3 L515.1 168.8 L515.6 168.4 L516.1 168.2 L516.7 168 L517.1 167.9 L517.6 167.9 L518 168.1 L518.4 168.3 L518.7 168.6 L519 169 L519.4 170.1 L519.6 170.5 L519.7 171 L519.7 171.6 L519.7 172.2 L519.6 172.9 L519.5 173.6 L519.3 174.3 L519.1 175 L518.8 175.7 L518.4 176.4 L518 177 L517.6 177.6 L517.2 178.2 L516.7 178.6 L516.3 179 L515.8 179.4 L515.3 179.6 L514.9 179.8 L513.8 180.1 L513.3 180.2 L512.9 180.2 L512.4 180 L512.1 179.8 L511.8 179.4 L511.5 179 L511.3 178.5 L511.2 177.9 Z"/>
<path class="w" style="stroke-width:2.4" d="M518.6 169.2 L518.9 169.4 L519.2 169.7 L519.4 170.1 L519.6 170.5 L519.7 171 L519.7 171.6 L519.7 172.2 L519.6 172.9 L519.5 173.6 L519.3 174.3 L519.1 175 L518.8 175.7 L518.4 176.4 L518 177 L517.6 177.6 L517.2 178.1 L516.7 178.6 L516.3 179 L515.8 179.4 L515.3 179.6 L514.9 179.8 L514.5 179.9 L514.1 179.8 L513.7 179.7 L513.4 179.5 L513.1 179.2 L512.9 178.8 L512.7 178.4 L512.6 177.9 L512.5 177.3 L512.6 176.7 L512.6 176 L512.8 175.3 L513 174.6 L513.2 173.9 L513.5 173.2 L513.9 172.6 L514.2 171.9 L514.6 171.3 L515.1 170.8 L515.5 170.3 L516 169.9 L516.5 169.5 L516.9 169.3 L517.4 169.1 L517.8 169.1 L518.2 169.1 Z"/>
</g>
<g id="bolt7">
<path class="w" style="stroke-width:2.5" d="M696.1 234.5 L696.3 232.9 L696.6 231.3 L697.1 229.5 L697.7 227.8 L698.5 226 L699.3 224.3 L700.3 222.7 L701.4 221.1 L702.6 219.6 L703.8 218.3 L705 217.2 L706.3 216.2 L707.5 215.4 L708.8 214.9 L710 214.6 L711.1 214.5 L712.1 214.6 L713 215 L716.5 216.9 L717.3 217.5 L717.9 218.3 L718.4 219.2 L718.8 220.4 L718.9 221.8 L719 223.2 L718.8 224.8 L718.5 226.5 L718 228.2 L717.4 229.9 L716.6 231.7 L715.8 233.4 L714.8 235.1 L713.7 236.7 L712.5 238.1 L711.3 239.4 L710.1 240.6 L708.8 241.5 L707.5 242.3 L706.3 242.8 L705.1 243.2 L704 243.3 L703 243.1 L702.1 242.8 L698.6 240.8 L697.8 240.3 L697.2 239.5 L696.7 238.5 L696.4 237.3 L696.2 236 Z"/>
<path class="w" style="stroke-width:2.5" d="M699.6 236.5 L699.8 234.9 L700.1 233.2 L700.6 231.5 L701.2 229.7 L702 228 L702.8 226.2 L703.8 224.6 L704.9 223 L706.1 221.6 L707.3 220.3 L708.5 219.1 L709.8 218.2 L711 217.4 L712.3 216.8 L713.5 216.5 L714.5 216.4 L715.6 216.5 L716.5 216.9 L717.3 217.5 L717.9 218.3 L718.4 219.2 L718.8 220.4 L718.9 221.8 L719 223.2 L718.8 224.8 L718.5 226.5 L718 228.2 L717.4 229.9 L716.6 231.7 L715.8 233.4 L714.8 235.1 L713.7 236.7 L712.5 238.1 L711.3 239.4 L710.1 240.6 L708.8 241.5 L707.5 242.3 L706.3 242.8 L705.1 243.2 L704 243.3 L703 243.1 L702.1 242.8 L701.3 242.2 L700.7 241.4 L700.2 240.4 L699.9 239.3 L699.7 237.9 Z"/>
<path class="w" style="stroke-width:2.5" d="M702.5 234.5 L702.6 233.4 L702.8 232.2 L703.1 231 L703.5 229.8 L704.1 228.5 L704.7 227.3 L705.4 226.1 L706.2 225 L707 224 L707.9 223 L708.8 222.2 L709.6 221.6 L710.5 221 L711.4 220.6 L712.2 220.4 L713 220.3 L713.8 220.4 L714.4 220.7 L714.9 221.1 L715.4 221.6 L715.8 222.3 L716 223.2 L716.1 224.1 L716.2 225.2 L716.2 226.2 L716.1 227.2 L716 228.2 L715.7 229.3 L715.3 230.4 L714.8 231.5 L714.2 232.6 L713.6 233.6 L712.9 234.6 L712.2 235.5 L711.4 236.3 L710.6 237.1 L709.9 237.7 L709.1 238.2 L708.1 238.7 L707.2 239.1 L706.4 239.3 L705.6 239.4 L704.9 239.3 L704.2 239 L703.6 238.6 L703.2 238.1 L702.8 237.3 L702.6 236.5 L702.5 235.6 Z"/>
<path class="w" style="stroke-width:2.5" d="M704.1 234.5 L704.2 233.5 L704.4 232.4 L704.7 231.3 L705.1 230.2 L705.5 229.2 L706.1 228.1 L706.7 227 L707.4 226 L708.1 225.1 L708.9 224.3 L709.7 223.6 L710.5 223 L711.3 222.5 L712 222.2 L712.8 221.9 L713.5 221.9 L714.1 222 L714.7 222.2 L719.9 225.1 L720.4 225.5 L720.8 226 L721.1 226.6 L721.4 227.3 L721.5 228.2 L721.5 229.1 L721.4 230.1 L721.2 231.1 L720.9 232.2 L720.5 233.3 L720 234.4 L719.5 235.5 L718.9 236.5 L718.2 237.5 L717.5 238.4 L716.7 239.2 L715.9 240 L715.1 240.6 L714.3 241.1 L713.5 241.4 L712.8 241.6 L712.1 241.7 L711.5 241.6 L710.9 241.4 L705.7 238.5 L705.2 238.1 L704.8 237.6 L704.5 237 L704.2 236.2 L704.1 235.4 Z"/>
<path class="w" style="stroke-width:2.5" d="M709.4 237.4 L709.5 236.4 L709.6 235.3 L709.9 234.3 L710.3 233.2 L710.8 232.1 L711.4 231 L712 229.9 L712.7 228.9 L713.4 228 L714.1 227.2 L714.9 226.5 L715.7 225.9 L716.5 225.4 L717.3 225.1 L718 224.9 L718.7 224.8 L719.4 224.9 L719.9 225.1 L720.4 225.5 L720.8 226 L721.1 226.6 L721.4 227.3 L721.5 228.2 L721.5 229.9 L721.6 230.7 L721.5 231.4 L721.3 232.3 L721.1 233.1 L720.8 234 L720.4 234.9 L720 235.8 L719.5 236.6 L718.9 237.4 L718.4 238.1 L717.7 238.8 L717.1 239.3 L716.5 239.8 L715.9 240.2 L714.3 241.1 L713.5 241.4 L712.8 241.6 L712.1 241.7 L711.5 241.6 L710.9 241.4 L710.4 241 L710 240.5 L709.7 239.9 L709.5 239.2 L709.4 238.3 Z"/>
<path class="w" style="stroke-width:2.5" d="M711.9 237.3 L712 236.5 L712.1 235.6 L712.4 234.8 L712.7 233.9 L713.1 233 L713.5 232.2 L714 231.3 L714.5 230.6 L715.1 229.8 L715.7 229.2 L716.4 228.6 L717 228.1 L717.6 227.7 L718.2 227.5 L718.8 227.3 L719.4 227.2 L719.9 227.3 L720.3 227.5 L724.7 229.9 L725.1 230.2 L725.4 230.6 L725.7 231.1 L725.8 231.7 L725.9 232.3 L725.9 233.1 L725.9 233.9 L725.7 234.7 L725.5 235.6 L725.2 236.4 L724.8 237.3 L724.3 238.2 L723.9 239 L723.3 239.8 L722.7 240.5 L722.1 241.2 L721.5 241.8 L720.9 242.2 L720.2 242.6 L719.6 242.9 L719 243.1 L718.5 243.1 L718 243 L717.5 242.9 L713.1 240.4 L712.8 240.1 L712.4 239.8 L712.2 239.2 L712 238.7 L711.9 238 Z"/>
<path class="w" style="stroke-width:2.5" d="M716.3 239.7 L716.4 238.9 L716.5 238.1 L716.7 237.2 L717 236.3 L717.4 235.4 L717.9 234.6 L718.4 233.8 L718.9 233 L719.5 232.2 L720.1 231.6 L720.7 231 L721.4 230.5 L722 230.2 L722.6 229.9 L723.2 229.7 L723.7 229.7 L724.2 229.7 L724.7 229.9 L729.1 232.3 L729.5 232.6 L729.8 233 L730 233.5 L730.2 234.1 L730.3 234.8 L730.3 235.5 L730.2 236.3 L730.1 237.1 L729.8 238 L729.5 238.9 L729.2 239.7 L728.7 240.6 L728.2 241.4 L727.7 242.2 L727.1 242.9 L726.5 243.6 L725.9 244.2 L725.2 244.7 L724.6 245 L724 245.3 L723.4 245.5 L722.9 245.5 L722.3 245.5 L721.9 245.3 L717.5 242.9 L717.1 242.6 L716.8 242.2 L716.5 241.7 L716.4 241.1 L716.3 240.4 Z"/>
<path class="w" style="stroke-width:2.5" d="M720.6 242.1 L720.7 241.3 L720.9 240.5 L721.1 239.6 L721.4 238.8 L721.8 237.9 L722.2 237 L722.7 236.2 L723.3 235.4 L723.9 234.7 L724.5 234 L725.1 233.4 L725.7 233 L726.4 232.6 L727 232.3 L727.6 232.1 L728.1 232.1 L728.6 232.2 L729.1 232.3 L733.4 234.8 L733.8 235.1 L734.1 235.4 L734.4 235.9 L734.6 236.5 L734.7 237.2 L734.7 237.9 L734.6 238.7 L734.5 239.6 L734.2 240.4 L733.9 241.3 L733.5 242.2 L733.1 243 L732.6 243.9 L732 244.6 L731.5 245.4 L730.9 246 L730.2 246.6 L729.6 247.1 L729 247.5 L728.4 247.7 L727.8 247.9 L727.2 247.9 L726.7 247.9 L726.3 247.7 L721.9 245.3 L721.5 245 L721.2 244.6 L720.9 244.1 L720.8 243.5 L720.7 242.8 Z"/>
<path class="w" style="stroke-width:2.5" d="M725 244.5 L725.1 243.8 L725.3 242.9 L725.5 242.1 L725.8 241.2 L726.2 240.3 L726.6 239.4 L727.1 238.6 L727.6 237.8 L728.2 237.1 L728.8 236.4 L729.5 235.9 L730.1 235.4 L730.7 235 L731.3 234.7 L731.9 234.6 L732.5 234.5 L733 234.6 L733.4 234.8 L737.8 237.2 L738.2 237.5 L738.5 237.9 L738.8 238.4 L739 238.9 L739 239.6 L739 240.3 L739 241.1 L738.8 242 L738.6 242.8 L738.3 243.7 L737.9 244.6 L737.5 245.4 L737 246.3 L736.4 247.1 L735.8 247.8 L735.2 248.4 L734.6 249 L734 249.5 L733.4 249.9 L732.7 250.2 L732.1 250.3 L731.6 250.4 L731.1 250.3 L730.6 250.1 L726.3 247.7 L725.9 247.4 L725.5 247 L725.3 246.5 L725.1 245.9 L725 245.3 Z"/>
<path class="w" style="stroke-width:2.5" d="M729.4 247 L729.5 246.2 L729.6 245.3 L729.9 244.5 L730.2 243.6 L730.5 242.7 L731 241.9 L731.5 241 L732 240.2 L732.6 239.5 L733.2 238.9 L733.8 238.3 L734.5 237.8 L735.1 237.4 L735.7 237.2 L736.3 237 L736.9 236.9 L737.4 237 L737.8 237.2 L741.8 239.4 L742.1 239.7 L742.5 240.1 L742.7 240.5 L742.9 241.1 L743 241.8 L743 242.5 L742.9 243.3 L742.8 244.2 L742.5 245 L742.2 245.9 L741.8 246.8 L741.4 247.6 L740.9 248.5 L740.4 249.2 L739.8 250 L739.2 250.6 L738.5 251.2 L737.9 251.7 L737.3 252.1 L736.7 252.3 L736.1 252.5 L735.5 252.6 L735 252.5 L734.6 252.3 L730.6 250.1 L730.2 249.8 L729.9 249.4 L729.7 248.9 L729.5 248.4 L729.4 247.7 Z"/>
<path class="w" style="stroke-width:2.5" d="M733.3 249.2 L733.4 248.3 L733.6 247.5 L733.8 246.7 L734.1 245.8 L734.5 244.9 L734.9 244 L735.4 243.2 L736 242.4 L736.5 241.7 L737.1 241.1 L737.8 240.5 L738.4 240 L739 239.6 L739.6 239.3 L740.2 239.2 L740.8 239.1 L741.3 239.2 L741.8 239.4 L742.1 239.7 L744.3 241.4 L744.6 241.8 L744.9 242.3 L745 242.8 L745.1 243.4 L745.1 244.1 L745 244.8 L744.9 245.6 L744.7 246.4 L744.4 247.2 L744 248.1 L743.6 248.9 L743.2 249.6 L742.7 250.4 L742.1 251.1 L741.5 251.7 L741 252.2 L740.4 252.7 L739.8 253 L739.2 253.3 L738.7 253.4 L738.2 253.5 L737.7 253.4 L735 252.5 L734.6 252.3 L734.2 252 L733.9 251.6 L733.6 251.1 L733.4 250.6 L733.3 249.9 Z"/>
<path class="w" style="stroke-width:2.5" d="M744 241.2 L744.3 241.4 L744.6 241.8 L744.9 242.3 L745 242.8 L745.1 243.4 L745.1 244.1 L745 244.8 L744.9 245.6 L744.7 246.4 L744.4 247.2 L744 248.1 L743.6 248.9 L743.2 249.6 L742.7 250.4 L742.1 251.1 L741.6 251.7 L741 252.2 L740.4 252.6 L739.8 253 L739.2 253.3 L738.7 253.4 L738.2 253.5 L737.7 253.4 L737.3 253.2 L736.9 253 L736.6 252.6 L736.4 252.1 L736.2 251.6 L736.1 251 L736.1 250.3 L736.2 249.5 L736.3 248.8 L736.5 248 L736.8 247.1 L737.2 246.3 L737.6 245.5 L738.1 244.7 L738.6 244 L739.1 243.3 L739.7 242.7 L740.3 242.2 L740.8 241.7 L741.4 241.4 L742 241.1 L742.5 241 L743.1 240.9 L743.5 241 Z"/>
<path class="m" d="M705.2 231.2 L709.6 233.7"/>
<path class="m" d="M707 227.6 L711.3 230"/>
<path class="m" d="M709.3 224.5 L713.7 227"/>
<path class="m" d="M712 222.6 L716.3 225"/>
</g>
<g id="hub">
<path class="w" d="M775.4 256.1 C773.2 252.9 770.9 256.1 767.3 258.1 C763.7 260.1 756.8 266.7 753.9 268.2 C750.9 269.6 752 266.9 749.8 266.8 C747.7 266.7 743.3 266.7 741.1 267.5 C738.8 268.3 737 270.1 736.4 271.5 C735.7 273 738.3 274.7 737 276.3 C735.8 277.8 731.8 278.8 728.9 281 C726.1 283.1 722.7 285.5 720.2 289 C717.7 292.6 715 298.5 714.1 302.5 C713.2 306.6 715 310.8 714.8 313.3 C714.6 315.8 714.2 316 712.8 317.3 C711.3 318.7 707.2 319.6 706.1 321.4 C704.9 323.2 704.7 325.6 706.1 328.1 C707.4 330.6 712.8 330.9 714.1 336.2 C715.5 341.4 713.6 355 714.1 359.7 C714.7 364.4 715.4 363 717.5 364.4 C719.6 365.9 720.9 374.1 726.9 368.5 C733 362.9 744.9 346 753.9 330.8 C762.8 315.5 777.2 289.4 780.8 276.9 C784.4 264.5 777.6 259.2 775.4 256.1 Z" style="stroke-width:2.4"/>
<path class="m" d="M717.5 313.3 C717.7 311.5 717.6 306.3 718.9 302.5 C720.1 298.7 722.4 293.6 724.9 290.4 C727.4 287.1 732.2 284.2 733.7 283"/>
<path class="t" d="M720.2 314.6 C720.5 312.8 721 307.4 722.2 303.9 C723.5 300.3 725.2 296.2 727.6 293.1 C730 290 734.9 286.6 736.4 285.3"/>
<path class="w" d="M738.4 272.2 C738.8 270.8 741 269.2 743.1 268.9 C745.2 268.5 749.5 269.5 751.2 270.2 C752.8 270.9 754.1 271.7 753.2 272.9 C752.3 274.1 747.9 276.8 745.8 277.6 C743.6 278.4 741.6 278.5 740.4 277.6 C739.2 276.7 737.9 273.7 738.4 272.2 Z" style="stroke-width:2.2"/>
<path class="m" d="M740.4 277.6 L744.4 271.5 L751.8 270.2"/>
<path class="w" d="M708.1 322 C709 320.5 711.4 318.6 713.5 318.7 C715.5 318.8 719.1 320.5 720.2 322.7 C721.3 325 721.2 330.1 720.2 332.1 C719.2 334.2 716.2 335.5 714.1 334.8 C712.1 334.2 709.1 330.2 708.1 328.1 C707.1 326 707.2 323.6 708.1 322 Z" style="stroke-width:2.2"/>
<path class="m" d="M708.1 322.7 L716.2 330.8 L720.2 325.4"/>
<path class="w" d="M780.8 255.4 C782.9 255.7 790.7 258.8 792.9 260.1 C795.1 261.4 799.4 266.1 800.3 267.5 C801.2 268.9 801 271.6 800.7 272.9 C800.4 274.2 798.2 277.3 797.6 278.9 C797.1 280.6 796.1 284.6 795.9 287.7 C795.7 290.8 795.3 303.8 795.9 306.6 C796.4 309.3 800.2 311.1 800.7 312.6 C801.3 314.1 801.2 317.8 800.7 320 C800.2 322.2 797.7 329.4 796.3 332.1 C794.9 334.8 789.9 342 788.2 344.3 C786.5 346.5 782.8 351.3 780.8 352.3 C778.8 353.4 772.6 353.1 770 353.7 C767.5 354.3 760.3 356.4 757.9 357.7 C755.5 359.1 750.2 364 748.5 365.8 C746.8 367.6 743.8 372.9 742.4 373.9 C741 374.8 737.7 375 735.7 374.5 C733.7 374.1 726.1 371 724.2 369.8 C722.4 368.7 719.3 365.8 718.9 364.4 C718.4 363.1 719.9 362.1 720.2 357.7 C720.5 353.4 721.4 330.9 721.5 325.4 C721.7 319.9 720.9 311.5 721.5 307.9 C722.1 304.3 725.3 295.9 726.9 293.1 C728.6 290.2 734.1 284.1 736.4 282.3 C738.6 280.5 744.9 278 747.1 276.9 C749.4 275.9 754.3 274.4 756.6 272.9 C758.8 271.4 765.4 265.2 767.3 263.5 C769.3 261.7 772.6 258.3 774.1 257.4 C775.6 256.5 778.7 255.1 780.8 255.4 Z" style="stroke-width:2.4"/>
<path class="m" d="M715.9 336.2 L716.4 357.7 L718.9 363.8"/>
<path class="m" d="M756.6 270.2 C757.7 269.5 760.8 267.8 763.3 266.2 C765.8 264.5 770 261.1 771.4 260.1"/>
<path class="w" d="M788.6 266.6 L788.9 266.7 L789.1 266.9 L789.3 267.1 L789.4 267.4 L789.6 267.7 L789.7 268 L789.8 268.3 L789.9 268.6 L789.9 269 L790 269.4 L790 269.8 L789.9 270.2 L789.9 270.7 L789.8 271.1 L789.7 271.6 L789.6 272.1 L789.5 272.5 L789.3 273 L789.1 273.5 L788.9 274 L788.7 274.5 L788.4 274.9 L788.2 275.4 L787.9 275.8 L787.6 276.3 L787.3 276.7 L786.9 277.1 L786.6 277.5 L786.3 277.8 L785.9 278.2 L785.6 278.5 L785.2 278.8 L784.9 279 L784.5 279.3 L784.1 279.5 L783.8 279.7 L783.4 279.8 L783.1 279.9 L782.8 280 L782.4 280 L782.1 280 L781.8 280 L781.5 280 L781.3 279.9 L781 279.7 L780.8 279.6 L780.6 279.4 L780.4 279.2 L780.2 278.9 L780.1 278.7 L779.9 278.4 L779.8 278 L779.8 277.7 L779.7 277.3 L779.7 276.9 L779.7 276.5 L779.7 276.1 L779.8 275.6 L779.8 275.2 L779.9 274.7 L780 274.2 L780.2 273.8 L780.4 273.3 L780.5 272.8 L780.8 272.3 L781 271.9 L781.2 271.4 L781.5 270.9 L781.8 270.5 L782.1 270 L782.4 269.6 L782.7 269.2 L783 268.8 L783.4 268.5 L783.7 268.1 L784.1 267.8 L784.4 267.5 L784.8 267.3 L785.2 267 L785.5 266.8 L785.9 266.7 L786.2 266.5 L786.6 266.4 L786.9 266.3 L787.2 266.3 L787.5 266.3 L787.8 266.3 L788.1 266.4 L788.4 266.5 Z" style="stroke-width:2.2"/>
<path class="w" d="M735.8 295.7 L736.1 295.8 L736.3 296 L736.5 296.2 L736.7 296.5 L736.8 296.7 L736.9 297 L737 297.4 L737.1 297.7 L737.2 298.1 L737.2 298.5 L737.2 298.9 L737.2 299.3 L737.1 299.8 L737 300.2 L736.9 300.7 L736.8 301.2 L736.7 301.6 L736.5 302.1 L736.3 302.6 L736.1 303.1 L735.9 303.5 L735.6 304 L735.4 304.5 L735.1 304.9 L734.8 305.4 L734.5 305.8 L734.2 306.2 L733.8 306.6 L733.5 306.9 L733.1 307.3 L732.8 307.6 L732.4 307.9 L732.1 308.1 L731.7 308.4 L731.4 308.6 L731 308.7 L730.7 308.9 L730.3 309 L730 309.1 L729.7 309.1 L729.3 309.1 L729 309.1 L728.8 309 L728.5 308.9 L728.2 308.8 L728 308.7 L727.8 308.5 L727.6 308.3 L727.4 308 L727.3 307.7 L727.2 307.4 L727.1 307.1 L727 306.8 L726.9 306.4 L726.9 306 L726.9 305.6 L726.9 305.2 L727 304.7 L727 304.3 L727.1 303.8 L727.3 303.3 L727.4 302.9 L727.6 302.4 L727.8 301.9 L728 301.4 L728.2 300.9 L728.5 300.5 L728.7 300 L729 299.6 L729.3 299.1 L729.6 298.7 L729.9 298.3 L730.3 297.9 L730.6 297.6 L730.9 297.2 L731.3 296.9 L731.7 296.6 L732 296.4 L732.4 296.1 L732.7 295.9 L733.1 295.7 L733.4 295.6 L733.8 295.5 L734.1 295.4 L734.4 295.4 L734.7 295.4 L735 295.4 L735.3 295.4 L735.6 295.5 Z" style="stroke-width:2.2"/>
<path class="w" d="M788.4 323.1 L788.6 323.3 L788.8 323.5 L789 323.7 L789.2 323.9 L789.3 324.2 L789.4 324.5 L789.5 324.8 L789.6 325.2 L789.7 325.6 L789.7 326 L789.7 326.4 L789.7 326.8 L789.6 327.2 L789.6 327.7 L789.5 328.2 L789.3 328.6 L789.2 329.1 L789 329.6 L788.8 330.1 L788.6 330.5 L788.4 331 L788.2 331.5 L787.9 331.9 L787.6 332.4 L787.3 332.8 L787 333.2 L786.7 333.6 L786.3 334 L786 334.4 L785.7 334.7 L785.3 335 L784.9 335.3 L784.6 335.6 L784.2 335.8 L783.9 336 L783.5 336.2 L783.2 336.4 L782.8 336.5 L782.5 336.5 L782.2 336.6 L781.9 336.6 L781.6 336.6 L781.3 336.5 L781 336.4 L780.8 336.3 L780.5 336.1 L780.3 335.9 L780.1 335.7 L779.9 335.5 L779.8 335.2 L779.7 334.9 L779.6 334.6 L779.5 334.2 L779.4 333.9 L779.4 333.5 L779.4 333.1 L779.4 332.6 L779.5 332.2 L779.6 331.7 L779.7 331.3 L779.8 330.8 L779.9 330.3 L780.1 329.8 L780.3 329.4 L780.5 328.9 L780.7 328.4 L781 327.9 L781.2 327.5 L781.5 327 L781.8 326.6 L782.1 326.2 L782.4 325.8 L782.8 325.4 L783.1 325 L783.5 324.7 L783.8 324.4 L784.2 324.1 L784.5 323.8 L784.9 323.6 L785.2 323.4 L785.6 323.2 L785.9 323.1 L786.3 323 L786.6 322.9 L786.9 322.8 L787.3 322.8 L787.6 322.9 L787.8 322.9 L788.1 323 Z" style="stroke-width:2.2"/>
<path class="w" d="M735.6 352.7 L735.8 352.9 L736 353.1 L736.2 353.3 L736.4 353.6 L736.5 353.8 L736.7 354.1 L736.8 354.5 L736.8 354.8 L736.9 355.2 L736.9 355.6 L736.9 356 L736.9 356.4 L736.8 356.9 L736.8 357.3 L736.7 357.8 L736.6 358.2 L736.4 358.7 L736.2 359.2 L736.1 359.7 L735.8 360.2 L735.6 360.6 L735.4 361.1 L735.1 361.6 L734.8 362 L734.5 362.4 L734.2 362.9 L733.9 363.3 L733.6 363.7 L733.2 364 L732.9 364.4 L732.5 364.7 L732.2 365 L731.8 365.2 L731.4 365.5 L731.1 365.7 L730.7 365.8 L730.4 366 L730 366.1 L729.7 366.2 L729.4 366.2 L729.1 366.2 L728.8 366.2 L728.5 366.1 L728.2 366 L728 365.9 L727.7 365.8 L727.5 365.6 L727.3 365.4 L727.2 365.1 L727 364.8 L726.9 364.5 L726.8 364.2 L726.7 363.9 L726.7 363.5 L726.6 363.1 L726.6 362.7 L726.7 362.2 L726.7 361.8 L726.8 361.4 L726.9 360.9 L727 360.4 L727.1 359.9 L727.3 359.5 L727.5 359 L727.7 358.5 L727.9 358 L728.2 357.6 L728.4 357.1 L728.7 356.7 L729 356.2 L729.3 355.8 L729.7 355.4 L730 355 L730.3 354.6 L730.7 354.3 L731 354 L731.4 353.7 L731.7 353.4 L732.1 353.2 L732.5 353 L732.8 352.8 L733.2 352.7 L733.5 352.6 L733.8 352.5 L734.2 352.5 L734.5 352.5 L734.8 352.5 L735.1 352.5 L735.3 352.6 Z" style="stroke-width:2.2"/>
<path class="w" d="M747.8 285.3 L754.5 282.3 L766 276.7 L766.6 289 L773.4 290.7 L792.9 289.9 L790.5 303.2 L794.3 307.9 L786.2 313.3 L775.4 320 L768 336.2 L767.1 350.3 L749.8 357.7 L749.1 344.3 L740.4 338.9 L726.9 344.3 L725.9 325.4 L739 318 L740.4 306.6 L746.5 295.1 Z" style="stroke-width:2.2"/>
<path class="m" d="M755.2 283 L766 277.6 L766.4 288.4 L756.6 289.3 Z"/>
<path class="m" d="M775.4 295.1 L792.2 290.4 L789.9 302.2 L782.4 305.2 Z"/>
<path class="m" d="M751.2 344.3 L757.9 330.8 L766.6 336.2 L766 349.6 L751.8 356.4 Z"/>
<path class="m" d="M727.6 328.8 L735.3 324.3 L736.6 336.8 L728 342.2 Z"/>
<path class="m" d="M766.6 289 L772.7 295.1 L775.4 295.1"/>
<path class="m" d="M782.4 305.2 L775.4 309.2 L770 306.6 L763.3 309.2"/>
<path class="m" d="M775.4 309.2 L775.4 320"/>
<path class="m" d="M757.9 330.8 L768 336.2"/>
<path class="t" d="M757.9 330.8 L756.6 346.9"/>
<path class="m" d="M739 318 L735.3 324.3"/>
<path class="m" d="M736.6 336.8 L740.4 338.9"/>
<path class="m" d="M746.5 295.1 L756.6 289.3"/>
<path class="m" d="M749.1 344.3 L751.2 330.8 L747.1 328.8"/>
<path class="w" d="M757.3 297.4 L757.8 297.8 L758.2 298.1 L758.6 298.6 L759 299.1 L759.3 299.6 L759.5 300.3 L759.7 300.9 L759.9 301.6 L760 302.4 L760.1 303.2 L760.1 304.1 L760 304.9 L759.9 305.8 L759.8 306.8 L759.6 307.7 L759.3 308.7 L759 309.6 L758.7 310.6 L758.3 311.6 L757.9 312.6 L757.4 313.5 L756.9 314.5 L756.4 315.4 L755.8 316.3 L755.2 317.2 L754.6 318.1 L753.9 318.9 L753.2 319.7 L752.5 320.4 L751.8 321.1 L751.1 321.8 L750.4 322.4 L749.6 322.9 L748.9 323.4 L748.2 323.8 L747.5 324.1 L746.7 324.4 L746 324.6 L745.4 324.8 L744.7 324.9 L744.1 324.9 L743.4 324.8 L742.9 324.7 L742.3 324.5 L741.8 324.3 L741.3 324 L740.9 323.6 L740.5 323.1 L740.1 322.6 L739.8 322.1 L739.6 321.5 L739.4 320.8 L739.2 320.1 L739.1 319.3 L739 318.5 L739 317.7 L739.1 316.8 L739.2 315.9 L739.3 315 L739.5 314 L739.8 313.1 L740.1 312.1 L740.4 311.1 L740.8 310.1 L741.2 309.2 L741.7 308.2 L742.2 307.2 L742.7 306.3 L743.3 305.4 L743.9 304.5 L744.5 303.6 L745.2 302.8 L745.9 302 L746.6 301.3 L747.3 300.6 L748 300 L748.7 299.4 L749.5 298.8 L750.2 298.4 L750.9 297.9 L751.6 297.6 L752.4 297.3 L753.1 297.1 L753.7 296.9 L754.4 296.8 L755 296.8 L755.7 296.9 L756.2 297 L756.8 297.2 Z" style="stroke-width:2.4"/>
<path class="m" d="M762.8 299.5 L763.1 300.2 L763.4 301 L763.6 301.8 L763.7 302.7 L763.8 303.6 L763.8 304.6 L763.8 305.6 L763.7 306.7 L763.5 307.8 L763.3 308.9 L763 310 L762.7 311.1 L762.3 312.2 L761.8 313.4 L761.3 314.5 L760.8 315.6 L760.2 316.7 L759.5 317.8 L758.8 318.8 L758.1 319.8 L757.4 320.8 L756.6 321.7 L755.8 322.6 L755 323.4 L754.2 324.2 L753.3 324.9 L752.5 325.5 L751.6 326.1 L750.7 326.6 L749.9 327 L749.1 327.3 L748.2 327.6 L747.4 327.8 L746.6 327.9 L745.9 328 L745.1 327.9 L744.4 327.8 L743.8 327.6"/>
<path class="m" d="M735.3 324.3 C735.9 325.4 737.5 328.8 739 330.8 C740.6 332.8 743.1 335.1 744.4 336.2 C745.8 337.3 746.7 337.3 747.1 337.5"/>
<path class="w" d="M764.9 302.8 C764.8 302.1 764.6 301 766.2 300.1 C767.9 299.2 773 297.6 774.7 297.4 C776.4 297.2 776.4 298.1 776.5 298.7 C776.6 299.4 777 300.3 775.4 301.2 C773.8 302.1 768.8 303.9 767.1 304.1 C765.3 304.4 765 303.5 764.9 302.8 Z" style="stroke-width:2"/>
<path class="t" d="M767.3 302.2 L774.1 299.5"/>
</g>
<g id="bearing">
<path class="w" style="stroke-width:2.6" d="M831.2 373.1 L831.4 370.8 L831.7 368.4 L832.3 365.9 L833.1 363.4 L834.1 360.9 L835.3 358.6 L836.6 356.3 L838.1 354.3 L839.7 352.4 L841.4 350.7 L843.1 349.3 L844.8 348.2 L846.6 347.4 L848.3 346.9 L849.9 346.6 L851.6 346.4 L853.2 346.5 L854.7 347 L856.1 347.8 L857.3 349 L858.3 350.4 L859 352.1 L859.6 354 L859.9 356.2 L860 358.5 L859.9 361 L859.5 363.5 L858.9 366.1 L858 368.8 L857 371.3 L855.7 373.8 L854.3 376.1 L852.8 378.3 L851.1 380.3 L849.4 382 L847.5 383.5 L845.7 384.7 L843.9 385.5 L842.1 386.1 L840.4 386.3 L838.7 386.1 L837.2 385.6 L835.9 384.8 L834.7 383.7 L833.7 382.2 L832.9 380.9 L832.1 379.2 L831.6 377.4 L831.3 375.3 Z"/>
<path class="w" style="stroke-width:2.6" d="M831.9 374.1 L832.1 371.6 L832.5 369.1 L833.1 366.5 L833.9 363.9 L835 361.3 L836.2 358.9 L837.6 356.5 L839.1 354.3 L840.8 352.3 L842.6 350.6 L844.4 349.1 L846.2 348 L848 347.1 L849.9 346.6 L851.6 346.4 L853.2 346.5 L854.7 347 L866.8 352.5 L868.2 353.3 L869.4 354.5 L870.4 355.9 L871.2 357.6 L871.7 359.5 L872 361.7 L872.1 364 L872 366.5 L871.6 369 L871 371.6 L870.1 374.2 L869.1 376.8 L867.9 379.3 L866.4 381.6 L864.9 383.8 L863.2 385.8 L861.5 387.5 L859.7 389 L857.8 390.2 L856 391 L854.2 391.6 L852.5 391.8 L850.8 391.6 L849.3 391.1 L837.2 385.6 L835.9 384.8 L834.7 383.7 L833.7 382.2 L832.9 380.5 L832.3 378.6 L832 376.4 Z"/>
<path class="w" style="stroke-width:2.6" d="M844 379.6 L844.2 377.1 L844.6 374.6 L845.2 372 L846 369.4 L847.1 366.8 L848.3 364.3 L849.7 362 L851.3 359.8 L852.9 357.8 L854.7 356.1 L856.5 354.6 L858.3 353.5 L860.2 352.6 L862 352.1 L863.7 351.9 L865.3 352 L866.8 352.5 L868.2 353.3 L869.4 354.5 L870.3 355.7 L871.3 357.1 L872 358.8 L872.6 360.6 L872.9 362.7 L873 364.9 L872.8 367.3 L872.5 369.8 L871.9 372.3 L871 374.8 L870 377.2 L868.8 379.6 L867.5 381.9 L866 384 L864.4 385.9 L862.7 387.6 L861 389 L859.2 390.1 L857.4 390.9 L855.7 391.4 L854 391.6 L852.5 391.8 L850.8 391.6 L849.3 391.1 L848 390.3 L846.8 389.2 L845.8 387.7 L845 386 L844.4 384.1 L844.1 381.9 Z"/>
<path class="w" style="stroke-width:2.6" d="M867.9 353.9 L869.2 354.6 L870.3 355.7 L871.3 357.1 L872 358.7 L872.6 360.6 L872.9 362.7 L873 364.9 L872.8 367.3 L872.5 369.8 L871.9 372.3 L871 374.8 L870 377.2 L868.8 379.6 L867.5 381.9 L866 384 L864.4 385.9 L862.7 387.6 L861 389 L859.2 390.1 L857.4 390.9 L855.7 391.4 L854 391.6 L852.5 391.5 L851 391 L849.7 390.2 L848.6 389.1 L847.6 387.8 L846.9 386.1 L846.3 384.2 L846 382.2 L845.9 379.9 L846.1 377.6 L846.4 375.1 L847 372.6 L847.8 370.1 L848.9 367.6 L850 365.2 L851.4 363 L852.9 360.9 L854.5 359 L856.2 357.3 L857.9 355.9 L859.7 354.8 L861.4 353.9 L863.2 353.4 L864.8 353.2 L866.4 353.4 Z"/>
<path class="m" d="M866.9 356.5 L867.5 356.8 L868.1 357.2 L868.6 357.7 L869.1 358.2 L869.5 358.9 L869.9 359.5 L870.3 360.3 L870.6 361.1 L870.8 362 L871 362.9 L871.2 363.8 L871.2 364.8 L871.3 365.9 L871.2 367 L871.1 368.1 L871 369.2 L870.8 370.3 L870.5 371.5 L870.2 372.6 L869.8 373.8 L869.4 374.9 L869 376.1 L868.4 377.2 L867.9 378.3 L867.3 379.4 L866.7 380.4 L866 381.4 L865.3 382.3 L864.6 383.2 L863.9 384.1 L863.1 384.9 L862.3 385.6 L861.5 386.3 L860.7 386.9 L859.9 387.4 L859.1 387.9 L858.3 388.3 L857.5 388.6 L856.7 388.8 L855.9 389 L855.1 389 L854.4 389 L853.7 388.9 L853 388.8 L852.3 388.5 L851.7 388.2 L851.1 387.8 L850.6 387.3 L850.1 386.8 L849.7 386.1 L849.3 385.5 L848.9 384.7 L848.6 383.9 L848.4 383 L848.2 382.1 L848 381.2 L848 380.2 L847.9 379.1 L848 378 L848.1 376.9 L848.2 375.8 L848.4 374.7 L848.7 373.5 L849 372.4 L849.4 371.2 L849.8 370.1 L850.2 368.9 L850.8 367.8 L851.3 366.7 L851.9 365.6 L852.5 364.6 L853.2 363.6 L853.9 362.7 L854.6 361.8 L855.3 360.9 L856.1 360.1 L856.9 359.4 L857.7 358.7 L858.5 358.1 L859.3 357.6 L860.1 357.1 L860.9 356.7 L861.7 356.4 L862.5 356.2 L863.3 356 L864.1 356 L864.8 356 L865.5 356.1 L866.2 356.2 Z" style="stroke-width:1.5"/>
<path class="m" d="M865.6 359.2 L866.1 359.5 L866.6 359.8 L867.1 360.2 L867.5 360.7 L867.9 361.2 L868.2 361.7 L868.5 362.4 L868.7 363 L868.9 363.8 L869.1 364.5 L869.2 365.3 L869.3 366.2 L869.3 367 L869.2 367.9 L869.2 368.8 L869 369.8 L868.9 370.7 L868.7 371.7 L868.4 372.6 L868.1 373.6 L867.7 374.5 L867.4 375.5 L866.9 376.4 L866.5 377.3 L866 378.2 L865.5 379 L864.9 379.9 L864.3 380.7 L863.7 381.4 L863.1 382.1 L862.5 382.8 L861.8 383.4 L861.2 383.9 L860.5 384.4 L859.8 384.9 L859.2 385.3 L858.5 385.6 L857.8 385.8 L857.2 386 L856.5 386.2 L855.9 386.2 L855.3 386.2 L854.7 386.1 L854.1 386 L853.6 385.8 L853.1 385.5 L852.6 385.2 L852.1 384.8 L851.7 384.3 L851.3 383.8 L851 383.3 L850.7 382.6 L850.5 382 L850.3 381.2 L850.1 380.5 L850 379.7 L849.9 378.8 L849.9 378 L850 377.1 L850 376.2 L850.2 375.2 L850.3 374.3 L850.5 373.3 L850.8 372.4 L851.1 371.4 L851.5 370.5 L851.8 369.5 L852.3 368.6 L852.7 367.7 L853.2 366.8 L853.7 366 L854.3 365.1 L854.9 364.3 L855.5 363.6 L856.1 362.9 L856.7 362.2 L857.4 361.6 L858 361.1 L858.7 360.6 L859.4 360.1 L860 359.7 L860.7 359.4 L861.4 359.2 L862 359 L862.7 358.8 L863.3 358.8 L863.9 358.8 L864.5 358.9 L865.1 359 Z" style="stroke-width:1.3"/>
<path class="m" d="M863.3 363.2 L863.7 363.4 L864 363.6 L864.3 363.9 L864.6 364.2 L864.9 364.6 L865.1 365 L865.3 365.4 L865.5 365.9 L865.7 366.4 L865.8 367 L865.9 367.5 L865.9 368.1 L865.9 368.7 L865.9 369.3 L865.9 370 L865.8 370.6 L865.7 371.3 L865.5 371.9 L865.3 372.6 L865.1 373.3 L864.9 374 L864.6 374.6 L864.3 375.3 L864 375.9 L863.7 376.5 L863.3 377.1 L862.9 377.7 L862.5 378.2 L862.1 378.8 L861.6 379.3 L861.2 379.7 L860.7 380.1 L860.3 380.5 L859.8 380.9 L859.3 381.2 L858.8 381.4 L858.4 381.7 L857.9 381.8 L857.4 382 L857 382.1 L856.5 382.1 L856.1 382.1 L855.7 382 L855.3 381.9 L854.9 381.8 L854.5 381.6 L854.2 381.4 L853.9 381.1 L853.6 380.8 L853.3 380.4 L853.1 380 L852.9 379.6 L852.7 379.1 L852.5 378.6 L852.4 378 L852.3 377.5 L852.3 376.9 L852.3 376.3 L852.3 375.7 L852.3 375 L852.4 374.4 L852.5 373.7 L852.7 373.1 L852.9 372.4 L853.1 371.7 L853.3 371 L853.6 370.4 L853.9 369.7 L854.2 369.1 L854.5 368.5 L854.9 367.9 L855.3 367.3 L855.7 366.8 L856.1 366.2 L856.6 365.7 L857 365.3 L857.5 364.9 L857.9 364.5 L858.4 364.1 L858.9 363.8 L859.4 363.6 L859.8 363.3 L860.3 363.2 L860.8 363 L861.2 362.9 L861.7 362.9 L862.1 362.9 L862.5 363 L862.9 363.1 Z" style="stroke-width:3.4"/>
<path class="w" d="M861.1 368 L861.3 368.1 L861.5 368.2 L861.6 368.4 L861.8 368.5 L861.9 368.7 L862 368.9 L862.1 369.2 L862.2 369.4 L862.3 369.7 L862.3 370 L862.4 370.3 L862.4 370.6 L862.4 370.9 L862.4 371.3 L862.3 371.6 L862.3 372 L862.2 372.3 L862.1 372.7 L862 373.1 L861.9 373.4 L861.8 373.8 L861.6 374.2 L861.4 374.5 L861.3 374.9 L861.1 375.2 L860.9 375.5 L860.7 375.9 L860.5 376.2 L860.2 376.4 L860 376.7 L859.8 377 L859.5 377.2 L859.3 377.4 L859 377.6 L858.8 377.8 L858.5 378 L858.3 378.1 L858 378.2 L857.8 378.3 L857.6 378.3 L857.3 378.3 L857.1 378.3 L856.9 378.3 L856.7 378.3 L856.5 378.2 L856.3 378.1 L856.1 378 L856 377.8 L855.8 377.7 L855.7 377.5 L855.6 377.3 L855.5 377 L855.4 376.8 L855.3 376.5 L855.3 376.2 L855.2 375.9 L855.2 375.6 L855.2 375.3 L855.2 374.9 L855.3 374.6 L855.3 374.2 L855.4 373.9 L855.5 373.5 L855.6 373.1 L855.7 372.8 L855.8 372.4 L856 372 L856.2 371.7 L856.3 371.3 L856.5 371 L856.7 370.7 L856.9 370.3 L857.1 370 L857.4 369.8 L857.6 369.5 L857.8 369.2 L858.1 369 L858.3 368.8 L858.6 368.6 L858.8 368.4 L859.1 368.2 L859.3 368.1 L859.6 368 L859.8 367.9 L860 367.9 L860.3 367.9 L860.5 367.9 L860.7 367.9 L860.9 367.9 Z" style="stroke-width:2.4"/>
<circle class="k" cx="846.8" cy="353.9" r="1"/>
<circle class="k" cx="852" cy="354.2" r="1.1"/>
<circle class="k" cx="849.6" cy="350.6" r="0.7"/>
<circle class="k" cx="854" cy="350.4" r="0.7"/>
<circle class="k" cx="840.2" cy="373.4" r="1.1"/>
<circle class="k" cx="836.2" cy="375.4" r="1.1"/>
<circle class="k" cx="839.5" cy="380.8" r="1"/>
<circle class="k" cx="835.6" cy="378.8" r="0.6"/>
<circle class="k" cx="835.2" cy="366.3" r="0.8"/>
<circle class="k" cx="833.8" cy="368.4" r="0.7"/>
</g>
<g id="valve">
<path class="w" style="stroke-width:3" d="M1471 771.1 L1471 769.4 L1471.1 767.6 L1471.5 765.9 L1471.9 764.2 L1472.5 762.6 L1473.2 761.2 L1474 759.9 L1474.8 758.8 L1475.8 757.8 L1476.8 757.1 L1477.9 756.6 L1480.3 755.9 L1481.5 755.6 L1482.7 755.5 L1483.8 755.7 L1484.9 756.2 L1486 756.8 L1487 757.7 L1487.9 758.8 L1488.7 760.1 L1489.4 761.5 L1490 763.1 L1490.4 764.9 L1490.7 766.7 L1490.8 768.5 L1490.8 770.4 L1490.6 772.3 L1490.3 774.1 L1489.8 775.9 L1489.2 777.5 L1488.5 779.1 L1487.7 780.4 L1486.7 781.6 L1485.7 782.6 L1484.6 783.4 L1483.5 783.9 L1482.3 784.2 L1481.1 784.3 L1480 784.1 L1478.9 783.7 L1476.5 782.8 L1475.5 782.2 L1474.6 781.3 L1473.7 780.3 L1472.9 779.1 L1472.3 777.7 L1471.8 776.2 L1471.3 774.6 L1471.1 772.9 Z"/>
<path class="w" style="stroke-width:3" d="M1473 771.3 L1473 769.5 L1473.2 767.6 L1473.5 765.8 L1474 764 L1474.5 762.3 L1475.3 760.8 L1476.1 759.4 L1477.1 758.2 L1478.1 757.2 L1479.2 756.5 L1480.3 755.9 L1481.5 755.6 L1482.7 755.5 L1485.2 755.7 L1486.3 755.9 L1487.4 756.3 L1488.5 757 L1489.5 757.8 L1490.4 758.9 L1491.2 760.2 L1491.9 761.7 L1492.5 763.3 L1492.9 765 L1493.2 766.8 L1493.3 768.6 L1493.3 770.5 L1493.1 772.4 L1492.8 774.2 L1492.3 776 L1491.7 777.7 L1491 779.2 L1490.2 780.6 L1489.2 781.8 L1488.2 782.8 L1487.1 783.5 L1486 784.1 L1484.8 784.4 L1483.6 784.4 L1481.1 784.3 L1480 784.1 L1478.9 783.7 L1477.8 783 L1476.8 782.1 L1475.9 781.1 L1475.1 779.8 L1474.4 778.3 L1473.8 776.7 L1473.4 775 L1473.1 773.2 Z"/>
<path class="w" style="stroke-width:3" d="M1475.5 771.5 L1475.5 769.6 L1475.7 767.7 L1476 765.9 L1476.4 764.1 L1477 762.5 L1477.8 760.9 L1478.6 759.6 L1479.6 758.4 L1480.6 757.4 L1481.7 756.6 L1482.8 756 L1484 755.7 L1485.2 755.7 L1487.6 755.8 L1488.8 756 L1489.9 756.4 L1491 757.1 L1492 758 L1492.9 759.1 L1493.7 760.4 L1494.4 761.8 L1495 763.4 L1495.4 765.1 L1495.7 766.9 L1495.8 768.8 L1495.8 770.7 L1495.6 772.5 L1495.3 774.4 L1494.8 776.1 L1494.2 777.8 L1493.5 779.3 L1492.7 780.7 L1491.7 781.9 L1490.7 782.9 L1489.6 783.7 L1488.5 784.2 L1487.3 784.5 L1486.1 784.6 L1483.6 784.4 L1482.5 784.3 L1481.4 783.8 L1480.3 783.2 L1479.3 782.3 L1478.4 781.2 L1477.6 779.9 L1476.9 778.5 L1476.3 776.9 L1475.9 775.1 L1475.6 773.3 Z"/>
<path class="w" style="stroke-width:3" d="M1478 771.6 L1478 769.7 L1478.2 767.9 L1478.5 766 L1478.9 764.3 L1479.5 762.6 L1480.3 761.1 L1481.1 759.7 L1482.1 758.5 L1483.1 757.5 L1484.2 756.7 L1485.3 756.2 L1486.5 755.9 L1487.6 755.8 L1488.8 756 L1489.9 756.4 L1491 757.1 L1492 758 L1492.9 759.1 L1494.2 760.6 L1494.9 761.7 L1495.5 763 L1496 764.4 L1496.3 765.9 L1496.6 767.4 L1496.7 769.1 L1496.7 770.7 L1496.5 772.3 L1496.2 774 L1495.8 775.5 L1495.3 776.9 L1494.7 778.3 L1493.9 779.5 L1493.1 780.5 L1491.7 781.9 L1490.7 782.9 L1489.6 783.7 L1488.5 784.2 L1487.3 784.5 L1486.1 784.6 L1485 784.4 L1483.8 784 L1482.8 783.3 L1481.8 782.4 L1480.9 781.3 L1480 780 L1479.4 778.6 L1478.8 777 L1478.4 775.3 L1478.1 773.5 Z"/>
<path class="w" style="stroke-width:3" d="M1481.1 771.5 L1481.1 769.9 L1481.2 768.2 L1481.5 766.6 L1481.9 765.1 L1482.5 763.6 L1483.1 762.3 L1483.8 761.1 L1484.7 760.1 L1485.6 759.2 L1486.5 758.5 L1487.5 758 L1488.5 757.8 L1489.5 757.7 L1495 758 L1496 758.2 L1497 758.5 L1498 759.1 L1498.8 759.9 L1499.7 760.9 L1500.4 762 L1501 763.2 L1501.5 764.6 L1501.8 766.1 L1502.1 767.7 L1502.2 769.4 L1502.2 771 L1502 772.6 L1501.7 774.2 L1501.3 775.8 L1500.8 777.2 L1500.2 778.6 L1499.4 779.8 L1498.6 780.8 L1497.7 781.7 L1496.8 782.4 L1495.8 782.8 L1494.7 783.1 L1493.7 783.2 L1488.2 782.9 L1487.2 782.7 L1486.2 782.4 L1485.3 781.8 L1484.4 781 L1483.6 780 L1482.9 778.9 L1482.3 777.6 L1481.8 776.2 L1481.4 774.7 L1481.2 773.2 Z"/>
<path class="w" style="stroke-width:3" d="M1486.2 771.9 L1486.2 770.2 L1486.4 768.4 L1486.7 766.8 L1487.1 765.1 L1487.7 763.6 L1488.3 762.2 L1489.1 761 L1490 759.9 L1490.9 759 L1491.9 758.2 L1492.9 757.7 L1494 757.5 L1495.1 757.4 L1496.1 757.6 L1497.2 758 L1498.2 758.6 L1499.1 759.4 L1499.9 760.4 L1500.7 761.6 L1501.3 762.9 L1501.8 764.4 L1502.2 765.9 L1502.5 767.6 L1502.6 769.3 L1502.5 771 L1502.4 772.7 L1502.1 774.4 L1501.7 776 L1501.1 777.5 L1500.4 779 L1499.7 780.2 L1498.8 781.3 L1497.9 782.2 L1496.9 782.9 L1495.8 783.4 L1494.8 783.7 L1493.7 783.8 L1492.6 783.6 L1491.6 783.2 L1490.6 782.6 L1489.7 781.8 L1488.9 780.8 L1488.1 779.6 L1487.5 778.3 L1487 776.8 L1486.6 775.2 L1486.3 773.6 Z"/>
<path class="w" style="stroke-width:3" d="M1486.2 771.9 L1486.2 770.2 L1486.4 768.4 L1486.7 766.8 L1487.1 765.1 L1487.7 763.6 L1488.3 762.2 L1489.1 761 L1490 759.9 L1490.9 759 L1491.9 758.2 L1492.9 757.7 L1494 757.5 L1495.1 757.4 L1499.1 757.6 L1500.1 757.8 L1501.2 758.2 L1502.1 758.8 L1503.1 759.6 L1503.9 760.6 L1504.6 761.8 L1505.3 763.1 L1505.8 764.6 L1506.2 766.1 L1506.5 767.8 L1506.6 769.5 L1506.5 771.2 L1506.4 772.9 L1506.1 774.6 L1505.7 776.2 L1505.1 777.8 L1504.4 779.2 L1503.7 780.4 L1502.8 781.5 L1501.9 782.4 L1500.9 783.1 L1499.8 783.6 L1498.8 783.9 L1497.7 784 L1493.7 783.8 L1492.6 783.6 L1491.6 783.2 L1490.6 782.6 L1489.7 781.8 L1488.9 780.8 L1488.1 779.6 L1487.5 778.3 L1487 776.8 L1486.6 775.2 L1486.3 773.6 Z"/>
<path class="w" style="stroke-width:3" d="M1490.2 772.1 L1490.2 770.4 L1490.4 768.6 L1490.7 767 L1491.1 765.4 L1491.6 763.8 L1492.3 762.4 L1493.1 761.2 L1494 760.1 L1494.9 759.2 L1495.9 758.5 L1496.9 758 L1498 757.7 L1499.1 757.6 L1500.1 757.8 L1501.2 758.2 L1502.1 758.8 L1503.1 759.6 L1504.8 761.6 L1505.5 762.4 L1506.1 763.4 L1506.6 764.5 L1507.1 765.7 L1507.4 767 L1507.6 768.4 L1507.7 769.9 L1507.7 771.3 L1507.5 772.7 L1507.3 774.1 L1506.9 775.5 L1506.5 776.7 L1505.9 777.9 L1505.3 779 L1504.6 779.9 L1503.8 780.6 L1501.9 782.4 L1500.9 783.1 L1499.8 783.6 L1498.8 783.9 L1497.7 784 L1496.6 783.8 L1495.6 783.4 L1494.6 782.8 L1493.7 782 L1492.8 781 L1492.1 779.8 L1491.5 778.5 L1491 777 L1490.6 775.4 L1490.3 773.8 Z"/>
<path class="w" style="stroke-width:3" d="M1501.4 759.9 L1502.3 760.1 L1503.2 760.4 L1504 760.9 L1504.8 761.6 L1505.5 762.4 L1506.1 763.4 L1506.6 764.5 L1507.1 765.7 L1507.4 767.1 L1507.6 768.4 L1507.7 769.8 L1507.7 771.3 L1507.5 772.7 L1507.3 774.1 L1506.9 775.5 L1506.5 776.7 L1505.9 777.9 L1505.3 778.9 L1504.6 779.9 L1503.8 780.6 L1502.9 781.2 L1502.1 781.6 L1501.2 781.9 L1500.3 781.9 L1499.4 781.8 L1498.6 781.4 L1497.7 780.9 L1497 780.3 L1496.3 779.4 L1495.6 778.4 L1495.1 777.3 L1494.7 776.1 L1494.4 774.8 L1494.1 773.4 L1494 772 L1494.1 770.6 L1494.2 769.1 L1494.4 767.7 L1494.8 766.4 L1495.3 765.1 L1495.8 764 L1496.5 762.9 L1497.2 762 L1498 761.2 L1498.8 760.6 L1499.7 760.2 L1500.6 760 Z"/>
<path class="w" style="stroke-width:3" d="M1494.7 771.9 L1494.7 770.6 L1494.8 769.3 L1495 768 L1495.3 766.8 L1495.8 765.6 L1496.3 764.6 L1496.9 763.6 L1497.5 762.8 L1498.2 762.1 L1499 761.6 L1499.8 761.2 L1500.6 761 L1501.4 760.9 L1515.5 761.7 L1516.3 761.8 L1517.1 762.1 L1517.8 762.6 L1518.5 763.2 L1519.1 763.9 L1519.7 764.8 L1520.2 765.8 L1520.6 767 L1520.9 768.1 L1521.1 769.4 L1521.2 770.7 L1521.1 772 L1521 773.3 L1520.8 774.6 L1520.5 775.8 L1520 776.9 L1519.5 778 L1519 779 L1518.3 779.8 L1517.6 780.5 L1516.8 781 L1516 781.4 L1515.2 781.6 L1514.4 781.6 L1500.3 780.9 L1499.5 780.8 L1498.8 780.5 L1498 780 L1497.3 779.4 L1496.7 778.6 L1496.1 777.8 L1495.6 776.8 L1495.2 775.6 L1495 774.5 L1494.8 773.2 Z"/>
<path class="w" style="stroke-width:3" d="M1508.7 772.6 L1508.8 771.3 L1508.9 770 L1509.1 768.8 L1509.4 767.5 L1509.8 766.4 L1510.4 765.3 L1510.9 764.4 L1511.6 763.5 L1512.3 762.9 L1513.1 762.3 L1513.8 761.9 L1514.7 761.7 L1515.5 761.7 L1516.3 761.8 L1517.1 762.1 L1517.8 762.6 L1519 763.4 L1519.6 763.9 L1520.2 764.6 L1520.7 765.5 L1521.2 766.4 L1521.5 767.4 L1521.8 768.5 L1522 769.6 L1522.1 770.8 L1522 772 L1521.9 773.2 L1521.7 774.4 L1521.4 775.5 L1521 776.6 L1520.6 777.6 L1520 778.4 L1519.4 779.2 L1518.8 779.8 L1518.1 780.3 L1516.8 781 L1516 781.4 L1515.2 781.6 L1514.4 781.6 L1513.6 781.5 L1512.8 781.2 L1512.1 780.8 L1511.4 780.1 L1510.8 779.4 L1510.2 778.5 L1509.7 777.5 L1509.3 776.4 L1509 775.2 L1508.8 773.9 Z"/>
<path class="w" style="stroke-width:3.2" d="M1516.8 762.5 L1517.6 762.7 L1518.3 762.9 L1519 763.4 L1519.6 763.9 L1520.2 764.6 L1520.7 765.5 L1521.2 766.4 L1521.5 767.4 L1521.8 768.5 L1522 769.6 L1522.1 770.8 L1522 772 L1521.9 773.2 L1521.7 774.4 L1521.4 775.5 L1521 776.6 L1520.6 777.6 L1520 778.4 L1519.4 779.2 L1518.8 779.8 L1518.1 780.3 L1517.4 780.7 L1516.6 780.9 L1515.9 780.9 L1515.1 780.8 L1514.4 780.5 L1513.7 780.1 L1513.1 779.5 L1512.5 778.8 L1512 778 L1511.5 777.1 L1511.2 776.1 L1510.9 775 L1510.7 773.8 L1510.6 772.6 L1510.7 771.4 L1510.8 770.2 L1511 769.1 L1511.3 767.9 L1511.7 766.9 L1512.1 765.9 L1512.7 765 L1513.3 764.3 L1513.9 763.6 L1514.6 763.1 L1515.3 762.8 L1516.1 762.6 Z"/>
<path class="m" d="M1499.1 779.5 L1498.8 779.3 L1498.4 779 L1498.1 778.6 L1497.8 778.3 L1497.6 777.9 L1497.3 777.4 L1497.1 776.9 L1496.9 776.4 L1496.7 775.9 L1496.5 775.3 L1496.3 774.8 L1496.2 774.2 L1496.1 773.6 L1496.1 772.9 L1496 772.3 L1496 771.7 L1496 771 L1496 770.4 L1496.1 769.8 L1496.2 769.1 L1496.3 768.5 L1496.4 767.9 L1496.6 767.3 L1496.8 766.7 L1497 766.2 L1497.2 765.6 L1497.4 765.1 L1497.7 764.6 L1498 764.2 L1498.3 763.8 L1498.6 763.4 L1499 763.1 L1499.3 762.8 L1499.6 762.5 L1500 762.3" style="stroke-width:3.4"/>
<path class="m" d="M1498.2 776.9 L1504.7 777.3" style="stroke-width:2.8"/>
<path class="m" d="M1497.6 767.7 L1504.1 768" style="stroke-width:2.8"/>
<circle class="k" cx="1483.3" cy="774.3" r="0.8"/>
<circle class="k" cx="1485.1" cy="771.9" r="0.8"/>
<circle class="k" cx="1485" cy="763.8" r="0.8"/>
<circle class="k" cx="1486.4" cy="779.1" r="0.8"/>
</g>
<g id="nut10">
<path class="w" style="stroke-width:2.3" d="M1574.3 709.6 L1574.4 707.9 L1574.7 706.1 L1575.1 704.4 L1575.7 702.6 L1576.4 701 L1577.2 699.4 L1578.2 697.9 L1579.2 696.5 L1580.4 695.3 L1581.6 694.3 L1582.8 693.4 L1584 692.8 L1585.3 692.4 L1586.5 692.3 L1588.5 692 L1589.8 692.1 L1591 692.4 L1592.1 692.9 L1593 693.7 L1593.9 694.7 L1594.6 695.9 L1595.2 697.3 L1595.6 698.8 L1595.8 700.5 L1595.9 702.2 L1595.7 704.1 L1595.5 706 L1595 707.8 L1594.4 709.7 L1593.6 711.5 L1592.7 713.2 L1591.7 714.8 L1590.5 716.3 L1589.3 717.6 L1588.1 718.6 L1586.8 719.5 L1585.4 720.2 L1584.1 720.6 L1582.8 720.8 L1581.5 720.8 L1580.4 720.4 L1579.3 719.9 L1578.3 719.1 L1576.9 717.6 L1576.1 716.6 L1575.5 715.5 L1574.9 714.2 L1574.6 712.8 L1574.3 711.2 Z"/>
<path class="w" style="stroke-width:2.3" d="M1575.5 710.6 L1575.6 708.7 L1575.9 706.9 L1576.3 705 L1577 703.1 L1577.7 701.3 L1578.6 699.6 L1579.7 698 L1580.8 696.5 L1582 695.3 L1583.3 694.2 L1584.6 693.3 L1585.9 692.6 L1587.2 692.2 L1588.5 692 L1589.8 692.1 L1591 692.4 L1593.3 693.3 L1594.4 693.8 L1595.4 694.6 L1596.2 695.6 L1597 696.8 L1597.5 698.2 L1597.9 699.7 L1598.1 701.4 L1598.2 703.1 L1598.1 705 L1597.8 706.8 L1597.3 708.7 L1596.7 710.6 L1595.9 712.4 L1595 714.1 L1594 715.7 L1592.9 717.1 L1591.7 718.4 L1590.4 719.5 L1589.1 720.4 L1587.8 721.1 L1586.4 721.5 L1585.1 721.7 L1583.9 721.6 L1582.7 721.3 L1580.4 720.4 L1579.3 719.9 L1578.3 719.1 L1577.4 718.1 L1576.7 716.9 L1576.2 715.5 L1575.8 714 L1575.5 712.3 Z"/>
<path class="w" style="stroke-width:2.3" d="M1577.8 711.5 L1577.9 709.6 L1578.2 707.8 L1578.7 705.9 L1579.3 704 L1580.1 702.2 L1581 700.5 L1582 698.9 L1583.1 697.4 L1584.3 696.1 L1585.6 695 L1586.9 694.2 L1588.2 693.5 L1589.6 693.1 L1590.9 692.9 L1592.1 693 L1593.3 693.3 L1594.4 693.8 L1595.4 694.6 L1596.2 695.6 L1597 696.8 L1597.5 698.2 L1597.9 699.7 L1598.1 701.4 L1598.2 703.1 L1598.1 705 L1597.8 706.8 L1597.3 708.7 L1596.7 710.6 L1595.9 712.4 L1595 714.1 L1594 715.7 L1592.9 717.1 L1591.7 718.4 L1590.4 719.5 L1589.1 720.4 L1587.8 721.1 L1586.4 721.5 L1585.1 721.7 L1583.9 721.6 L1582.7 721.3 L1581.6 720.8 L1580.6 720 L1579.8 719 L1579.1 717.8 L1578.5 716.4 L1578.1 714.9 L1577.9 713.2 Z"/>
<path class="w" style="stroke-width:2.3" d="M1578.8 711.1 L1578.9 709.4 L1579.2 707.7 L1579.6 706 L1580.1 704.3 L1580.8 702.7 L1581.6 701.1 L1582.6 699.7 L1583.6 698.4 L1584.7 697.2 L1585.8 696.2 L1587 695.4 L1588.2 694.8 L1589.4 694.4 L1590.6 694.2 L1591.8 694.3 L1592.8 694.6 L1595.6 695.6 L1596.6 696.1 L1597.5 696.8 L1598.3 697.7 L1598.9 698.8 L1599.4 700.1 L1599.8 701.5 L1600 703 L1600 704.6 L1599.9 706.2 L1599.7 707.9 L1599.3 709.6 L1598.7 711.3 L1598 713 L1597.2 714.5 L1596.3 716 L1595.2 717.3 L1594.2 718.5 L1593 719.5 L1591.8 720.3 L1590.6 720.9 L1589.4 721.2 L1588.2 721.4 L1587.1 721.4 L1586 721.1 L1583.2 720 L1582.2 719.5 L1581.3 718.8 L1580.5 717.9 L1579.9 716.8 L1579.4 715.6 L1579 714.2 L1578.8 712.7 Z"/>
<path class="w" style="stroke-width:2.3" d="M1581.6 712.1 L1581.7 710.5 L1582 708.8 L1582.4 707.1 L1582.9 705.4 L1583.6 703.7 L1584.4 702.2 L1585.4 700.7 L1586.4 699.4 L1587.5 698.2 L1588.6 697.2 L1589.8 696.4 L1591 695.8 L1592.2 695.5 L1593.4 695.3 L1594.5 695.4 L1595.6 695.6 L1596.6 696.1 L1597.5 696.8 L1598.3 697.7 L1598.9 698.8 L1599.4 700.1 L1599.8 701.5 L1600 703 L1600 704.6 L1599.9 706.2 L1599.7 707.9 L1599.3 709.6 L1598.7 711.3 L1598 713 L1597.2 714.5 L1596.3 716 L1595.2 717.3 L1594.2 718.5 L1593 719.5 L1591.8 720.3 L1590.6 720.9 L1589.4 721.2 L1588.2 721.4 L1587.1 721.4 L1586 721.1 L1585 720.6 L1584.1 719.9 L1583.4 719 L1582.7 717.9 L1582.2 716.6 L1581.8 715.2 L1581.6 713.7 Z"/>
<path class="w" style="stroke-width:2.3" d="M1582.4 711.8 L1582.5 710.3 L1582.7 708.7 L1583.1 707.2 L1583.6 705.6 L1584.3 704.1 L1585 702.7 L1585.8 701.4 L1586.8 700.2 L1587.8 699.1 L1588.8 698.2 L1589.9 697.5 L1591 697 L1592.1 696.6 L1593.2 696.4 L1594.2 696.5 L1595.2 696.8 L1606 700.8 L1606.9 701.3 L1607.7 701.9 L1608.4 702.7 L1609 703.7 L1609.4 704.9 L1609.8 706.1 L1610 707.5 L1610 709 L1609.9 710.5 L1609.7 712 L1609.3 713.6 L1608.8 715.1 L1608.1 716.6 L1607.4 718 L1606.5 719.4 L1605.6 720.6 L1604.6 721.6 L1603.6 722.5 L1602.5 723.3 L1601.4 723.8 L1600.3 724.2 L1599.2 724.3 L1598.2 724.3 L1597.2 724 L1586.4 720 L1585.5 719.5 L1584.7 718.9 L1584 718 L1583.4 717 L1583 715.9 L1582.6 714.6 L1582.4 713.3 Z"/>
<path class="w" style="stroke-width:2.3" d="M1592.7 716.1 L1592.8 714.5 L1593 712.8 L1593.4 711.2 L1594 709.5 L1594.7 708 L1595.4 706.5 L1596.3 705.1 L1597.3 703.8 L1598.4 702.7 L1599.5 701.7 L1600.6 701 L1601.8 700.4 L1602.9 700 L1604.1 699.8 L1605.2 699.9 L1606.2 700.2 L1607.2 700.6 L1608 701.3 L1608.8 702.2 L1609.4 703.2 L1609.9 704.4 L1610.2 705.8 L1610.4 707.2 L1610.5 708.8 L1610.4 710.4 L1610.1 712 L1609.7 713.7 L1609.2 715.3 L1608.5 716.9 L1607.7 718.4 L1606.8 719.8 L1605.8 721 L1604.8 722.1 L1603.7 723.1 L1602.5 723.9 L1601.4 724.5 L1600.2 724.8 L1599.1 725 L1598 724.9 L1596.9 724.7 L1596 724.2 L1595.1 723.5 L1594.4 722.6 L1593.8 721.6 L1593.3 720.4 L1592.9 719 L1592.7 717.6 Z"/>
<path class="w" style="stroke-width:2.3" d="M1592.7 716.1 L1592.8 714.5 L1593 712.8 L1593.4 711.2 L1594 709.5 L1594.7 708 L1595.4 706.5 L1596.3 705.1 L1597.3 703.8 L1598.4 702.7 L1599.5 701.7 L1600.6 701 L1601.8 700.4 L1602.9 700 L1604.1 699.8 L1605.2 699.9 L1606.2 700.2 L1608.1 700.9 L1609 701.4 L1609.9 702 L1610.6 702.9 L1611.2 704 L1611.7 705.1 L1612.1 706.5 L1612.3 707.9 L1612.3 709.5 L1612.2 711.1 L1612 712.7 L1611.6 714.4 L1611 716 L1610.4 717.6 L1609.6 719.1 L1608.7 720.5 L1607.7 721.7 L1606.7 722.9 L1605.5 723.8 L1604.4 724.6 L1603.2 725.2 L1602.1 725.5 L1600.9 725.7 L1599.8 725.6 L1598.8 725.4 L1596.9 724.7 L1596 724.2 L1595.1 723.5 L1594.4 722.6 L1593.8 721.6 L1593.3 720.4 L1592.9 719 L1592.7 717.6 Z"/>
<path class="w" style="stroke-width:2.3" d="M1594.5 716.8 L1594.7 715.2 L1594.9 713.5 L1595.3 711.9 L1595.8 710.2 L1596.5 708.7 L1597.3 707.2 L1598.2 705.8 L1599.2 704.5 L1600.2 703.4 L1601.3 702.4 L1602.5 701.6 L1603.7 701.1 L1604.8 700.7 L1606 700.5 L1607 700.6 L1608.1 700.9 L1609 701.4 L1609.9 702 L1610.6 702.9 L1611.2 704 L1611.7 705.1 L1612.1 706.5 L1612.3 707.9 L1612.3 709.5 L1612.2 711.1 L1612 712.7 L1611.6 714.4 L1611 716 L1610.4 717.6 L1609.6 719.1 L1608.7 720.5 L1607.7 721.7 L1606.7 722.9 L1605.5 723.8 L1604.4 724.6 L1603.2 725.2 L1602.1 725.5 L1600.9 725.7 L1599.8 725.6 L1598.8 725.4 L1597.9 724.9 L1597 724.2 L1596.3 723.4 L1595.6 722.3 L1595.2 721.1 L1594.8 719.8 L1594.6 718.3 Z"/>
<path class="w" style="stroke-width:2.3" d="M1595.2 716.5 L1595.3 715 L1595.6 713.5 L1595.9 712 L1596.4 710.5 L1597 709 L1597.8 707.6 L1598.6 706.3 L1599.5 705.2 L1600.5 704.1 L1601.5 703.2 L1602.6 702.5 L1603.6 702 L1604.7 701.6 L1605.8 701.5 L1606.8 701.5 L1607.7 701.8 L1611.4 703.4 L1612.3 703.8 L1613 704.5 L1613.7 705.2 L1614.3 706.2 L1614.7 707.3 L1615 708.5 L1615.2 709.8 L1615.3 711.2 L1615.2 712.7 L1614.9 714.2 L1614.6 715.7 L1614.1 717.1 L1613.5 718.6 L1612.8 719.9 L1612 721.2 L1611.1 722.4 L1610.1 723.4 L1609.1 724.2 L1608 725 L1607 725.5 L1605.9 725.8 L1604.9 726 L1603.9 725.9 L1603 725.7 L1599.2 724.4 L1598.3 724 L1597.5 723.4 L1596.8 722.6 L1596.2 721.6 L1595.8 720.5 L1595.5 719.2 L1595.3 717.9 Z"/>
<path class="w" style="stroke-width:2.3" d="M1599.1 717.8 L1599.2 716.4 L1599.4 714.9 L1599.8 713.4 L1600.3 711.9 L1600.9 710.5 L1601.6 709.1 L1602.4 707.9 L1603.3 706.7 L1604.3 705.7 L1605.3 704.8 L1606.3 704.1 L1607.4 703.6 L1608.4 703.2 L1609.5 703.1 L1610.5 703.2 L1611.4 703.4 L1612.3 703.8 L1613 704.5 L1613.7 705.2 L1614.7 706.4 L1615.2 707.3 L1615.6 708.3 L1615.9 709.5 L1616.1 710.7 L1616.1 712 L1616 713.3 L1615.8 714.7 L1615.5 716.1 L1615 717.5 L1614.5 718.8 L1613.8 720.1 L1613 721.3 L1612.2 722.4 L1611.3 723.3 L1610.4 724.1 L1609.4 724.8 L1608.4 725.3 L1607.4 725.6 L1605.9 725.8 L1604.9 726 L1603.9 725.9 L1603 725.7 L1602.1 725.2 L1601.3 724.6 L1600.7 723.8 L1600.1 722.9 L1599.7 721.8 L1599.3 720.6 L1599.2 719.2 Z"/>
<path class="w" style="stroke-width:2.3" d="M1612.5 704.7 L1613.3 705.1 L1614 705.7 L1614.7 706.4 L1615.2 707.3 L1615.6 708.3 L1615.9 709.4 L1616.1 710.7 L1616.1 712 L1616 713.3 L1615.8 714.7 L1615.5 716.1 L1615 717.5 L1614.5 718.8 L1613.8 720.1 L1613 721.3 L1612.2 722.4 L1611.3 723.3 L1610.4 724.1 L1609.4 724.8 L1608.4 725.3 L1607.4 725.6 L1606.5 725.7 L1605.5 725.7 L1604.7 725.5 L1603.9 725 L1603.1 724.5 L1602.5 723.7 L1602 722.8 L1601.6 721.8 L1601.3 720.7 L1601.1 719.5 L1601.1 718.2 L1601.1 716.8 L1601.4 715.4 L1601.7 714 L1602.2 712.6 L1602.7 711.3 L1603.4 710 L1604.1 708.8 L1605 707.8 L1605.9 706.8 L1606.8 706 L1607.8 705.3 L1608.8 704.9 L1609.8 704.5 L1610.7 704.4 L1611.6 704.5 Z"/>
<path class="m" d="M1583.9 716.2 L1593.2 719.7" style="stroke-width:2.6"/>
<path class="m" d="M1584.4 706.4 L1593.8 709.9" style="stroke-width:2.6"/>
<path class="m" d="M1590.5 698.1 L1599.8 701.6" style="stroke-width:2.6"/>
<path class="w" d="M1614 704.5 L1614.5 704.7 L1615 705 L1615.5 705.3 L1615.9 705.7 L1616.3 706.1 L1616.7 706.6 L1617.1 707.1 L1617.4 707.7 L1617.7 708.3 L1617.9 708.9 L1618.1 709.6 L1618.3 710.3 L1618.4 711 L1618.5 711.7 L1618.5 712.5 L1618.5 713.3 L1618.5 714.1 L1618.4 714.8 L1618.3 715.6 L1618.1 716.4 L1617.9 717.2 L1617.6 718 L1617.3 718.8 L1617 719.5 L1616.6 720.3 L1616.2 721 L1615.8 721.7 L1615.3 722.3 L1614.9 722.9 L1614.4 723.5 L1613.8 724.1 L1613.3 724.6 L1612.7 725 L1612.1 725.5 L1611.5 725.8 L1610.9 726.1 L1610.3 726.4 L1609.7 726.6 L1609.1 726.8 L1608.5 726.9 L1607.9 726.9 L1607.3 726.9 L1606.7 726.8 L1606.2 726.7 L1605.6 726.5 L1605.1 726.3 L1604.6 726 L1604.1 725.7 L1603.7 725.3 L1603.3 724.9 L1602.9 724.4 L1602.5 723.9 L1602.2 723.3 L1601.9 722.7 L1601.7 722.1 L1601.5 721.4 L1601.3 720.7 L1601.2 720 L1601.1 719.3 L1601.1 718.5 L1601.1 717.7 L1601.1 716.9 L1601.2 716.2 L1601.3 715.4 L1601.5 714.6 L1601.7 713.8 L1602 713 L1602.3 712.2 L1602.6 711.5 L1603 710.7 L1603.4 710 L1603.8 709.3 L1604.3 708.7 L1604.7 708.1 L1605.2 707.5 L1605.8 706.9 L1606.3 706.4 L1606.9 706 L1607.5 705.5 L1608.1 705.2 L1608.7 704.9 L1609.3 704.6 L1609.9 704.4 L1610.5 704.2 L1611.1 704.1 L1611.7 704.1 L1612.3 704.1 L1612.9 704.2 L1613.4 704.3 Z" style="stroke-width:3"/>
</g>
<g id="nut9">
<path class="w" style="stroke-width:3.3" d="M1623.6 802.9 L1623.9 800 L1624.4 797 L1625.1 793.9 L1626.2 790.9 L1627.4 787.9 L1628.9 784.9 L1630.5 782.2 L1632.4 779.6 L1634.3 777.3 L1636.3 775.2 L1638.5 773.5 L1640.6 772.1 L1642.7 771.1 L1644.8 770.4 L1646.8 770.2 L1648.6 770.3 L1650.3 770.9 L1651.9 771.8 L1655.5 774.4 L1656.8 775.6 L1657.9 777.2 L1658.7 779.2 L1659.3 781.4 L1659.6 783.8 L1659.7 786.5 L1659.4 789.3 L1658.9 792.2 L1658.2 795.1 L1657.2 798.1 L1656 801 L1654.6 803.8 L1653 806.5 L1651.2 809 L1649.3 811.2 L1647.3 813.2 L1645.3 814.9 L1643.2 816.3 L1641.2 817.3 L1639.2 817.9 L1637.3 818.1 L1635.5 818 L1631.2 816.9 L1629.5 816.3 L1627.9 815.4 L1626.6 814 L1625.5 812.4 L1624.6 810.4 L1624 808.1 L1623.7 805.6 Z"/>
<path class="w" style="stroke-width:3.3" d="M1628.2 804.4 L1628.4 801.6 L1628.9 798.7 L1629.6 795.8 L1630.6 792.8 L1631.8 789.9 L1633.2 787 L1634.8 784.4 L1636.6 781.9 L1638.5 779.6 L1640.5 777.6 L1642.5 776 L1644.6 774.6 L1646.6 773.6 L1648.6 773 L1650.5 772.8 L1652.3 772.9 L1654 773.5 L1655.5 774.4 L1656.8 775.6 L1659.6 778.6 L1660.6 780.1 L1661.4 781.9 L1661.9 784 L1662.2 786.3 L1662.2 788.7 L1662 791.3 L1661.6 794 L1660.9 796.8 L1660 799.6 L1658.8 802.3 L1657.5 804.9 L1656 807.4 L1654.3 809.8 L1652.6 811.9 L1650.7 813.7 L1648.8 815.3 L1646.9 816.6 L1645 817.5 L1643.1 818.1 L1641.3 818.3 L1637.3 818.1 L1635.5 818 L1633.8 817.4 L1632.3 816.5 L1631 815.2 L1629.9 813.6 L1629.1 811.7 L1628.5 809.5 L1628.2 807 Z"/>
<path class="w" style="stroke-width:3" d="M1632.8 805.5 L1633 802.9 L1633.5 800.2 L1634.2 797.4 L1635.1 794.6 L1636.2 791.9 L1637.6 789.3 L1639.1 786.8 L1640.7 784.5 L1642.5 782.4 L1644.3 780.5 L1646.2 778.9 L1648.2 777.7 L1650.1 776.7 L1651.9 776.1 L1653.7 775.9 L1655.4 776.1 L1657 776.6 L1658.4 777.4 L1659.6 778.6 L1660.6 780.1 L1661.4 781.9 L1661.9 784 L1662.2 786.3 L1662.2 788.7 L1662 791.3 L1661.6 794 L1660.9 796.8 L1660 799.6 L1658.8 802.3 L1657.5 804.9 L1656 807.4 L1654.3 809.8 L1652.6 811.9 L1650.7 813.7 L1648.8 815.3 L1646.9 816.6 L1645 817.5 L1643.1 818.1 L1641.3 818.3 L1639.6 818.1 L1638.1 817.6 L1636.7 816.8 L1635.5 815.6 L1634.5 814.1 L1633.7 812.3 L1633.2 810.2 L1632.9 808 Z"/>
<path class="w" style="stroke-width:2.6" d="M1634.2 804.7 L1634.4 802.3 L1634.8 799.9 L1635.4 797.4 L1636.3 794.9 L1637.3 792.4 L1638.5 790 L1639.8 787.7 L1641.3 785.6 L1642.9 783.7 L1644.6 782 L1646.3 780.6 L1648.1 779.5 L1649.8 778.6 L1651.5 778.1 L1653.2 777.9 L1654.7 778 L1656.1 778.5 L1657.4 779.3 L1671.3 788.2 L1672.3 789.2 L1673.1 790.4 L1673.8 791.8 L1674.2 793.5 L1674.4 795.3 L1674.5 797.3 L1674.3 799.4 L1673.9 801.6 L1673.4 803.8 L1672.6 806 L1671.7 808.2 L1670.6 810.4 L1669.4 812.4 L1668.1 814.2 L1666.7 815.9 L1665.2 817.4 L1663.7 818.7 L1662.1 819.7 L1660.6 820.5 L1659.1 820.9 L1657.6 821.1 L1656.3 821 L1640.4 816.2 L1639 815.7 L1637.7 815 L1636.6 813.9 L1635.7 812.5 L1635 810.9 L1634.5 809 L1634.2 807 Z"/>
<path class="w" style="stroke-width:2.6" d="M1650.8 810.8 L1650.9 808.7 L1651.3 806.5 L1651.9 804.3 L1652.6 802.1 L1653.5 799.9 L1654.6 797.7 L1655.8 795.7 L1657.1 793.9 L1658.5 792.2 L1660 790.7 L1661.6 789.4 L1663.1 788.4 L1664.7 787.6 L1666.2 787.2 L1667.6 787 L1669 787.1 L1670.2 787.5 L1671.3 788.2 L1672.3 789.2 L1673.1 790.4 L1673.8 791.8 L1674.2 793.5 L1674.4 795.3 L1674.5 797.3 L1674.3 799.4 L1673.9 801.6 L1673.4 803.8 L1672.6 806 L1671.7 808.2 L1670.6 810.4 L1669.4 812.4 L1668.1 814.2 L1666.7 815.9 L1665.2 817.4 L1663.7 818.7 L1662.1 819.7 L1660.6 820.5 L1659.1 820.9 L1657.6 821.1 L1656.3 821 L1655 820.6 L1653.9 819.9 L1652.9 818.9 L1652.1 817.7 L1651.5 816.3 L1651 814.6 L1650.8 812.8 Z"/>
<path class="w" style="stroke-width:2.6" d="M1652.6 809.8 L1652.7 808 L1653 806.1 L1653.5 804.2 L1654.1 802.4 L1654.9 800.5 L1655.8 798.7 L1656.8 797 L1658 795.4 L1659.2 794 L1660.4 792.7 L1661.7 791.6 L1663 790.8 L1664.3 790.2 L1665.6 789.8 L1666.8 789.6 L1668 789.7 L1669 790.1 L1680.6 796 L1681.5 796.6 L1682.3 797.4 L1683 798.4 L1683.5 799.5 L1683.8 800.9 L1684 802.4 L1684.1 804 L1683.9 805.7 L1683.6 807.5 L1683.2 809.3 L1682.6 811.1 L1681.8 812.9 L1681 814.6 L1680 816.2 L1678.9 817.8 L1677.7 819.1 L1676.5 820.4 L1675.3 821.4 L1674 822.2 L1672.8 822.8 L1671.5 823.2 L1670.4 823.4 L1669.3 823.2 L1668.2 822.9 L1656.2 818 L1655.2 817.5 L1654.4 816.6 L1653.7 815.6 L1653.2 814.4 L1652.8 813 L1652.6 811.4 Z"/>
<path class="w" style="stroke-width:2.6" d="M1664.8 815 L1664.9 813.3 L1665.2 811.5 L1665.7 809.7 L1666.3 807.9 L1667 806.1 L1667.9 804.4 L1668.9 802.7 L1670 801.2 L1671.1 799.8 L1672.3 798.6 L1673.6 797.6 L1674.8 796.7 L1676.1 796.1 L1677.3 795.8 L1678.5 795.6 L1679.6 795.7 L1680.6 796 L1681.5 796.6 L1682.3 797.4 L1683 798.4 L1684.3 801.5 L1684.6 802.6 L1684.8 804 L1684.8 805.4 L1684.7 807 L1684.4 808.5 L1684 810.1 L1683.5 811.8 L1682.8 813.4 L1682.1 814.9 L1681.2 816.4 L1680.2 817.7 L1679.2 818.9 L1678.1 820 L1677 820.9 L1675.9 821.7 L1674.8 822.2 L1673.7 822.6 L1671.5 823.2 L1670.4 823.4 L1669.3 823.2 L1668.2 822.9 L1667.3 822.4 L1666.5 821.6 L1665.9 820.6 L1665.4 819.4 L1665 818.1 L1664.8 816.6 Z"/>
<path class="w" style="stroke-width:2.6" d="M1681.8 798.3 L1682.6 798.8 L1683.3 799.5 L1683.9 800.4 L1684.3 801.4 L1684.6 802.6 L1684.8 804 L1684.8 805.4 L1684.7 806.9 L1684.4 808.5 L1684 810.1 L1683.5 811.8 L1682.8 813.3 L1682.1 814.9 L1681.2 816.3 L1680.2 817.7 L1679.2 818.9 L1678.1 820 L1677 820.9 L1675.9 821.7 L1674.8 822.2 L1673.7 822.6 L1672.6 822.7 L1671.6 822.6 L1670.7 822.3 L1669.9 821.8 L1669.2 821.1 L1668.6 820.2 L1668.2 819.2 L1667.8 818 L1667.7 816.6 L1667.6 815.2 L1667.8 813.7 L1668 812.1 L1668.4 810.5 L1669 808.9 L1669.6 807.3 L1670.4 805.7 L1671.3 804.3 L1672.3 802.9 L1673.3 801.7 L1674.4 800.6 L1675.5 799.7 L1676.6 799 L1677.7 798.4 L1678.8 798.1 L1679.9 797.9 L1680.8 798 Z"/>
<path class="m" d="M1635.6 808.4 L1650.4 813.3" style="stroke-width:2.8"/>
<path class="m" d="M1638.9 792.3 L1653.3 799.1" style="stroke-width:2.8"/>
<path class="m" d="M1648.3 780.7 L1661.7 788.8" style="stroke-width:2.8"/>
<path class="m" d="M1655.9 816.7 L1667.1 821.2" style="stroke-width:3.8"/>
<path class="m" d="M1654.5 810.6 L1665.8 815.4" style="stroke-width:3.8"/>
<path class="m" d="M1656 803.3 L1667.3 808.4" style="stroke-width:3.8"/>
<path class="m" d="M1659.8 796.5 L1670.9 801.8" style="stroke-width:3.8"/>
<path class="m" d="M1664.8 791.8 L1675.6 797.4" style="stroke-width:3.8"/>
<path class="m" d="M1669.4 790.7 L1680.1 796.3" style="stroke-width:3.8"/>
<path class="m" d="M1680 802.1 L1680.3 802.3 L1680.6 802.5 L1680.9 802.8 L1681.1 803 L1681.3 803.3 L1681.5 803.7 L1681.7 804.1 L1681.8 804.5 L1682 804.9 L1682 805.4 L1682.1 805.9 L1682.1 806.4 L1682.1 806.9 L1682.1 807.5 L1682.1 808 L1682 808.6 L1681.9 809.2 L1681.7 809.8 L1681.6 810.4 L1681.4 811 L1681.2 811.5 L1680.9 812.1 L1680.6 812.7 L1680.4 813.2 L1680.1 813.8 L1679.7 814.3 L1679.4 814.8 L1679 815.3 L1678.7 815.8 L1678.3 816.2 L1677.9 816.6 L1677.5 817 L1677.1 817.3 L1676.7 817.6 L1676.3 817.9 L1675.9 818.2 L1675.5 818.4 L1675.1 818.5 L1674.7 818.6 L1674.3 818.7 L1673.9 818.8 L1673.5 818.7 L1673.1 818.7 L1672.8 818.6 L1672.5 818.5 L1672.2 818.3 L1671.9 818.1 L1671.6 817.9 L1671.4 817.6 L1671.2 817.3 L1671 816.9 L1670.8 816.6 L1670.6 816.1 L1670.5 815.7 L1670.4 815.2 L1670.4 814.7 L1670.3 814.2 L1670.3 813.7 L1670.4 813.2 L1670.4 812.6 L1670.5 812 L1670.6 811.4 L1670.8 810.9 L1670.9 810.3 L1671.1 809.7 L1671.3 809.1 L1671.6 808.5 L1671.8 807.9 L1672.1 807.4 L1672.4 806.8 L1672.7 806.3 L1673.1 805.8 L1673.4 805.3 L1673.8 804.9 L1674.2 804.4 L1674.6 804 L1675 803.6 L1675.4 803.3 L1675.8 803 L1676.2 802.7 L1676.6 802.5 L1677 802.3 L1677.4 802.1 L1677.8 802 L1678.2 801.9 L1678.6 801.9 L1679 801.9 L1679.3 801.9 L1679.7 802 Z" style="stroke-width:4"/>
<path class="m" d="M1681.6 803 L1683.6 800.2" style="stroke-width:2.6"/>
<path class="m" d="M1681.6 811 L1683.6 811.2" style="stroke-width:2.6"/>
<path class="m" d="M1676.3 818.3 L1676.3 821.3" style="stroke-width:2.6"/>
<path class="m" d="M1670.9 817.7 L1668.9 820.4" style="stroke-width:2.6"/>
<path class="m" d="M1670.9 809.7 L1668.9 809.4" style="stroke-width:2.6"/>
<path class="m" d="M1676.2 802.3 L1676.2 799.3" style="stroke-width:2.6"/>
</g>
<g id="pin12">
<path class="k" style="stroke-width:0.6" d="M1733.1 800.8 C1733.9 800.9 1736.1 801.5 1736.9 802.1 C1737.7 802.8 1739.2 804.9 1739.7 806 C1740.1 807.1 1740.5 809.6 1740.5 810.9 C1740.5 812.3 1740.1 815.6 1739.7 817 C1739.2 818.3 1737.6 820.8 1736.9 821.9 C1736.2 823 1735.1 824.9 1734.2 825.5 C1733.3 826.1 1730.8 826.5 1729.8 826.9 C1728.7 827.2 1727.1 827.8 1725.9 828.5 C1724.8 829.2 1722.1 831.2 1720.4 832.3 C1718.8 833.4 1714.6 836 1712.8 837.3 C1710.9 838.5 1707.1 841.4 1705.6 842.2 C1704.2 843.1 1702.2 843.8 1701.2 843.9 C1700.2 843.9 1698.2 843.3 1697.4 842.8 C1696.6 842.3 1695.3 840.2 1694.6 840 C1693.9 839.9 1692.6 841.7 1691.9 841.7 C1691.2 841.7 1689.7 840.8 1689.1 840 C1688.6 839.3 1687.6 836.7 1687.5 835.6 C1687.4 834.6 1687.8 832.5 1688.3 831.8 C1688.8 831.1 1690.1 831 1691.3 830.1 C1692.6 829.3 1696.2 826.2 1698.5 824.7 C1700.7 823.1 1706.7 819.2 1709.5 817.5 C1712.2 815.8 1718.6 812.2 1720.4 810.9 C1722.3 809.7 1723.4 808.6 1724.3 807.6 C1725.2 806.7 1726.8 804 1727.6 803.2 C1728.3 802.4 1729.6 801.6 1730.3 801.3 C1731 801 1732.2 800.7 1733.1 800.8 Z"/>
<path d="M1696 832.9 C1697.8 831.7 1706.8 826 1710.6 823.6 C1714.3 821.1 1724 814.7 1725.9 813.4" fill="none" stroke="#fff" stroke-width="1.9" stroke-linecap="round" stroke-linejoin="round"/>
<path d="M1705.3 835.7 C1706.7 834.8 1713.3 830.3 1716 828.5 C1718.8 826.7 1725.7 822.4 1727.6 821.4 C1729.5 820.3 1730.5 821 1731.4 820.4 C1732.4 819.8 1734.5 817.8 1735 816.7 C1735.5 815.6 1735.5 812.6 1735.4 811.5 C1735.3 810.4 1734.7 808.5 1734.2 807.9 C1733.6 807.3 1731.3 806.8 1730.9 806.6" fill="none" stroke="#fff" stroke-width="1.9" stroke-linecap="round" stroke-linejoin="round"/>
<ellipse class="k" cx="1730.3" cy="813.7" rx="3.6" ry="4.2" transform="rotate(25 1730.3 813.7)"/>
<ellipse fill="#fff" cx="1730.3" cy="813.7" rx="1.3" ry="1.9" transform="rotate(35 1730.3 813.7)"/>
<circle fill="#fff" cx="1691.3" cy="836.7" r="0.9"/>
<circle fill="#fff" cx="1700.1" cy="837.8" r="1.3"/>
</g>
<g id="cap5">
<path class="w" style="stroke-width:3" d="M1729.9 875 L1730.2 870.7 L1731 866.1 L1732.2 861.6 L1733.7 857 L1735.7 852.5 L1737.9 848.1 L1740.5 844 L1743.3 840.2 L1746.3 836.8 L1749.5 833.8 L1752.8 831.2 L1756.1 829.2 L1759.4 827.8 L1762.6 826.9 L1765.8 826.7 L1768.7 827 L1771.4 827.9 L1775.9 830.1 L1778.3 831.6 L1780.4 833.6 L1782.2 836.2 L1783.6 839.3 L1784.5 842.8 L1785.1 846.6 L1785.2 850.7 L1784.9 855.1 L1784.1 859.6 L1783 864.2 L1781.4 868.8 L1779.5 873.3 L1777.2 877.6 L1774.6 881.7 L1771.8 885.5 L1768.8 889 L1765.6 892 L1762.3 894.5 L1759 896.5 L1755.7 898 L1752.5 898.8 L1749.4 899.1 L1746.4 898.8 L1743.7 897.8 L1739.2 895.7 L1736.8 894.2 L1734.7 892.1 L1732.9 889.5 L1731.5 886.5 L1730.6 883 L1730 879.2 Z"/>
<path class="w" style="stroke-width:2.6" d="M1734.4 877.2 L1734.8 872.8 L1735.5 868.3 L1736.7 863.7 L1738.2 859.1 L1740.2 854.6 L1742.4 850.3 L1745 846.2 L1747.8 842.4 L1750.8 838.9 L1754 835.9 L1757.3 833.4 L1760.6 831.4 L1763.9 829.9 L1767.2 829.1 L1770.3 828.8 L1773.2 829.1 L1775.9 830.1 L1778.3 831.6 L1780.4 833.6 L1782.2 836.2 L1783.6 839.3 L1784.5 842.8 L1785.1 846.6 L1785.2 850.7 L1784.9 855.1 L1784.1 859.6 L1783 864.2 L1781.4 868.8 L1779.5 873.3 L1777.2 877.6 L1774.6 881.7 L1771.8 885.5 L1768.8 889 L1765.6 892 L1762.3 894.5 L1759 896.5 L1755.7 898 L1752.5 898.8 L1749.4 899.1 L1746.4 898.8 L1743.7 897.8 L1741.3 896.3 L1739.2 894.2 L1737.4 891.7 L1736.1 888.6 L1735.1 885.1 L1734.5 881.3 Z"/>
<path class="w" style="stroke-width:3.2" d="M1735.3 876.7 L1735.6 872.5 L1736.3 868.1 L1737.5 863.7 L1739 859.3 L1740.8 854.9 L1743 850.8 L1745.5 846.8 L1748.2 843.1 L1751.2 839.8 L1754.2 836.9 L1757.4 834.5 L1760.6 832.5 L1763.8 831.1 L1766.9 830.3 L1769.9 830 L1772.7 830.4 L1775.3 831.2 L1777.6 832.3 L1780 833.8 L1782 835.8 L1783.7 838.2 L1785 841.2 L1785.9 844.6 L1786.5 848.3 L1786.6 852.2 L1786.3 856.5 L1785.5 860.8 L1784.4 865.2 L1782.9 869.7 L1781 874 L1778.8 878.2 L1776.4 882.2 L1773.7 885.9 L1770.7 889.2 L1767.7 892.1 L1764.5 894.5 L1761.3 896.4 L1758.1 897.8 L1755 898.7 L1752 898.9 L1749.2 898.6 L1746.5 897.7 L1744.3 896.6 L1742 895.2 L1739.9 893.2 L1738.2 890.7 L1736.9 887.8 L1736 884.4 L1735.4 880.7 Z"/>
<path class="w" style="stroke-width:3" d="M1737.6 877.8 L1737.9 873.6 L1738.6 869.2 L1739.7 864.8 L1741.2 860.4 L1743.1 856 L1745.3 851.8 L1747.8 847.9 L1750.5 844.2 L1753.4 840.9 L1756.5 838 L1759.6 835.5 L1762.8 833.6 L1766 832.2 L1769.2 831.4 L1772.2 831.1 L1775 831.4 L1777.6 832.3 L1779.7 833.3 L1782 834.8 L1784.1 836.8 L1785.8 839.2 L1787.1 842.2 L1788 845.5 L1788.5 849.2 L1788.7 853.2 L1788.3 857.5 L1787.6 861.8 L1786.5 866.2 L1785 870.7 L1783.1 875 L1780.9 879.2 L1778.5 883.2 L1775.7 886.8 L1772.8 890.1 L1769.8 893.1 L1766.6 895.5 L1763.4 897.4 L1760.2 898.8 L1757.1 899.7 L1754.1 899.9 L1751.2 899.6 L1748.6 898.7 L1746.5 897.7 L1744.2 896.3 L1742.2 894.3 L1740.5 891.8 L1739.1 888.8 L1738.2 885.5 L1737.7 881.8 Z"/>
<path class="w" style="stroke-width:3" d="M1739.7 878.8 L1740 874.5 L1740.7 870.2 L1741.8 865.8 L1743.3 861.3 L1745.2 857 L1747.4 852.8 L1749.8 848.8 L1752.6 845.2 L1755.5 841.9 L1758.6 839 L1761.7 836.5 L1764.9 834.6 L1768.1 833.2 L1771.2 832.4 L1774.2 832.1 L1777.1 832.4 L1779.7 833.3 L1782 834.8 L1784.1 836.8 L1785.8 839.2 L1787.2 841.6 L1788.5 844.4 L1789.4 847.6 L1789.9 851.1 L1790 855 L1789.7 859 L1789 863.1 L1787.9 867.4 L1786.5 871.6 L1784.7 875.8 L1782.6 879.8 L1780.3 883.6 L1777.7 887.1 L1774.9 890.2 L1771.9 893 L1768.9 895.4 L1765.8 897.2 L1762.8 898.5 L1759.8 899.3 L1757.1 899.7 L1754.1 899.9 L1751.2 899.6 L1748.6 898.7 L1746.3 897.2 L1744.2 895.3 L1742.5 892.8 L1741.2 889.8 L1740.3 886.5 L1739.8 882.8 Z"/>
<path class="w" style="stroke-width:2.6" d="M1743.2 879.4 L1743.5 875.3 L1744.2 871.2 L1745.2 866.9 L1746.7 862.7 L1748.5 858.5 L1750.6 854.5 L1752.9 850.8 L1755.5 847.2 L1758.3 844.1 L1761.2 841.3 L1764.3 839 L1767.3 837.1 L1770.4 835.8 L1773.4 835 L1776.2 834.7 L1778.9 835 L1781.4 835.9 L1783.7 837.3 L1807.6 854.8 L1809.2 856.4 L1810.5 858.4 L1811.6 860.7 L1812.4 863.4 L1812.8 866.4 L1812.9 869.6 L1812.6 873 L1812 876.5 L1811.1 880 L1809.9 883.5 L1808.4 887 L1806.7 890.4 L1804.7 893.6 L1802.5 896.5 L1800.2 899.2 L1797.7 901.5 L1795.2 903.4 L1792.6 905 L1790.1 906.1 L1787.6 906.8 L1785.2 907 L1782.9 906.7 L1754.2 899.3 L1751.8 898.4 L1749.5 897 L1747.6 895.1 L1745.9 892.7 L1744.7 889.9 L1743.8 886.7 L1743.3 883.2 Z"/>
<path class="w" style="stroke-width:2.6" d="M1773.6 890 L1773.9 886.7 L1774.4 883.2 L1775.3 879.6 L1776.5 876.1 L1778 872.6 L1779.8 869.2 L1781.8 866.1 L1784 863.1 L1786.3 860.5 L1788.8 858.1 L1791.3 856.2 L1793.9 854.6 L1796.4 853.5 L1798.9 852.9 L1801.3 852.6 L1803.6 852.9 L1807.4 854.1 L1809.5 854.8 L1811.5 856 L1813.1 857.6 L1814.5 859.6 L1815.6 862.1 L1816.4 864.8 L1816.8 867.8 L1816.9 871.1 L1816.6 874.5 L1816 878.1 L1815.1 881.7 L1813.9 885.3 L1812.4 888.9 L1810.6 892.3 L1808.5 895.6 L1806.3 898.6 L1803.9 901.3 L1801.4 903.6 L1798.8 905.6 L1796.2 907.2 L1793.6 908.4 L1791.1 909 L1788.6 909.3 L1786.3 909 L1784.2 908.3 L1782.2 907.1 L1778.9 904.9 L1777.3 903.2 L1775.9 901.3 L1774.9 898.9 L1774.1 896.2 L1773.7 893.2 Z"/>
<path class="w" style="stroke-width:2.6" d="M1776.8 892 L1777.1 888.5 L1777.7 885 L1778.6 881.3 L1779.8 877.7 L1781.3 874.2 L1783.1 870.7 L1785.2 867.5 L1787.4 864.5 L1789.8 861.8 L1792.3 859.4 L1794.9 857.4 L1797.5 855.8 L1800.1 854.7 L1802.7 854 L1805.1 853.8 L1807.4 854.1 L1809.5 854.8 L1811.5 856 L1813.1 857.6 L1814.5 859.6 L1815.6 862.1 L1816.4 864.8 L1816.9 866.8 L1817.3 869.6 L1817.3 872.7 L1817.1 875.9 L1816.5 879.2 L1815.7 882.6 L1814.5 885.9 L1813.1 889.3 L1811.5 892.5 L1809.6 895.5 L1807.5 898.3 L1805.3 900.8 L1802.9 903 L1800.5 904.9 L1798.1 906.4 L1796.2 907.2 L1793.6 908.4 L1791.1 909 L1788.6 909.3 L1786.3 909 L1784.2 908.3 L1782.2 907.1 L1780.6 905.5 L1779.2 903.4 L1778.1 901 L1777.3 898.3 L1776.9 895.2 Z"/>
<path class="w" style="stroke-width:2.6" d="M1810.5 857.5 L1812.3 858.6 L1813.8 860.1 L1815.1 862 L1816.1 864.2 L1816.9 866.8 L1817.3 869.6 L1817.3 872.7 L1817.1 875.9 L1816.6 879.2 L1815.7 882.6 L1814.5 885.9 L1813.1 889.3 L1811.5 892.5 L1809.6 895.5 L1807.5 898.3 L1805.3 900.8 L1802.9 903 L1800.5 904.9 L1798.1 906.3 L1795.6 907.4 L1793.3 908.1 L1791 908.2 L1788.8 908 L1786.8 907.3 L1785 906.2 L1783.5 904.7 L1782.2 902.8 L1781.2 900.5 L1780.5 898 L1780.1 895.2 L1780 892.1 L1780.2 888.9 L1780.8 885.6 L1781.6 882.2 L1782.8 878.8 L1784.2 875.5 L1785.9 872.3 L1787.8 869.3 L1789.8 866.5 L1792.1 864 L1794.4 861.8 L1796.8 859.9 L1799.2 858.4 L1801.7 857.4 L1804.1 856.7 L1806.4 856.5 L1808.5 856.8 Z"/>
<path class="m" d="M1735.5 892.3 L1737.9 893.4" style="stroke-width:1.2"/>
<path class="m" d="M1732.8 887.4 L1735.1 888.5" style="stroke-width:1.2"/>
<path class="m" d="M1731.3 881.2 L1733.6 882.4" style="stroke-width:1.2"/>
<path class="m" d="M1731.1 874.1 L1733.4 875.2" style="stroke-width:1.2"/>
<path class="m" d="M1732.1 866.4 L1734.5 867.5" style="stroke-width:1.2"/>
<path class="m" d="M1734.5 858.4 L1736.8 859.5" style="stroke-width:1.2"/>
<path class="m" d="M1737.9 850.6 L1740.3 851.8" style="stroke-width:1.2"/>
<path class="m" d="M1742.3 843.5 L1744.6 844.6" style="stroke-width:1.2"/>
<path class="m" d="M1747.4 837.3 L1749.8 838.4" style="stroke-width:1.2"/>
<path class="m" d="M1753 832.4 L1755.3 833.5" style="stroke-width:1.2"/>
<path class="m" d="M1758.7 829 L1761.1 830.1" style="stroke-width:1.2"/>
<path class="m" d="M1764.4 827.3 L1766.7 828.5" style="stroke-width:1.2"/>
<path class="m" d="M1749.6 896 L1776.7 903.5" style="stroke-width:4.2"/>
<path class="m" d="M1745.4 887.4 L1773.1 896.1" style="stroke-width:4.2"/>
<path class="m" d="M1745.2 875.3 L1772.9 885.8" style="stroke-width:4.2"/>
<path class="m" d="M1748.8 862 L1776 874.4" style="stroke-width:4.2"/>
<path class="m" d="M1755.8 849.7 L1781.9 863.9" style="stroke-width:4.2"/>
<path class="m" d="M1764.8 840.5 L1789.7 856.1" style="stroke-width:4.2"/>
<path class="m" d="M1774.4 836 L1797.9 852.3" style="stroke-width:4.2"/>
<path class="m" d="M1782 836.6 L1804.3 852.8" style="stroke-width:4.2"/>
<circle class="k" cx="1759.6" cy="886.4" r="0.9"/>
<circle class="k" cx="1763.2" cy="887.6" r="0.9"/>
<circle class="k" cx="1766.9" cy="888.8" r="0.9"/>
<circle class="k" cx="1761.2" cy="874.6" r="0.9"/>
<circle class="k" cx="1764.8" cy="876.1" r="0.9"/>
<circle class="k" cx="1768.4" cy="877.6" r="0.9"/>
<circle class="k" cx="1766.1" cy="862.7" r="0.9"/>
<circle class="k" cx="1769.6" cy="864.5" r="0.9"/>
<circle class="k" cx="1773.1" cy="866.2" r="0.9"/>
<circle class="k" cx="1773.5" cy="852.8" r="0.9"/>
<circle class="k" cx="1776.8" cy="854.8" r="0.9"/>
<circle class="k" cx="1780.2" cy="856.7" r="0.9"/>
<path class="w" d="M1810.6 857.3 L1811.9 857.2 L1813 857.6 L1813.9 858.4 L1814.5 859.6 L1814.8 861.2 L1815.1 862.7 L1815.4 864.2 L1815.8 865.4 L1816.4 866.5 L1817.2 867.6 L1817.8 868.8 L1818.2 870.3 L1818.2 872 L1817.8 873.9 L1817.2 875.8 L1816.6 877.7 L1816 879.5 L1815.5 881.3 L1815.3 883 L1815.1 884.8 L1814.8 886.7 L1814.2 888.7 L1813.3 890.5 L1812.2 892.1 L1810.9 893.6 L1809.6 894.9 L1808.4 896.2 L1807.4 897.6 L1806.3 899.2 L1805.3 900.9 L1804.2 902.6 L1803 904.1 L1801.6 905.2 L1800.2 905.8 L1798.9 906.1 L1797.6 906.2 L1796.4 906.4 L1795.1 906.9 L1793.8 907.5 L1792.4 908.4 L1791 909 L1789.7 909.4 L1788.5 909.2 L1787.5 908.5 L1786.7 907.5 L1786 906.4 L1785.3 905.4 L1784.5 904.6 L1783.5 904.1 L1782.5 903.6 L1781.5 903 L1780.6 902 L1780.2 900.7 L1780 899 L1780.2 897.2 L1780.4 895.3 L1780.6 893.6 L1780.5 892 L1780.4 890.5 L1780.1 889 L1779.9 887.3 L1780 885.5 L1780.5 883.6 L1781.2 881.7 L1782.2 879.9 L1783.3 878.2 L1784.3 876.6 L1785.1 874.9 L1785.7 873.1 L1786.4 871.2 L1787.2 869.3 L1788.1 867.5 L1789.3 866 L1790.6 864.8 L1792 863.8 L1793.4 863.1 L1794.7 862.3 L1795.9 861.3 L1797.2 860.1 L1798.4 858.7 L1799.8 857.4 L1801.1 856.5 L1802.5 856 L1803.7 856 L1804.9 856.4 L1805.9 856.9 L1807 857.4 L1808.1 857.5 L1809.3 857.4 Z" style="stroke-width:3"/>
<path class="w" d="M1807.6 864.1 L1808.3 864.5 L1809 865 L1809.6 865.5 L1810.2 866.2 L1810.7 866.9 L1811.2 867.8 L1811.6 868.6 L1812 869.6 L1812.3 870.6 L1812.5 871.7 L1812.6 872.8 L1812.7 874 L1812.7 875.2 L1812.7 876.5 L1812.6 877.7 L1812.4 879 L1812.1 880.4 L1811.8 881.7 L1811.4 883 L1811 884.4 L1810.5 885.7 L1809.9 887 L1809.3 888.3 L1808.7 889.5 L1808 890.8 L1807.2 892 L1806.4 893.1 L1805.6 894.2 L1804.7 895.2 L1803.8 896.2 L1802.9 897.1 L1802 897.9 L1801 898.7 L1800 899.3 L1799.1 899.9 L1798.1 900.4 L1797.1 900.9 L1796.2 901.2 L1795.2 901.4 L1794.3 901.6 L1793.4 901.6 L1792.5 901.6 L1791.6 901.5 L1790.8 901.2 L1790 900.9 L1789.3 900.5 L1788.6 900 L1788 899.5 L1787.4 898.8 L1786.9 898.1 L1786.4 897.2 L1786 896.4 L1785.6 895.4 L1785.3 894.4 L1785.1 893.3 L1785 892.2 L1784.9 891 L1784.9 889.8 L1784.9 888.5 L1785 887.3 L1785.2 886 L1785.5 884.6 L1785.8 883.3 L1786.2 882 L1786.6 880.6 L1787.1 879.3 L1787.7 878 L1788.3 876.7 L1788.9 875.5 L1789.6 874.2 L1790.4 873 L1791.2 871.9 L1792 870.8 L1792.9 869.8 L1793.8 868.8 L1794.7 867.9 L1795.6 867.1 L1796.6 866.3 L1797.6 865.7 L1798.5 865.1 L1799.5 864.6 L1800.5 864.1 L1801.4 863.8 L1802.4 863.6 L1803.3 863.4 L1804.2 863.4 L1805.1 863.4 L1806 863.5 L1806.8 863.8 Z" style="stroke-width:3.2"/>
</g>
<g id="leaders" class="ld">
<path d="M491.7 118.6 L492.3 144"/>
<path d="M632.2 112 L632.2 137.2"/>
<path d="M783.1 130.6 L783.7 254.2"/>
<path d="M730.6 177 L730.6 166.4 L861.7 166.4 L861.7 263.3"/>
<path d="M730.6 212 L730.6 238.2"/>
<path d="M861.7 298.6 L861.7 347"/>
<path d="M1082.7 696 L1082.7 757"/>
<path d="M1359.8 764 L1359.8 849.6 L1492.6 849.6 L1492.6 839.6"/>
<path d="M1425.7 849.3 L1425.7 862.8"/>
<path d="M1492.6 785 L1492.6 802.5"/>
<path d="M1590.5 641.4 L1593.1 691.5"/>
<path d="M1720.8 741.6 L1724 806.8"/>
<path d="M1769.1 796.2 L1770.9 824.4"/>
<path d="M1640.5 815.6 L1642.9 873.8"/>
</g>
<g id="labels" opacity="0.999">
<text class="lbl" x="492.6" y="114">8</text>
<text class="lbl" x="632" y="107.6">6</text>
<text class="lbl" x="781.7" y="125.6">2</text>
<text class="lbl" x="730" y="206.4">7</text>
<path transform="translate(846,293.4)" d="M6 -22.9 L10.6 -22.9 L10.6 0 L5.9 0 L5.9 -15.9 L0 -15.9 L0 -19.2 C3.3 -19.3 5.4 -20.4 6 -22.9 Z" class="k" style="stroke-width:0.4"/>
<text class="lbl" style="fill:none;stroke:none" x="851.5" y="293.4">1</text>
<path transform="translate(863.6,293.4)" d="M6 -22.9 L10.6 -22.9 L10.6 0 L5.9 0 L5.9 -15.9 L0 -15.9 L0 -19.2 C3.3 -19.3 5.4 -20.4 6 -22.9 Z" class="k" style="stroke-width:0.4"/>
<text class="lbl" style="fill:none;stroke:none" x="869.1" y="293.4">1</text>
<text class="lbl" x="1083" y="787.6">4</text>
<text class="lbl" x="1426.5" y="892.6">3</text>
<path transform="translate(1485.3,832.5)" d="M6 -22.9 L10.6 -22.9 L10.6 0 L5.9 0 L5.9 -15.9 L0 -15.9 L0 -19.2 C3.3 -19.3 5.4 -20.4 6 -22.9 Z" class="k" style="stroke-width:0.4"/>
<text class="lbl" style="fill:none;stroke:none" x="1490.8" y="832.5">1</text>
<path transform="translate(1576,636)" d="M6 -22.9 L10.6 -22.9 L10.6 0 L5.9 0 L5.9 -15.9 L0 -15.9 L0 -19.2 C3.3 -19.3 5.4 -20.4 6 -22.9 Z" class="k" style="stroke-width:0.4"/>
<text class="lbl" style="fill:none;stroke:none" x="1581.5" y="636">1</text>
<text class="lbl" x="1597.8" y="635.6">0</text>
<path transform="translate(1706.7,737.4)" d="M6 -22.9 L10.6 -22.9 L10.6 0 L5.9 0 L5.9 -15.9 L0 -15.9 L0 -19.2 C3.3 -19.3 5.4 -20.4 6 -22.9 Z" class="k" style="stroke-width:0.4"/>
<text class="lbl" style="fill:none;stroke:none" x="1712.2" y="737.4">1</text>
<text class="lbl" x="1730.8" y="737">2</text>
<text class="lbl" x="1771.2" y="790.6">5</text>
<text class="lbl" x="1642.2" y="903.2">9</text>
<text class="code" x="1151" y="899.7" textLength="81.5" lengthAdjust="spacing">HN8A</text><path d="M1235.3 891.6 H1254.6" stroke="#000" stroke-width="1.5" fill="none"/><text class="code" x="1258.6" y="899.7" textLength="82.6" lengthAdjust="spacing">F1500</text>
</g>
<g id="fr">
<path class="k" d="M52.4 908.1 L57.1 877.5 L62.3 883.2 L96 859.4 L111.5 880.1 L78.9 906 L81.5 912.3 Z"/>
<g transform="translate(114.4,875.3) rotate(-36.5)" class="k" style="stroke-width:1.4"><text class="fr" style="fill:none;stroke:none" x="0" y="0">FR.</text><path d="M0 0 V-24 H15.5 V-19 H5.6 V-14.2 H13.8 V-9.4 H5.6 V0 Z"/><path transform="translate(19.3,0)" fill-rule="evenodd" d="M0 0 V-24 H11.5 C21.5 -24 21.5 -10.4 13.2 -9.8 L20.8 0 H14.2 L7.4 -9.4 H5.6 V0 Z M5.6 -19.4 V-14.2 H10.6 C14.4 -14.2 14.4 -19.4 10.6 -19.4 Z"/></g>
<circle class="k" cx="151.8" cy="842.6" r="4.2"/>
</g>
</svg>
</body>
</html>
